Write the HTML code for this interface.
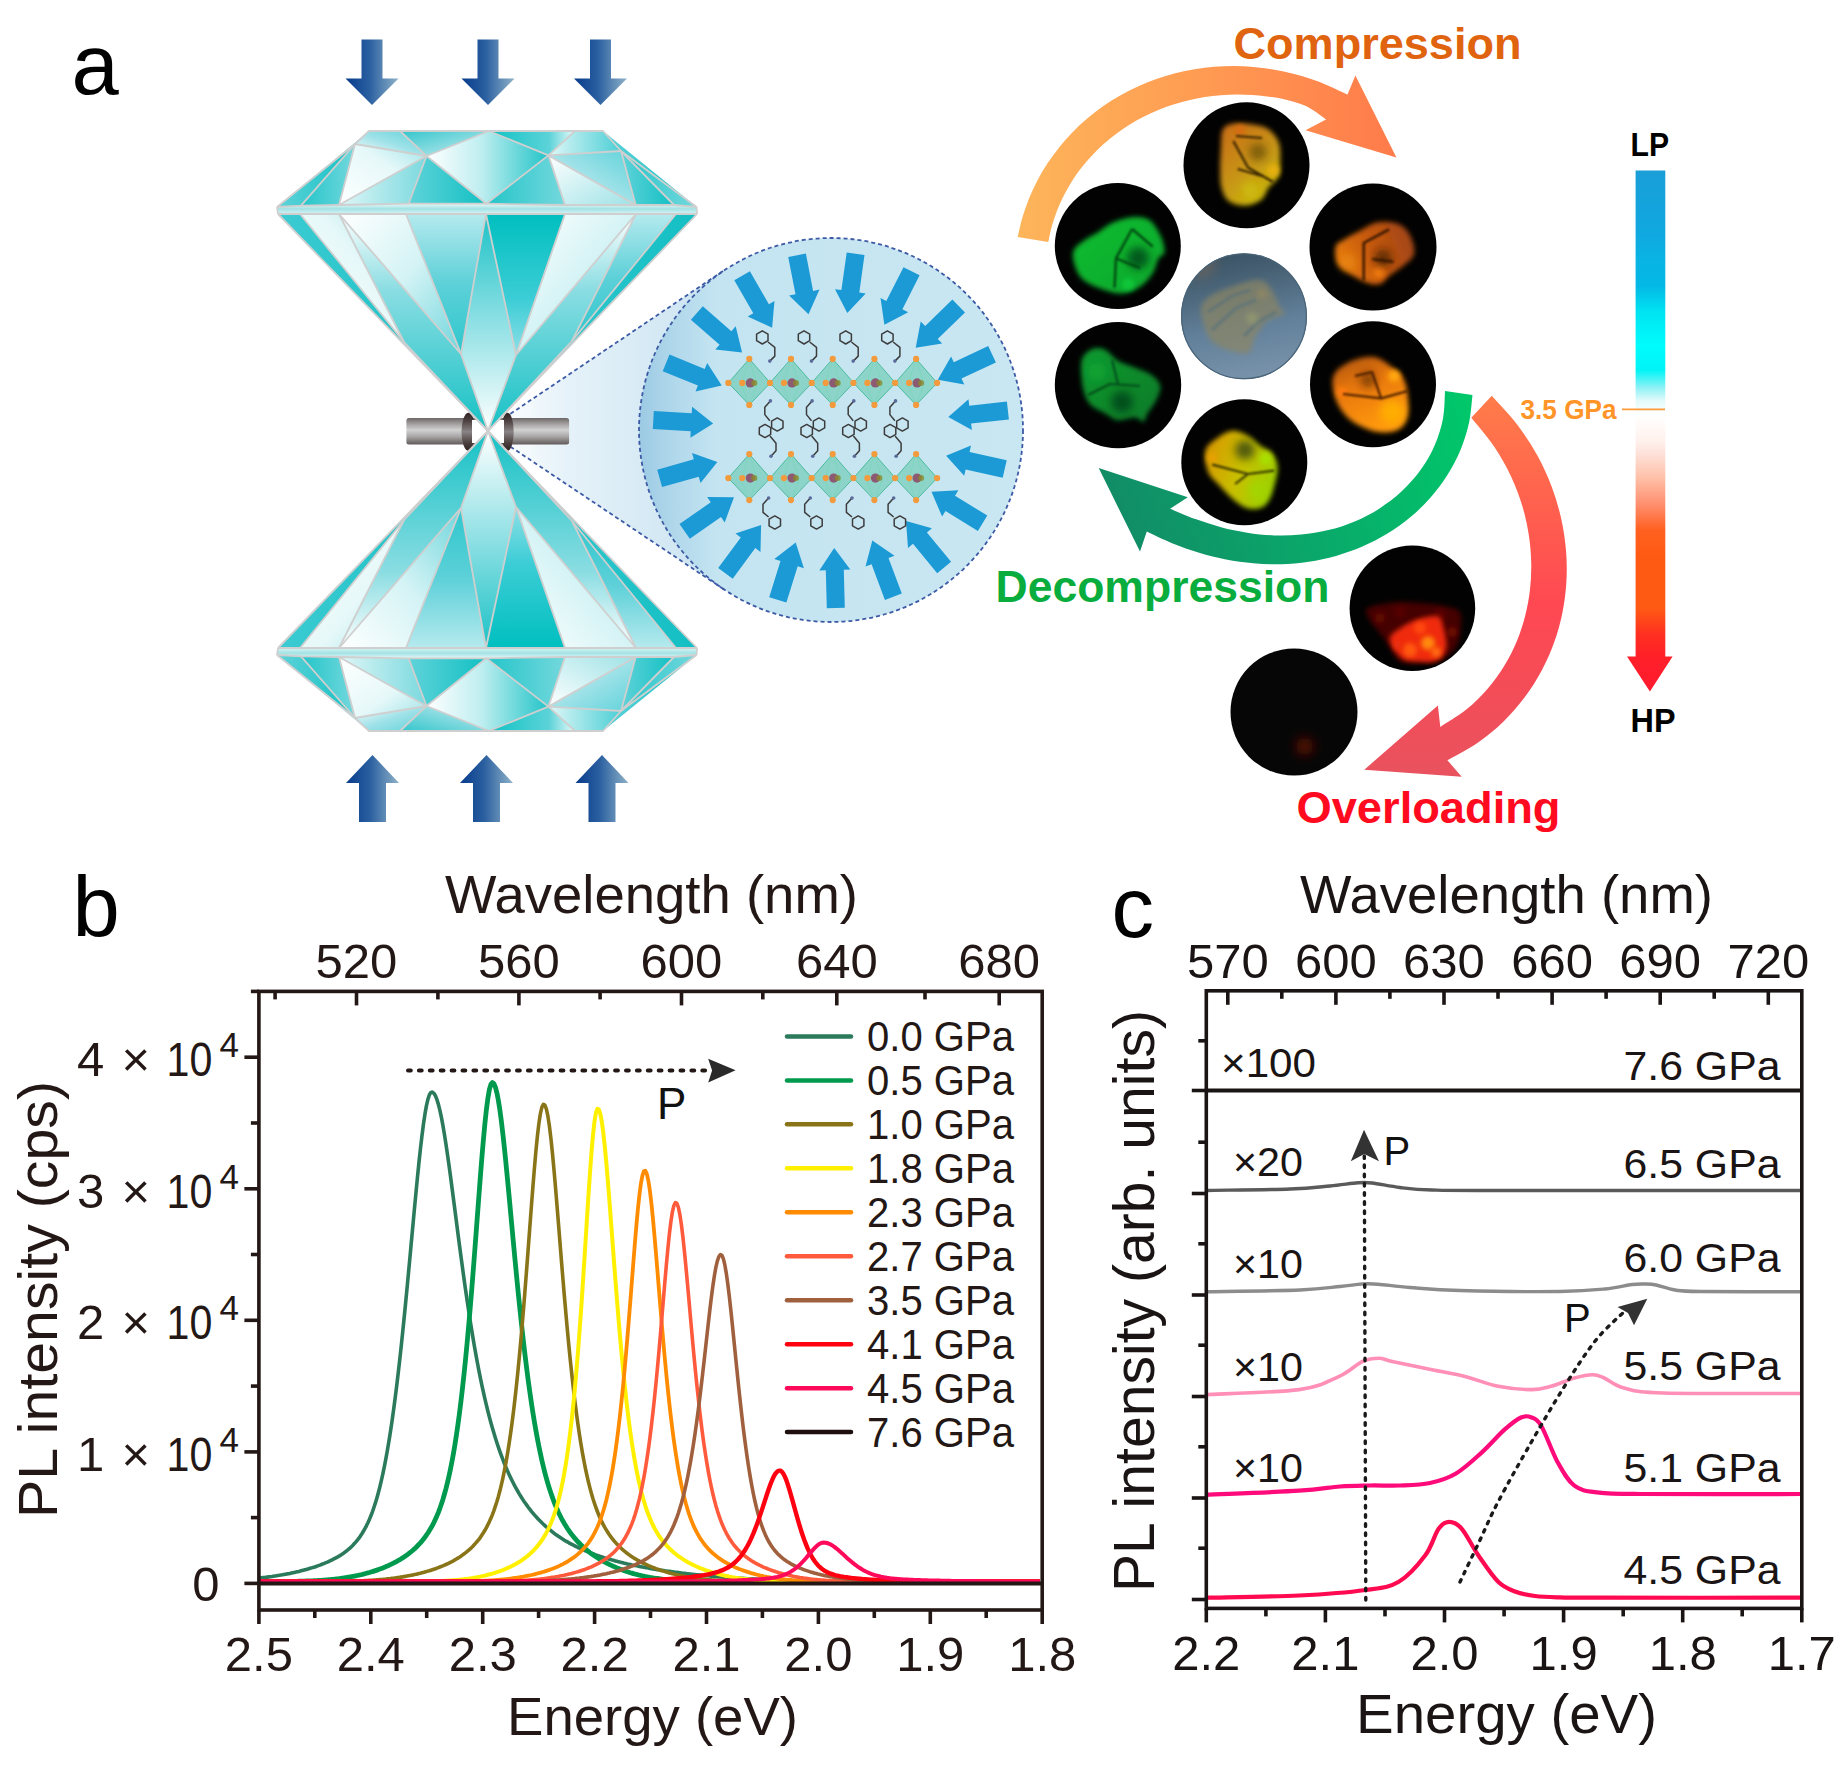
<!DOCTYPE html>
<html><head><meta charset="utf-8"><title>Figure</title>
<style>html,body{margin:0;padding:0;background:#fff;}svg{display:block;}</style>
</head><body>
<svg xmlns="http://www.w3.org/2000/svg" width="1841" height="1767" viewBox="0 0 1841 1767">
<defs>
<linearGradient id="gLt" x1="0" y1="1" x2="1" y2="0"><stop offset="0" stop-color="#ffffff"/><stop offset="0.5" stop-color="#9fe2e8"/><stop offset="1" stop-color="#5fd2da"/></linearGradient>
<linearGradient id="gLt2" x1="0" y1="0" x2="1" y2="0"><stop offset="0" stop-color="#dff6f7"/><stop offset="1" stop-color="#7ad9de"/></linearGradient>
<linearGradient id="gTW" x1="0" y1="0" x2="1" y2="1"><stop offset="0" stop-color="#33c6cc"/><stop offset="0.6" stop-color="#8fdde2"/><stop offset="1" stop-color="#ffffff"/></linearGradient>
<linearGradient id="gWT" x1="0" y1="0" x2="1" y2="0"><stop offset="0" stop-color="#ffffff"/><stop offset="0.45" stop-color="#bfeef0"/><stop offset="1" stop-color="#22c4c8"/></linearGradient>
<linearGradient id="gTT" x1="0" y1="0" x2="1" y2="0"><stop offset="0" stop-color="#0fc2c4"/><stop offset="0.7" stop-color="#5cd3d8"/><stop offset="1" stop-color="#e8fafa"/></linearGradient>
<linearGradient id="gWT2" x1="0" y1="0" x2="1" y2="0"><stop offset="0" stop-color="#e0f7f8"/><stop offset="1" stop-color="#4ccfd5"/></linearGradient>
<linearGradient id="gW" x1="0" y1="1" x2="1" y2="0"><stop offset="0" stop-color="#ffffff"/><stop offset="0.6" stop-color="#e6f8f9"/><stop offset="1" stop-color="#9fe3e8"/></linearGradient>
<linearGradient id="gW2" x1="0" y1="0" x2="1" y2="1"><stop offset="0" stop-color="#ffffff"/><stop offset="1" stop-color="#9ee2e6"/></linearGradient>
<linearGradient id="gT" x1="0" y1="0" x2="1" y2="0"><stop offset="0" stop-color="#5fd3d9"/><stop offset="1" stop-color="#12c0c3"/></linearGradient>
<linearGradient id="gT2" x1="0" y1="0" x2="1" y2="0"><stop offset="0" stop-color="#23c5c9"/><stop offset="1" stop-color="#74d8dd"/></linearGradient>
<linearGradient id="gGird" x1="0" y1="0" x2="0" y2="1"><stop offset="0" stop-color="#e8f8f8"/><stop offset="0.5" stop-color="#a3e2e4"/><stop offset="1" stop-color="#d8f4f5"/></linearGradient>
<linearGradient id="gPT" x1="0" y1="0" x2="1" y2="0"><stop offset="0" stop-color="#3ccbd2"/><stop offset="1" stop-color="#13bfc3"/></linearGradient>
<linearGradient id="gPT2" x1="0" y1="0" x2="0" y2="1"><stop offset="0" stop-color="#ffffff"/><stop offset="0.35" stop-color="#8adde2"/><stop offset="1" stop-color="#16c1c5"/></linearGradient>
<linearGradient id="gPW" x1="0" y1="0" x2="1" y2="1"><stop offset="0" stop-color="#ffffff"/><stop offset="0.5" stop-color="#d4f3f5"/><stop offset="1" stop-color="#6fd6dc"/></linearGradient>
<linearGradient id="gPL" x1="0" y1="0" x2="0" y2="1"><stop offset="0" stop-color="#b5eaee"/><stop offset="0.5" stop-color="#5dd0d8"/><stop offset="1" stop-color="#2ec7cd"/></linearGradient>
<linearGradient id="gPK" x1="0" y1="0" x2="0" y2="1"><stop offset="0" stop-color="#1cc2c6"/><stop offset="0.5" stop-color="#8ee0e4"/><stop offset="1" stop-color="#ffffff"/></linearGradient>
<linearGradient id="gPD" x1="0" y1="0" x2="0" y2="1"><stop offset="0" stop-color="#00bfbf"/><stop offset="0.6" stop-color="#3ccdd6"/><stop offset="1" stop-color="#8fdfe6"/></linearGradient>
</defs>
<rect width="1841" height="1767" fill="#ffffff"/>
<linearGradient id="gCone" x1="493" y1="0" x2="700" y2="0" gradientUnits="userSpaceOnUse"><stop offset="0" stop-color="#ffffff"/><stop offset="0.35" stop-color="#e6f2f9"/><stop offset="1" stop-color="#cde5f2"/></linearGradient>
<linearGradient id="gCirc" x1="639" y1="0" x2="1023" y2="0" gradientUnits="userSpaceOnUse"><stop offset="0" stop-color="#9ccae4"/><stop offset="0.08" stop-color="#aed6ea"/><stop offset="0.2" stop-color="#c4e4f1"/><stop offset="1" stop-color="#c9e7f2"/></linearGradient>
<path d="M492,425.5 L724.2,270.2 L831,430 L724.2,589.6 L492,435 Z" fill="url(#gCone)"/>
<circle cx="831" cy="430" r="192" fill="url(#gCirc)"/>
<circle cx="831" cy="430" r="192" fill="none" stroke="#3d5aa5" stroke-width="1.8" stroke-dasharray="4 3"/>
<path d="M493,425.5 L724.2,270.2" stroke="#3d5aa5" stroke-width="1.8" stroke-dasharray="4 3" fill="none"/>
<path d="M493,435 L724.2,589.6" stroke="#3d5aa5" stroke-width="1.8" stroke-dasharray="4 3" fill="none"/>
<polygon points="1006.9,401.5 969.2,405.7 968.5,399.2 948.3,417.1 971.9,430 971.1,423.6 1008.9,419.4" fill="#1c9ad6"/>
<polygon points="1006.7,460.2 969.6,451.9 971,445.5 946.1,455.8 964.2,475.8 965.6,469.4 1002.7,477.8" fill="#1c9ad6"/>
<polygon points="987.3,515.6 955,495.7 958.4,490.2 931.5,491.8 942.1,516.6 945.5,511 977.9,530.9" fill="#1c9ad6"/>
<polygon points="951.1,561.7 926.9,532.4 931.9,528.3 906,521.1 908,548 913,543.8 937.2,573.2" fill="#1c9ad6"/>
<polygon points="901.8,593.6 888.5,558 894.5,555.7 872.3,540.5 865.5,566.6 871.6,564.3 884.9,599.9" fill="#1c9ad6"/>
<polygon points="844.8,607.7 843.8,569.7 850.3,569.5 834.2,548 819.3,570.4 825.8,570.2 826.8,608.2" fill="#1c9ad6"/>
<polygon points="786.4,602.5 797.7,566.3 803.9,568.2 795.7,542.6 774.3,559 780.5,560.9 769.2,597.2" fill="#1c9ad6"/>
<polygon points="732.7,578.7 755.3,548.1 760.5,551.9 761.1,525 735.5,533.6 740.8,537.4 718.2,568" fill="#1c9ad6"/>
<polygon points="689.8,538.7 721,517.1 724.7,522.4 734,497.2 707.1,497 710.8,502.3 679.5,523.9" fill="#1c9ad6"/>
<polygon points="662.1,487 698.7,476.7 700.5,482.9 717.4,462 692,453.1 693.8,459.3 657.2,469.7" fill="#1c9ad6"/>
<polygon points="652.8,429 690.7,431.2 690.4,437.7 713.2,423.4 692.1,406.7 691.7,413.2 653.8,411.1" fill="#1c9ad6"/>
<polygon points="662.7,371.2 697.9,385.6 695.5,391.6 721.7,385.5 707.2,362.9 704.7,368.9 669.5,354.6" fill="#1c9ad6"/>
<polygon points="690.9,319.8 719.6,344.7 715.3,349.6 742.1,352.4 735.7,326.3 731.4,331.2 702.8,306.2" fill="#1c9ad6"/>
<polygon points="734.3,280.3 753.3,313.2 747.7,316.4 772.1,327.8 774.5,301 768.9,304.2 749.9,271.3" fill="#1c9ad6"/>
<polygon points="788.2,257 795.5,294.3 789.1,295.5 808.5,314.2 819.5,289.6 813.1,290.9 805.9,253.6" fill="#1c9ad6"/>
<polygon points="846.7,252.5 841.4,290.1 835,289.2 847.3,313.1 865.7,293.5 859.3,292.6 864.5,255" fill="#1c9ad6"/>
<polygon points="903.5,267.2 886.3,301.1 880.5,298.1 884.4,324.8 908.2,312.2 902.4,309.2 919.6,275.3" fill="#1c9ad6"/>
<polygon points="952.4,299.6 925.2,326 920.7,321.4 915.7,347.8 942.2,343.6 937.7,338.9 965,312.5" fill="#1c9ad6"/>
<polygon points="988.2,346.1 953.8,362.2 951.1,356.4 937.8,379.8 964.3,384.4 961.5,378.5 995.9,362.4" fill="#1c9ad6"/>
<polygon points="728.3,382.9 749.3,358.9 770.3,382.9 749.3,404.9" fill="#5cc4a8" fill-opacity="0.55" stroke="#4cbc9c" stroke-width="1"/>
<line x1="749.3" y1="358.9" x2="741.3" y2="384.9" stroke="#7fd6bd" stroke-width="1"/>
<line x1="749.3" y1="358.9" x2="757.3" y2="384.9" stroke="#7fd6bd" stroke-width="1"/>
<line x1="749.3" y1="404.9" x2="741.3" y2="384.9" stroke="#7fd6bd" stroke-width="1"/>
<line x1="749.3" y1="404.9" x2="757.3" y2="384.9" stroke="#7fd6bd" stroke-width="1"/>
<circle cx="750.3" cy="382.9" r="4.6" fill="#8c5a72"/>
<circle cx="754.3" cy="382.9" r="3" fill="#8a8a2a" fill-opacity="0.8"/>
<circle cx="749.3" cy="358.9" r="3.1" fill="#f39a3c"/>
<circle cx="749.3" cy="404.9" r="3.1" fill="#f39a3c"/>
<circle cx="728.3" cy="382.9" r="3.1" fill="#f39a3c"/>
<circle cx="742.3" cy="382.9" r="3.1" fill="#f39a3c"/>
<polygon points="770,382.9 791,358.9 812,382.9 791,404.9" fill="#5cc4a8" fill-opacity="0.55" stroke="#4cbc9c" stroke-width="1"/>
<line x1="791" y1="358.9" x2="783" y2="384.9" stroke="#7fd6bd" stroke-width="1"/>
<line x1="791" y1="358.9" x2="799" y2="384.9" stroke="#7fd6bd" stroke-width="1"/>
<line x1="791" y1="404.9" x2="783" y2="384.9" stroke="#7fd6bd" stroke-width="1"/>
<line x1="791" y1="404.9" x2="799" y2="384.9" stroke="#7fd6bd" stroke-width="1"/>
<circle cx="792" cy="382.9" r="4.6" fill="#8c5a72"/>
<circle cx="796" cy="382.9" r="3" fill="#8a8a2a" fill-opacity="0.8"/>
<circle cx="791" cy="358.9" r="3.1" fill="#f39a3c"/>
<circle cx="791" cy="404.9" r="3.1" fill="#f39a3c"/>
<circle cx="770" cy="382.9" r="3.1" fill="#f39a3c"/>
<circle cx="784" cy="382.9" r="3.1" fill="#f39a3c"/>
<polygon points="811.7,382.9 832.7,358.9 853.7,382.9 832.7,404.9" fill="#5cc4a8" fill-opacity="0.55" stroke="#4cbc9c" stroke-width="1"/>
<line x1="832.7" y1="358.9" x2="824.7" y2="384.9" stroke="#7fd6bd" stroke-width="1"/>
<line x1="832.7" y1="358.9" x2="840.7" y2="384.9" stroke="#7fd6bd" stroke-width="1"/>
<line x1="832.7" y1="404.9" x2="824.7" y2="384.9" stroke="#7fd6bd" stroke-width="1"/>
<line x1="832.7" y1="404.9" x2="840.7" y2="384.9" stroke="#7fd6bd" stroke-width="1"/>
<circle cx="833.7" cy="382.9" r="4.6" fill="#8c5a72"/>
<circle cx="837.7" cy="382.9" r="3" fill="#8a8a2a" fill-opacity="0.8"/>
<circle cx="832.7" cy="358.9" r="3.1" fill="#f39a3c"/>
<circle cx="832.7" cy="404.9" r="3.1" fill="#f39a3c"/>
<circle cx="811.7" cy="382.9" r="3.1" fill="#f39a3c"/>
<circle cx="825.7" cy="382.9" r="3.1" fill="#f39a3c"/>
<polygon points="853.4,382.9 874.4,358.9 895.4,382.9 874.4,404.9" fill="#5cc4a8" fill-opacity="0.55" stroke="#4cbc9c" stroke-width="1"/>
<line x1="874.4" y1="358.9" x2="866.4" y2="384.9" stroke="#7fd6bd" stroke-width="1"/>
<line x1="874.4" y1="358.9" x2="882.4" y2="384.9" stroke="#7fd6bd" stroke-width="1"/>
<line x1="874.4" y1="404.9" x2="866.4" y2="384.9" stroke="#7fd6bd" stroke-width="1"/>
<line x1="874.4" y1="404.9" x2="882.4" y2="384.9" stroke="#7fd6bd" stroke-width="1"/>
<circle cx="875.4" cy="382.9" r="4.6" fill="#8c5a72"/>
<circle cx="879.4" cy="382.9" r="3" fill="#8a8a2a" fill-opacity="0.8"/>
<circle cx="874.4" cy="358.9" r="3.1" fill="#f39a3c"/>
<circle cx="874.4" cy="404.9" r="3.1" fill="#f39a3c"/>
<circle cx="853.4" cy="382.9" r="3.1" fill="#f39a3c"/>
<circle cx="867.4" cy="382.9" r="3.1" fill="#f39a3c"/>
<polygon points="895.1,382.9 916.1,358.9 937.1,382.9 916.1,404.9" fill="#5cc4a8" fill-opacity="0.55" stroke="#4cbc9c" stroke-width="1"/>
<line x1="916.1" y1="358.9" x2="908.1" y2="384.9" stroke="#7fd6bd" stroke-width="1"/>
<line x1="916.1" y1="358.9" x2="924.1" y2="384.9" stroke="#7fd6bd" stroke-width="1"/>
<line x1="916.1" y1="404.9" x2="908.1" y2="384.9" stroke="#7fd6bd" stroke-width="1"/>
<line x1="916.1" y1="404.9" x2="924.1" y2="384.9" stroke="#7fd6bd" stroke-width="1"/>
<circle cx="917.1" cy="382.9" r="4.6" fill="#8c5a72"/>
<circle cx="921.1" cy="382.9" r="3" fill="#8a8a2a" fill-opacity="0.8"/>
<circle cx="916.1" cy="358.9" r="3.1" fill="#f39a3c"/>
<circle cx="916.1" cy="404.9" r="3.1" fill="#f39a3c"/>
<circle cx="895.1" cy="382.9" r="3.1" fill="#f39a3c"/>
<circle cx="909.1" cy="382.9" r="3.1" fill="#f39a3c"/>
<circle cx="937.1" cy="382.9" r="3.1" fill="#f39a3c"/>
<polygon points="728.3,478.1 749.3,454.1 770.3,478.1 749.3,500.1" fill="#5cc4a8" fill-opacity="0.55" stroke="#4cbc9c" stroke-width="1"/>
<line x1="749.3" y1="454.1" x2="741.3" y2="480.1" stroke="#7fd6bd" stroke-width="1"/>
<line x1="749.3" y1="454.1" x2="757.3" y2="480.1" stroke="#7fd6bd" stroke-width="1"/>
<line x1="749.3" y1="500.1" x2="741.3" y2="480.1" stroke="#7fd6bd" stroke-width="1"/>
<line x1="749.3" y1="500.1" x2="757.3" y2="480.1" stroke="#7fd6bd" stroke-width="1"/>
<circle cx="750.3" cy="478.1" r="4.6" fill="#8c5a72"/>
<circle cx="754.3" cy="478.1" r="3" fill="#8a8a2a" fill-opacity="0.8"/>
<circle cx="749.3" cy="454.1" r="3.1" fill="#f39a3c"/>
<circle cx="749.3" cy="500.1" r="3.1" fill="#f39a3c"/>
<circle cx="728.3" cy="478.1" r="3.1" fill="#f39a3c"/>
<circle cx="742.3" cy="478.1" r="3.1" fill="#f39a3c"/>
<polygon points="770,478.1 791,454.1 812,478.1 791,500.1" fill="#5cc4a8" fill-opacity="0.55" stroke="#4cbc9c" stroke-width="1"/>
<line x1="791" y1="454.1" x2="783" y2="480.1" stroke="#7fd6bd" stroke-width="1"/>
<line x1="791" y1="454.1" x2="799" y2="480.1" stroke="#7fd6bd" stroke-width="1"/>
<line x1="791" y1="500.1" x2="783" y2="480.1" stroke="#7fd6bd" stroke-width="1"/>
<line x1="791" y1="500.1" x2="799" y2="480.1" stroke="#7fd6bd" stroke-width="1"/>
<circle cx="792" cy="478.1" r="4.6" fill="#8c5a72"/>
<circle cx="796" cy="478.1" r="3" fill="#8a8a2a" fill-opacity="0.8"/>
<circle cx="791" cy="454.1" r="3.1" fill="#f39a3c"/>
<circle cx="791" cy="500.1" r="3.1" fill="#f39a3c"/>
<circle cx="770" cy="478.1" r="3.1" fill="#f39a3c"/>
<circle cx="784" cy="478.1" r="3.1" fill="#f39a3c"/>
<polygon points="811.7,478.1 832.7,454.1 853.7,478.1 832.7,500.1" fill="#5cc4a8" fill-opacity="0.55" stroke="#4cbc9c" stroke-width="1"/>
<line x1="832.7" y1="454.1" x2="824.7" y2="480.1" stroke="#7fd6bd" stroke-width="1"/>
<line x1="832.7" y1="454.1" x2="840.7" y2="480.1" stroke="#7fd6bd" stroke-width="1"/>
<line x1="832.7" y1="500.1" x2="824.7" y2="480.1" stroke="#7fd6bd" stroke-width="1"/>
<line x1="832.7" y1="500.1" x2="840.7" y2="480.1" stroke="#7fd6bd" stroke-width="1"/>
<circle cx="833.7" cy="478.1" r="4.6" fill="#8c5a72"/>
<circle cx="837.7" cy="478.1" r="3" fill="#8a8a2a" fill-opacity="0.8"/>
<circle cx="832.7" cy="454.1" r="3.1" fill="#f39a3c"/>
<circle cx="832.7" cy="500.1" r="3.1" fill="#f39a3c"/>
<circle cx="811.7" cy="478.1" r="3.1" fill="#f39a3c"/>
<circle cx="825.7" cy="478.1" r="3.1" fill="#f39a3c"/>
<polygon points="853.4,478.1 874.4,454.1 895.4,478.1 874.4,500.1" fill="#5cc4a8" fill-opacity="0.55" stroke="#4cbc9c" stroke-width="1"/>
<line x1="874.4" y1="454.1" x2="866.4" y2="480.1" stroke="#7fd6bd" stroke-width="1"/>
<line x1="874.4" y1="454.1" x2="882.4" y2="480.1" stroke="#7fd6bd" stroke-width="1"/>
<line x1="874.4" y1="500.1" x2="866.4" y2="480.1" stroke="#7fd6bd" stroke-width="1"/>
<line x1="874.4" y1="500.1" x2="882.4" y2="480.1" stroke="#7fd6bd" stroke-width="1"/>
<circle cx="875.4" cy="478.1" r="4.6" fill="#8c5a72"/>
<circle cx="879.4" cy="478.1" r="3" fill="#8a8a2a" fill-opacity="0.8"/>
<circle cx="874.4" cy="454.1" r="3.1" fill="#f39a3c"/>
<circle cx="874.4" cy="500.1" r="3.1" fill="#f39a3c"/>
<circle cx="853.4" cy="478.1" r="3.1" fill="#f39a3c"/>
<circle cx="867.4" cy="478.1" r="3.1" fill="#f39a3c"/>
<polygon points="895.1,478.1 916.1,454.1 937.1,478.1 916.1,500.1" fill="#5cc4a8" fill-opacity="0.55" stroke="#4cbc9c" stroke-width="1"/>
<line x1="916.1" y1="454.1" x2="908.1" y2="480.1" stroke="#7fd6bd" stroke-width="1"/>
<line x1="916.1" y1="454.1" x2="924.1" y2="480.1" stroke="#7fd6bd" stroke-width="1"/>
<line x1="916.1" y1="500.1" x2="908.1" y2="480.1" stroke="#7fd6bd" stroke-width="1"/>
<line x1="916.1" y1="500.1" x2="924.1" y2="480.1" stroke="#7fd6bd" stroke-width="1"/>
<circle cx="917.1" cy="478.1" r="4.6" fill="#8c5a72"/>
<circle cx="921.1" cy="478.1" r="3" fill="#8a8a2a" fill-opacity="0.8"/>
<circle cx="916.1" cy="454.1" r="3.1" fill="#f39a3c"/>
<circle cx="916.1" cy="500.1" r="3.1" fill="#f39a3c"/>
<circle cx="895.1" cy="478.1" r="3.1" fill="#f39a3c"/>
<circle cx="909.1" cy="478.1" r="3.1" fill="#f39a3c"/>
<circle cx="937.1" cy="478.1" r="3.1" fill="#f39a3c"/>
<polygon points="768,340.7 762.3,344 756.6,340.7 756.6,334.1 762.3,330.8 768,334.1" fill="none" stroke="#3c3c3c" stroke-width="1.5" stroke-linejoin="round"/>
<polyline points="768,342 774.8,347.4 774.8,356.1 769.8,361.1" fill="none" stroke="#3c3c3c" stroke-width="1.5" stroke-linejoin="round"/>
<circle cx="769.8" cy="361.1" r="1.8" fill="#5a6a9a"/>
<polyline points="770.4,400.9 764.8,407.2 764.8,414.6 769.8,420.8" fill="none" stroke="#3c3c3c" stroke-width="1.5" stroke-linejoin="round"/>
<circle cx="770.4" cy="400.9" r="1.8" fill="#5a6a9a"/>
<polygon points="783,427.8 777.3,431.1 771.6,427.8 771.6,421.2 777.3,417.9 783,421.2" fill="none" stroke="#3c3c3c" stroke-width="1.5" stroke-linejoin="round"/>
<polygon points="770.7,434.3 765,437.6 759.3,434.3 759.3,427.7 765,424.4 770.7,427.7" fill="none" stroke="#3c3c3c" stroke-width="1.5" stroke-linejoin="round"/>
<polyline points="770,436 776,443.3 776,450.7 771,456.3" fill="none" stroke="#3c3c3c" stroke-width="1.5" stroke-linejoin="round"/>
<circle cx="771" cy="456.3" r="1.8" fill="#5a6a9a"/>
<polyline points="768.6,498 763,504.3 763,512.4 768.6,517" fill="none" stroke="#3c3c3c" stroke-width="1.5" stroke-linejoin="round"/>
<circle cx="768.6" cy="498" r="1.8" fill="#5a6a9a"/>
<polygon points="780.5,525.8 774.8,529.1 769.1,525.8 769.1,519.2 774.8,515.9 780.5,519.2" fill="none" stroke="#3c3c3c" stroke-width="1.5" stroke-linejoin="round"/>
<polygon points="809.7,340.7 804,344 798.3,340.7 798.3,334.1 804,330.8 809.7,334.1" fill="none" stroke="#3c3c3c" stroke-width="1.5" stroke-linejoin="round"/>
<polyline points="809.7,342 816.5,347.4 816.5,356.1 811.5,361.1" fill="none" stroke="#3c3c3c" stroke-width="1.5" stroke-linejoin="round"/>
<circle cx="811.5" cy="361.1" r="1.8" fill="#5a6a9a"/>
<polyline points="812.1,400.9 806.5,407.2 806.5,414.6 811.5,420.8" fill="none" stroke="#3c3c3c" stroke-width="1.5" stroke-linejoin="round"/>
<circle cx="812.1" cy="400.9" r="1.8" fill="#5a6a9a"/>
<polygon points="824.7,427.8 819,431.1 813.3,427.8 813.3,421.2 819,417.9 824.7,421.2" fill="none" stroke="#3c3c3c" stroke-width="1.5" stroke-linejoin="round"/>
<polygon points="812.4,434.3 806.7,437.6 801,434.3 801,427.7 806.7,424.4 812.4,427.7" fill="none" stroke="#3c3c3c" stroke-width="1.5" stroke-linejoin="round"/>
<polyline points="811.7,436 817.7,443.3 817.7,450.7 812.7,456.3" fill="none" stroke="#3c3c3c" stroke-width="1.5" stroke-linejoin="round"/>
<circle cx="812.7" cy="456.3" r="1.8" fill="#5a6a9a"/>
<polyline points="810.3,498 804.7,504.3 804.7,512.4 810.3,517" fill="none" stroke="#3c3c3c" stroke-width="1.5" stroke-linejoin="round"/>
<circle cx="810.3" cy="498" r="1.8" fill="#5a6a9a"/>
<polygon points="822.2,525.8 816.5,529.1 810.8,525.8 810.8,519.2 816.5,515.9 822.2,519.2" fill="none" stroke="#3c3c3c" stroke-width="1.5" stroke-linejoin="round"/>
<polygon points="851.4,340.7 845.7,344 840,340.7 840,334.1 845.7,330.8 851.4,334.1" fill="none" stroke="#3c3c3c" stroke-width="1.5" stroke-linejoin="round"/>
<polyline points="851.4,342 858.2,347.4 858.2,356.1 853.2,361.1" fill="none" stroke="#3c3c3c" stroke-width="1.5" stroke-linejoin="round"/>
<circle cx="853.2" cy="361.1" r="1.8" fill="#5a6a9a"/>
<polyline points="853.8,400.9 848.2,407.2 848.2,414.6 853.2,420.8" fill="none" stroke="#3c3c3c" stroke-width="1.5" stroke-linejoin="round"/>
<circle cx="853.8" cy="400.9" r="1.8" fill="#5a6a9a"/>
<polygon points="866.4,427.8 860.7,431.1 855,427.8 855,421.2 860.7,417.9 866.4,421.2" fill="none" stroke="#3c3c3c" stroke-width="1.5" stroke-linejoin="round"/>
<polygon points="854.1,434.3 848.4,437.6 842.7,434.3 842.7,427.7 848.4,424.4 854.1,427.7" fill="none" stroke="#3c3c3c" stroke-width="1.5" stroke-linejoin="round"/>
<polyline points="853.4,436 859.4,443.3 859.4,450.7 854.4,456.3" fill="none" stroke="#3c3c3c" stroke-width="1.5" stroke-linejoin="round"/>
<circle cx="854.4" cy="456.3" r="1.8" fill="#5a6a9a"/>
<polyline points="852,498 846.4,504.3 846.4,512.4 852,517" fill="none" stroke="#3c3c3c" stroke-width="1.5" stroke-linejoin="round"/>
<circle cx="852" cy="498" r="1.8" fill="#5a6a9a"/>
<polygon points="863.9,525.8 858.2,529.1 852.5,525.8 852.5,519.2 858.2,515.9 863.9,519.2" fill="none" stroke="#3c3c3c" stroke-width="1.5" stroke-linejoin="round"/>
<polygon points="893.1,340.7 887.4,344 881.7,340.7 881.7,334.1 887.4,330.8 893.1,334.1" fill="none" stroke="#3c3c3c" stroke-width="1.5" stroke-linejoin="round"/>
<polyline points="893.1,342 899.9,347.4 899.9,356.1 894.9,361.1" fill="none" stroke="#3c3c3c" stroke-width="1.5" stroke-linejoin="round"/>
<circle cx="894.9" cy="361.1" r="1.8" fill="#5a6a9a"/>
<polyline points="895.5,400.9 889.9,407.2 889.9,414.6 894.9,420.8" fill="none" stroke="#3c3c3c" stroke-width="1.5" stroke-linejoin="round"/>
<circle cx="895.5" cy="400.9" r="1.8" fill="#5a6a9a"/>
<polygon points="908.1,427.8 902.4,431.1 896.7,427.8 896.7,421.2 902.4,417.9 908.1,421.2" fill="none" stroke="#3c3c3c" stroke-width="1.5" stroke-linejoin="round"/>
<polygon points="895.8,434.3 890.1,437.6 884.4,434.3 884.4,427.7 890.1,424.4 895.8,427.7" fill="none" stroke="#3c3c3c" stroke-width="1.5" stroke-linejoin="round"/>
<polyline points="895.1,436 901.1,443.3 901.1,450.7 896.1,456.3" fill="none" stroke="#3c3c3c" stroke-width="1.5" stroke-linejoin="round"/>
<circle cx="896.1" cy="456.3" r="1.8" fill="#5a6a9a"/>
<polyline points="893.7,498 888.1,504.3 888.1,512.4 893.7,517" fill="none" stroke="#3c3c3c" stroke-width="1.5" stroke-linejoin="round"/>
<circle cx="893.7" cy="498" r="1.8" fill="#5a6a9a"/>
<polygon points="905.6,525.8 899.9,529.1 894.2,525.8 894.2,519.2 899.9,515.9 905.6,519.2" fill="none" stroke="#3c3c3c" stroke-width="1.5" stroke-linejoin="round"/>
<linearGradient id="gGas" x1="0" y1="0" x2="0" y2="1"><stop offset="0" stop-color="#6e6868"/><stop offset="0.18" stop-color="#9a9696"/><stop offset="0.45" stop-color="#d2d2d2"/><stop offset="0.7" stop-color="#a8a6a6"/><stop offset="1" stop-color="#625a5a"/></linearGradient>
<linearGradient id="gBump" x1="0" y1="0" x2="0" y2="1"><stop offset="0" stop-color="#2e2222"/><stop offset="0.2" stop-color="#4a3e3e"/><stop offset="0.5" stop-color="#8a8484"/><stop offset="0.8" stop-color="#4a3e3e"/><stop offset="1" stop-color="#2e2222"/></linearGradient>
<rect x="406.4" y="418.1" width="162.7" height="26.4" rx="2.5" fill="url(#gGas)"/>
<ellipse cx="468.5" cy="431.7" rx="7" ry="19" fill="url(#gBump)"/>
<ellipse cx="507.5" cy="431.7" rx="6.2" ry="19" fill="url(#gBump)"/>
<rect x="472" y="420" width="32" height="23" fill="#ffffff"/>
<g>
<polygon points="369,131 400,131 426.5,156 355,144" fill="url(#gLt)"/>
<polygon points="400,131 489,131 426.5,156" fill="url(#gTW)"/>
<polygon points="489,131 548.4,155.4 486.3,203.7 426.5,156" fill="url(#gWT)"/>
<polygon points="489,131 575,131 548.4,155.4" fill="url(#gTT)"/>
<polygon points="575,131 603,131 621,151 548.4,155.4" fill="url(#gWT2)"/>
<polygon points="355,144 426.5,156 339,205" fill="url(#gW)"/>
<polygon points="426.5,156 408.6,203.7 339,205" fill="url(#gLt2)"/>
<polygon points="426.5,156 486.3,203.7 408.6,203.7" fill="url(#gT)"/>
<polygon points="548.4,155.4 486.3,203.7 565,205" fill="url(#gT2)"/>
<polygon points="548.4,155.4 565,205 635.7,205" fill="url(#gW2)"/>
<polygon points="548.4,155.4 635.7,205 621,151" fill="url(#gLt)"/>
<polygon points="277,207 355,144 301,205.6" fill="url(#gT)"/>
<polygon points="355,144 339,205 301,205.6" fill="url(#gT2)"/>
<polygon points="621,151 635.7,205 674,205" fill="url(#gT)"/>
<polygon points="621,151 674,205 696.6,207" fill="url(#gT2)"/>
<polygon points="369,131 355,144 277,207" fill="url(#gLt)"/>
<polygon points="603,131 696.6,207 621,151" fill="url(#gT)"/>
<polygon points="277,207 301,205.6 339,205 408.6,203.7 486.3,203.7 565,205 635.7,205 674,205 696.6,207 697,214 278,214" fill="url(#gGird)"/>
<polygon points="278,214 300,214 404,342 488,431" fill="url(#gPT)"/>
<polygon points="300,214 339,214 404,342" fill="url(#gW)"/>
<polygon points="339,214 461,354 488,431 404,342" fill="url(#gPT2)"/>
<polygon points="339,214 406,214 461,354" fill="url(#gPW)"/>
<polygon points="406,214 486,214 461,354" fill="url(#gPL)"/>
<polygon points="486,214 461,354 488,431" fill="url(#gPT)"/>
<polygon points="486,214 516,355 488,431 461,354" fill="url(#gPK)"/>
<polygon points="486,214 565,214 516,355" fill="url(#gPD)"/>
<polygon points="565,214 636,214 516,355" fill="url(#gPW)"/>
<polygon points="636,214 572,341 488,431 516,355" fill="url(#gPT2)"/>
<polygon points="636,214 676,214 572,341" fill="url(#gPL)"/>
<polygon points="676,214 697,214 488,431 572,341" fill="url(#gPT)"/>
<polyline points="277,207 355,144 369,131 603,131 621,151 696.6,207" fill="none" stroke="#cfcfcf" stroke-width="1.8" stroke-linejoin="round"/>
<polyline points="400,131 426.5,156 489,131 548.4,155.4 575,131" fill="none" stroke="#cfcfcf" stroke-width="1.8" stroke-linejoin="round"/>
<polyline points="355,144 426.5,156 486.3,203.7 548.4,155.4 621,151" fill="none" stroke="#cfcfcf" stroke-width="1.8" stroke-linejoin="round"/>
<polyline points="426.5,156 339,205" fill="none" stroke="#cfcfcf" stroke-width="1.8" stroke-linejoin="round"/>
<polyline points="426.5,156 408.6,203.7" fill="none" stroke="#cfcfcf" stroke-width="1.8" stroke-linejoin="round"/>
<polyline points="548.4,155.4 565,205" fill="none" stroke="#cfcfcf" stroke-width="1.8" stroke-linejoin="round"/>
<polyline points="548.4,155.4 635.7,205" fill="none" stroke="#cfcfcf" stroke-width="1.8" stroke-linejoin="round"/>
<polyline points="355,144 339,205" fill="none" stroke="#cfcfcf" stroke-width="1.8" stroke-linejoin="round"/>
<polyline points="621,151 635.7,205" fill="none" stroke="#cfcfcf" stroke-width="1.8" stroke-linejoin="round"/>
<polyline points="301,205.6 355,144" fill="none" stroke="#cfcfcf" stroke-width="1.8" stroke-linejoin="round"/>
<polyline points="674,205 621,151" fill="none" stroke="#cfcfcf" stroke-width="1.8" stroke-linejoin="round"/>
<polyline points="277,207 301,205.6 339,205 408.6,203.7 486.3,203.7 565,205 635.7,205 674,205 696.6,207" fill="none" stroke="#cfcfcf" stroke-width="1.8" stroke-linejoin="round"/>
<polyline points="278,214 697,214" fill="none" stroke="#cfcfcf" stroke-width="1.8" stroke-linejoin="round"/>
<polyline points="277,207 278,214" fill="none" stroke="#cfcfcf" stroke-width="1.8" stroke-linejoin="round"/>
<polyline points="696.6,207 697,214" fill="none" stroke="#cfcfcf" stroke-width="1.8" stroke-linejoin="round"/>
<polyline points="278,214 488,431 697,214" fill="none" stroke="#cfcfcf" stroke-width="1.8" stroke-linejoin="round"/>
<polyline points="300,214 404,342" fill="none" stroke="#cfcfcf" stroke-width="1.8" stroke-linejoin="round"/>
<polyline points="339,214 404,342" fill="none" stroke="#cfcfcf" stroke-width="1.8" stroke-linejoin="round"/>
<polyline points="339,214 461,354" fill="none" stroke="#cfcfcf" stroke-width="1.8" stroke-linejoin="round"/>
<polyline points="406,214 461,354" fill="none" stroke="#cfcfcf" stroke-width="1.8" stroke-linejoin="round"/>
<polyline points="486,214 461,354" fill="none" stroke="#cfcfcf" stroke-width="1.8" stroke-linejoin="round"/>
<polyline points="486,214 516,355" fill="none" stroke="#cfcfcf" stroke-width="1.8" stroke-linejoin="round"/>
<polyline points="565,214 516,355" fill="none" stroke="#cfcfcf" stroke-width="1.8" stroke-linejoin="round"/>
<polyline points="636,214 516,355" fill="none" stroke="#cfcfcf" stroke-width="1.8" stroke-linejoin="round"/>
<polyline points="636,214 572,341" fill="none" stroke="#cfcfcf" stroke-width="1.8" stroke-linejoin="round"/>
<polyline points="676,214 572,341" fill="none" stroke="#cfcfcf" stroke-width="1.8" stroke-linejoin="round"/>
<polyline points="404,342 488,431" fill="none" stroke="#cfcfcf" stroke-width="1.8" stroke-linejoin="round"/>
<polyline points="461,354 488,431" fill="none" stroke="#cfcfcf" stroke-width="1.8" stroke-linejoin="round"/>
<polyline points="516,355 488,431" fill="none" stroke="#cfcfcf" stroke-width="1.8" stroke-linejoin="round"/>
<polyline points="572,341 488,431" fill="none" stroke="#cfcfcf" stroke-width="1.8" stroke-linejoin="round"/>
</g>
<g transform="matrix(1 0 0 -1 0 862)">
<polygon points="369,131 400,131 426.5,156 355,144" fill="url(#gLt)"/>
<polygon points="400,131 489,131 426.5,156" fill="url(#gTW)"/>
<polygon points="489,131 548.4,155.4 486.3,203.7 426.5,156" fill="url(#gWT)"/>
<polygon points="489,131 575,131 548.4,155.4" fill="url(#gTT)"/>
<polygon points="575,131 603,131 621,151 548.4,155.4" fill="url(#gWT2)"/>
<polygon points="355,144 426.5,156 339,205" fill="url(#gW)"/>
<polygon points="426.5,156 408.6,203.7 339,205" fill="url(#gLt2)"/>
<polygon points="426.5,156 486.3,203.7 408.6,203.7" fill="url(#gT)"/>
<polygon points="548.4,155.4 486.3,203.7 565,205" fill="url(#gT2)"/>
<polygon points="548.4,155.4 565,205 635.7,205" fill="url(#gW2)"/>
<polygon points="548.4,155.4 635.7,205 621,151" fill="url(#gLt)"/>
<polygon points="277,207 355,144 301,205.6" fill="url(#gT)"/>
<polygon points="355,144 339,205 301,205.6" fill="url(#gT2)"/>
<polygon points="621,151 635.7,205 674,205" fill="url(#gT)"/>
<polygon points="621,151 674,205 696.6,207" fill="url(#gT2)"/>
<polygon points="369,131 355,144 277,207" fill="url(#gLt)"/>
<polygon points="603,131 696.6,207 621,151" fill="url(#gT)"/>
<polygon points="277,207 301,205.6 339,205 408.6,203.7 486.3,203.7 565,205 635.7,205 674,205 696.6,207 697,214 278,214" fill="url(#gGird)"/>
<polygon points="278,214 300,214 404,342 488,431" fill="url(#gPT)"/>
<polygon points="300,214 339,214 404,342" fill="url(#gW)"/>
<polygon points="339,214 461,354 488,431 404,342" fill="url(#gPT2)"/>
<polygon points="339,214 406,214 461,354" fill="url(#gPW)"/>
<polygon points="406,214 486,214 461,354" fill="url(#gPL)"/>
<polygon points="486,214 461,354 488,431" fill="url(#gPT)"/>
<polygon points="486,214 516,355 488,431 461,354" fill="url(#gPK)"/>
<polygon points="486,214 565,214 516,355" fill="url(#gPD)"/>
<polygon points="565,214 636,214 516,355" fill="url(#gPW)"/>
<polygon points="636,214 572,341 488,431 516,355" fill="url(#gPT2)"/>
<polygon points="636,214 676,214 572,341" fill="url(#gPL)"/>
<polygon points="676,214 697,214 488,431 572,341" fill="url(#gPT)"/>
<polyline points="277,207 355,144 369,131 603,131 621,151 696.6,207" fill="none" stroke="#cfcfcf" stroke-width="1.8" stroke-linejoin="round"/>
<polyline points="400,131 426.5,156 489,131 548.4,155.4 575,131" fill="none" stroke="#cfcfcf" stroke-width="1.8" stroke-linejoin="round"/>
<polyline points="355,144 426.5,156 486.3,203.7 548.4,155.4 621,151" fill="none" stroke="#cfcfcf" stroke-width="1.8" stroke-linejoin="round"/>
<polyline points="426.5,156 339,205" fill="none" stroke="#cfcfcf" stroke-width="1.8" stroke-linejoin="round"/>
<polyline points="426.5,156 408.6,203.7" fill="none" stroke="#cfcfcf" stroke-width="1.8" stroke-linejoin="round"/>
<polyline points="548.4,155.4 565,205" fill="none" stroke="#cfcfcf" stroke-width="1.8" stroke-linejoin="round"/>
<polyline points="548.4,155.4 635.7,205" fill="none" stroke="#cfcfcf" stroke-width="1.8" stroke-linejoin="round"/>
<polyline points="355,144 339,205" fill="none" stroke="#cfcfcf" stroke-width="1.8" stroke-linejoin="round"/>
<polyline points="621,151 635.7,205" fill="none" stroke="#cfcfcf" stroke-width="1.8" stroke-linejoin="round"/>
<polyline points="301,205.6 355,144" fill="none" stroke="#cfcfcf" stroke-width="1.8" stroke-linejoin="round"/>
<polyline points="674,205 621,151" fill="none" stroke="#cfcfcf" stroke-width="1.8" stroke-linejoin="round"/>
<polyline points="277,207 301,205.6 339,205 408.6,203.7 486.3,203.7 565,205 635.7,205 674,205 696.6,207" fill="none" stroke="#cfcfcf" stroke-width="1.8" stroke-linejoin="round"/>
<polyline points="278,214 697,214" fill="none" stroke="#cfcfcf" stroke-width="1.8" stroke-linejoin="round"/>
<polyline points="277,207 278,214" fill="none" stroke="#cfcfcf" stroke-width="1.8" stroke-linejoin="round"/>
<polyline points="696.6,207 697,214" fill="none" stroke="#cfcfcf" stroke-width="1.8" stroke-linejoin="round"/>
<polyline points="278,214 488,431 697,214" fill="none" stroke="#cfcfcf" stroke-width="1.8" stroke-linejoin="round"/>
<polyline points="300,214 404,342" fill="none" stroke="#cfcfcf" stroke-width="1.8" stroke-linejoin="round"/>
<polyline points="339,214 404,342" fill="none" stroke="#cfcfcf" stroke-width="1.8" stroke-linejoin="round"/>
<polyline points="339,214 461,354" fill="none" stroke="#cfcfcf" stroke-width="1.8" stroke-linejoin="round"/>
<polyline points="406,214 461,354" fill="none" stroke="#cfcfcf" stroke-width="1.8" stroke-linejoin="round"/>
<polyline points="486,214 461,354" fill="none" stroke="#cfcfcf" stroke-width="1.8" stroke-linejoin="round"/>
<polyline points="486,214 516,355" fill="none" stroke="#cfcfcf" stroke-width="1.8" stroke-linejoin="round"/>
<polyline points="565,214 516,355" fill="none" stroke="#cfcfcf" stroke-width="1.8" stroke-linejoin="round"/>
<polyline points="636,214 516,355" fill="none" stroke="#cfcfcf" stroke-width="1.8" stroke-linejoin="round"/>
<polyline points="636,214 572,341" fill="none" stroke="#cfcfcf" stroke-width="1.8" stroke-linejoin="round"/>
<polyline points="676,214 572,341" fill="none" stroke="#cfcfcf" stroke-width="1.8" stroke-linejoin="round"/>
<polyline points="404,342 488,431" fill="none" stroke="#cfcfcf" stroke-width="1.8" stroke-linejoin="round"/>
<polyline points="461,354 488,431" fill="none" stroke="#cfcfcf" stroke-width="1.8" stroke-linejoin="round"/>
<polyline points="516,355 488,431" fill="none" stroke="#cfcfcf" stroke-width="1.8" stroke-linejoin="round"/>
<polyline points="572,341 488,431" fill="none" stroke="#cfcfcf" stroke-width="1.8" stroke-linejoin="round"/>
</g>
<linearGradient id="gArr" x1="0" y1="0" x2="1" y2="0"><stop offset="0" stop-color="#083c8c"/><stop offset="0.45" stop-color="#2a5fa0"/><stop offset="1" stop-color="#8fb2c8"/></linearGradient>
<polygon points="361.5,39.5 382.5,39.5 382.5,78.6 398.5,78.6 372,105 345.5,78.6 361.5,78.6" fill="url(#gArr)"/>
<polygon points="477.5,39.5 498.5,39.5 498.5,78.6 514.5,78.6 488,105 461.5,78.6 477.5,78.6" fill="url(#gArr)"/>
<polygon points="590,39.5 611,39.5 611,78.6 627,78.6 600.5,105 574,78.6 590,78.6" fill="url(#gArr)"/>
<polygon points="359,822 386,822 386,783 399,783 372.5,755 346,783 359,783" fill="url(#gArr)"/>
<polygon points="473,822 500,822 500,783 513,783 486.5,755 460,783 473,783" fill="url(#gArr)"/>
<polygon points="588.5,822 615.5,822 615.5,783 628.5,783 602,755 575.5,783 588.5,783" fill="url(#gArr)"/>
<linearGradient id="gOr" x1="1020" y1="0" x2="1400" y2="0" gradientUnits="userSpaceOnUse"><stop offset="0" stop-color="#fdb55a"/><stop offset="0.5" stop-color="#ff9a52"/><stop offset="1" stop-color="#ff7a4a"/></linearGradient>
<linearGradient id="gGr" x1="1470" y1="395" x2="1100" y2="520" gradientUnits="userSpaceOnUse"><stop offset="0" stop-color="#00c86a"/><stop offset="0.5" stop-color="#0aa86a"/><stop offset="1" stop-color="#128a66"/></linearGradient>
<linearGradient id="gRd" x1="0" y1="396" x2="0" y2="777" gradientUnits="userSpaceOnUse"><stop offset="0" stop-color="#ff7c4a"/><stop offset="0.55" stop-color="#ff4852"/><stop offset="1" stop-color="#e8525e"/></linearGradient>
<path d="M1017.7,237 C1018.5,233.8 1020.5,223.9 1022.4,217.5 C1024.3,211.1 1026.5,204.8 1029,198.6 C1031.5,192.4 1034.3,186.3 1037.4,180.4 C1040.5,174.5 1044,168.7 1047.7,163.1 C1051.4,157.5 1055.3,152.1 1059.5,146.9 C1063.7,141.7 1068.1,136.7 1072.8,131.9 C1077.5,127.1 1082.4,122.6 1087.5,118.3 C1092.6,114 1097.8,109.9 1103.3,106.1 C1108.8,102.3 1114.4,98.8 1120.2,95.5 C1126,92.2 1131.9,89.2 1137.9,86.4 C1143.9,83.7 1150.1,81.2 1156.3,79 C1162.5,76.8 1168.8,74.9 1175.2,73.3 C1181.6,71.7 1188.1,70.3 1194.6,69.2 C1201.1,68.1 1207.6,67.3 1214.1,66.8 C1220.6,66.3 1227.2,66.1 1233.8,66.1 C1240.3,66.1 1246.9,66.4 1253.4,67 C1259.9,67.6 1266.4,68.4 1272.9,69.5 C1279.4,70.6 1285.8,72 1292.2,73.6 C1298.6,75.2 1304.9,77 1311.1,79.1 C1317.3,81.2 1323.4,83.6 1329.5,86.2 C1335.6,88.8 1344.5,93.2 1347.5,94.6 L1355.4,75.4 L1396.4,157.5 L1305.5,130.2 L1326,119.4 C1322.7,117.2 1312.8,109.3 1306,106 C1299.2,102.7 1291.2,101 1285,99.4 C1278.8,97.9 1274.3,97.4 1269,96.7 C1263.7,96 1258.3,95.4 1252.9,95.1 C1247.5,94.8 1242.2,94.6 1236.8,94.6 C1231.4,94.6 1226,94.9 1220.7,95.3 C1215.4,95.7 1210.1,96.3 1204.8,97.1 C1199.5,97.9 1194.2,99 1189,100.2 C1183.8,101.4 1178.5,102.9 1173.4,104.5 C1168.3,106.1 1163.3,108 1158.3,110 C1153.3,112 1148.4,114.3 1143.6,116.8 C1138.8,119.3 1134,121.9 1129.4,124.8 C1124.8,127.7 1120.3,130.7 1116,133.9 C1111.7,137.2 1107.4,140.7 1103.4,144.3 C1099.4,147.9 1095.5,151.7 1091.8,155.7 C1088.1,159.7 1084.5,163.8 1081.2,168.1 C1077.9,172.4 1074.7,176.9 1071.8,181.5 C1068.9,186.1 1066.2,190.8 1063.7,195.7 C1061.2,200.5 1059.1,205.5 1057.1,210.6 C1055.1,215.7 1053.4,220.8 1051.9,226 C1050.4,231.2 1048.9,239.2 1048.3,241.9 Z" fill="url(#gOr)"/>
<path d="M1472.5,395 C1471.9,399.6 1471.1,413.5 1469.1,422.6 C1467.1,431.7 1464.3,440.8 1460.7,449.4 C1457.1,458 1452.7,466.5 1447.7,474.5 C1442.7,482.5 1437,490.2 1430.8,497.3 C1424.6,504.4 1417.7,511.1 1410.5,517.1 C1403.3,523.1 1395.5,528.7 1387.5,533.6 C1379.5,538.5 1371,542.9 1362.4,546.6 C1353.8,550.3 1345,553.4 1336,555.9 C1327,558.4 1317.9,560.4 1308.7,561.8 C1299.5,563.2 1290.2,564 1281,564.2 C1271.8,564.5 1262.6,564.1 1253.4,563.3 C1244.2,562.5 1235,561.2 1226,559.5 C1217,557.8 1208,555.5 1199.1,552.8 C1190.2,550.1 1181.4,547 1172.7,543.5 C1164,540 1151.1,533.6 1146.8,531.6 L1140,551.6 L1098.7,468 L1187.8,497.3 L1170.1,508.7 C1174.3,510.4 1186.9,516 1195.4,519.1 C1203.9,522.2 1212.4,524.9 1221,527.2 C1229.6,529.5 1238.4,531.3 1247.2,532.7 C1256,534.1 1265,535.1 1274,535.4 C1283,535.7 1292,535.5 1301.1,534.6 C1310.1,533.7 1319.4,532.3 1328.3,530.1 C1337.2,527.9 1346.2,525 1354.7,521.4 C1363.2,517.8 1371.7,513.4 1379.6,508.4 C1387.5,503.3 1395.2,497.5 1402,491.1 C1408.8,484.7 1415.2,477.4 1420.7,469.8 C1426.2,462.2 1431,453.9 1434.7,445.3 C1438.4,436.8 1441.3,427.6 1443,418.5 C1444.7,409.4 1444.7,395.5 1445,390.9 Z" fill="url(#gGr)"/>
<path d="M1491.8,395.8 C1496.1,400.7 1509.9,415 1517.5,425 C1525.1,435 1531.7,445.3 1537.4,455.6 C1543.1,465.9 1547.8,476.5 1551.8,487 C1555.8,497.5 1558.8,508.2 1561.2,518.7 C1563.6,529.2 1565.1,539.8 1566,550.3 C1566.9,560.8 1567,571.3 1566.4,581.6 C1565.8,591.9 1564.5,602.1 1562.5,612.2 C1560.5,622.3 1557.8,632.3 1554.3,642 C1550.8,651.7 1546.6,661.3 1541.7,670.5 C1536.8,679.7 1531.1,688.8 1524.7,697.3 C1518.3,705.8 1511.2,714.1 1503.3,721.7 C1495.4,729.3 1486.7,736.6 1477.4,743 C1468.1,749.4 1452.4,757.3 1447.4,760.2 L1461.7,776.8 L1364.3,769.7 L1437.9,705.5 L1440.3,727.0 C1444.6,724.1 1458.4,716 1466.3,709.6 C1474.2,703.2 1481.3,696.1 1487.6,688.8 C1493.9,681.5 1499.4,673.7 1504.3,665.8 C1509.2,657.9 1513.3,649.6 1516.8,641.3 C1520.3,633 1523,624.4 1525.2,615.8 C1527.4,607.2 1529,598.4 1530,589.5 C1531,580.6 1531.4,571.7 1531.2,562.6 C1531,553.5 1530.3,544.3 1528.8,534.9 C1527.3,525.5 1525.3,516 1522.4,506.3 C1519.5,496.7 1515.9,486.9 1511.3,477 C1506.7,467.1 1501.3,457.1 1494.6,447.2 C1487.9,437.3 1475.2,422.7 1471.3,417.8 Z" fill="url(#gRd)"/>
<filter id="bl3" x="-30%" y="-30%" width="160%" height="160%"><feGaussianBlur stdDeviation="2.6"/></filter>
<filter id="bl2" x="-30%" y="-30%" width="160%" height="160%"><feGaussianBlur stdDeviation="1.3"/></filter>
<filter id="bl4" x="-50%" y="-50%" width="200%" height="200%"><feGaussianBlur stdDeviation="4"/></filter>
<filter id="bl6" x="-50%" y="-50%" width="200%" height="200%"><feGaussianBlur stdDeviation="6"/></filter>
<clipPath id="cp1"><circle cx="1246.5" cy="165.2" r="62.4"/></clipPath>
<clipPath id="cp2"><circle cx="1117.8" cy="246" r="62.4"/></clipPath>
<clipPath id="cp3"><circle cx="1373" cy="247" r="62.9"/></clipPath>
<clipPath id="cp4"><circle cx="1244" cy="316.3" r="62.4"/></clipPath>
<clipPath id="cp5"><circle cx="1118" cy="385.1" r="62.6"/></clipPath>
<clipPath id="cp6"><circle cx="1373" cy="384.2" r="62.4"/></clipPath>
<clipPath id="cp7"><circle cx="1244.3" cy="462.2" r="62.4"/></clipPath>
<clipPath id="cp8"><circle cx="1412.4" cy="608.2" r="62.199999999999996"/></clipPath>
<clipPath id="cp9"><circle cx="1294" cy="712" r="62.9"/></clipPath>
<linearGradient id="gP1" x1="0" y1="0" x2="0.6" y2="1"><stop offset="0" stop-color="#c86a14"/><stop offset="0.45" stop-color="#c88a18"/><stop offset="1" stop-color="#c8b40c"/></linearGradient>
<linearGradient id="gP2" x1="0" y1="0" x2="1" y2="1"><stop offset="0" stop-color="#12bc30"/><stop offset="1" stop-color="#0ca82c"/></linearGradient>
<linearGradient id="gP3" x1="0" y1="0.6" x2="1" y2="0.3"><stop offset="0" stop-color="#e87a08"/><stop offset="0.45" stop-color="#c65a0c"/><stop offset="1" stop-color="#a04416"/></linearGradient>
<linearGradient id="gP5" x1="0" y1="0" x2="1" y2="1"><stop offset="0" stop-color="#0c9a2e"/><stop offset="1" stop-color="#0a7a2a"/></linearGradient>
<linearGradient id="gP6" x1="0" y1="0" x2="0.4" y2="1"><stop offset="0" stop-color="#a85010"/><stop offset="0.45" stop-color="#e8780c"/><stop offset="1" stop-color="#ff9810"/></linearGradient>
<linearGradient id="gP7" x1="0" y1="0.3" x2="1" y2="0.7"><stop offset="0" stop-color="#d89a00"/><stop offset="0.5" stop-color="#c8c000"/><stop offset="1" stop-color="#98d000"/></linearGradient>
<linearGradient id="gP4" x1="0.3" y1="0" x2="0.5" y2="1"><stop offset="0" stop-color="#3a5264"/><stop offset="0.25" stop-color="#4a6478"/><stop offset="0.6" stop-color="#62809a"/><stop offset="1" stop-color="#7892aa"/></linearGradient>
<linearGradient id="gP8" x1="0" y1="0" x2="0.3" y2="1"><stop offset="0" stop-color="#4a0604"/><stop offset="0.5" stop-color="#8a1006"/><stop offset="1" stop-color="#e83010"/></linearGradient>
<circle cx="1246.5" cy="165.2" r="63" fill="#020202"/>
<g clip-path="url(#cp1)"><path d="M1223,129.3 C1225.3,125.2 1229.4,124.2 1234.8,123.5 C1240.2,122.8 1249.7,123.9 1255.3,124.9 C1260.9,125.9 1264.6,126.4 1268.5,129.3 C1272.4,132.2 1276.8,137.1 1278.8,142.5 C1280.8,147.9 1280.2,156 1280.2,161.6 C1280.2,167.2 1280.8,171.9 1278.8,176.3 C1276.8,180.7 1271.4,184.1 1268.5,188 C1265.6,191.9 1265.1,196.8 1261.2,199.7 C1257.3,202.6 1250.5,205.3 1245.1,205.6 C1239.7,205.8 1232.8,204.1 1228.9,201.2 C1225,198.3 1223,193.1 1221.6,188 C1220.1,182.9 1220.3,177 1220.2,170.4 C1220.1,163.8 1220.4,155.2 1220.9,148.4 C1221.4,141.6 1220.7,133.5 1223,129.3 Z" fill="url(#gP1)" fill-opacity="1" filter="url(#bl3)"/></g>
<g clip-path="url(#cp1)"><circle cx="1273" cy="170.4" r="6" fill="#e8b010" fill-opacity="1" filter="url(#bl3)"/></g>
<g clip-path="url(#cp1)"><circle cx="1240" cy="130" r="5" fill="#d86a10" fill-opacity="1" filter="url(#bl3)"/></g>
<g clip-path="url(#cp1)"><circle cx="1250" cy="190" r="8" fill="#d0c010" fill-opacity="0.8" filter="url(#bl4)"/></g>
<g clip-path="url(#cp1)"><circle cx="1258" cy="152" r="9" fill="#3a2a08" fill-opacity="0.5" filter="url(#bl4)"/></g>
<g clip-path="url(#cp1)" filter="url(#bl2)" opacity="0.9"><polyline points="1233.3,141 1248,167.5 1273,182" fill="none" stroke="#2a1a04" stroke-width="2.2" stroke-linejoin="round"/><polyline points="1237.7,169 1262.7,176.3" fill="none" stroke="#2a1a04" stroke-width="2.2" stroke-linejoin="round"/><polyline points="1236,136 1262,138" fill="none" stroke="#2a1a04" stroke-width="2.2" stroke-linejoin="round"/></g>
<circle cx="1117.8" cy="246" r="63" fill="#020202"/>
<g clip-path="url(#cp2)"><path d="M1073.5,251.1 C1075,246.9 1079.5,244 1083.7,240.8 C1087.9,237.6 1093.8,234.9 1098.4,232 C1103.1,229.1 1106,225.6 1111.6,223.2 C1117.2,220.8 1125.8,217.8 1132.1,217.3 C1138.4,216.8 1144.8,216.9 1149.7,220.3 C1154.6,223.7 1159,232.5 1161.5,237.9 C1164,243.3 1164.9,249.1 1164.4,252.5 C1163.9,255.9 1160.5,255 1158.5,258.4 C1156.5,261.8 1155.6,268.5 1152.7,273.1 C1149.8,277.8 1146,282.9 1140.9,286.3 C1135.8,289.7 1129,293.4 1121.9,293.6 C1114.8,293.8 1105,290.1 1098.4,287.7 C1091.8,285.2 1086.2,282.6 1082.3,278.9 C1078.4,275.2 1076.4,270.3 1074.9,265.7 C1073.4,261.1 1072,255.2 1073.5,251.1 Z" fill="url(#gP2)" fill-opacity="1" filter="url(#bl3)"/></g>
<g clip-path="url(#cp2)"><circle cx="1138" cy="258" r="11" fill="#044a14" fill-opacity="0.85" filter="url(#bl4)"/></g>
<g clip-path="url(#cp2)"><circle cx="1128" cy="284" r="6" fill="#10c838" fill-opacity="1" filter="url(#bl3)"/></g>
<g clip-path="url(#cp2)" filter="url(#bl2)" opacity="0.9"><polyline points="1132.1,229 1116,258.4 1114.5,287.7" fill="none" stroke="#044010" stroke-width="2.4" stroke-linejoin="round"/><polyline points="1132.1,229 1152.7,246.7" fill="none" stroke="#044010" stroke-width="2.4" stroke-linejoin="round"/><polyline points="1116,258.4 1140,268" fill="none" stroke="#044010" stroke-width="2.4" stroke-linejoin="round"/></g>
<circle cx="1373" cy="247" r="63.5" fill="#020202"/>
<g clip-path="url(#cp3)"><path d="M1335.7,246.4 C1336.8,242.4 1340.1,242.2 1344.1,239.6 C1348,237 1354,233.9 1359.4,231.1 C1364.8,228.3 1370.7,224 1376.4,222.6 C1382.1,221.2 1388.5,221.5 1393.4,222.6 C1398.4,223.7 1402.8,226.1 1406.1,229.4 C1409.3,232.7 1411.6,237.9 1412.9,242.2 C1414.2,246.4 1414.9,251.4 1413.8,254.9 C1412.7,258.4 1410.2,259.9 1406.1,263.4 C1402,266.9 1393.3,272.7 1389.1,276.1 C1384.8,279.5 1384.1,282.7 1380.6,283.8 C1377.1,284.9 1372.9,284.5 1367.9,282.9 C1363,281.3 1356,277.6 1350.9,274.4 C1345.8,271.1 1339.9,268.1 1337.4,263.4 C1334.9,258.7 1334.6,250.4 1335.7,246.4 Z" fill="url(#gP3)" fill-opacity="1" filter="url(#bl3)"/></g>
<g clip-path="url(#cp3)"><circle cx="1379" cy="272" r="6" fill="#f07a08" fill-opacity="1" filter="url(#bl3)"/></g>
<g clip-path="url(#cp3)"><circle cx="1383" cy="258" r="9" fill="#3a1806" fill-opacity="0.7" filter="url(#bl4)"/></g>
<g clip-path="url(#cp3)"><circle cx="1348" cy="262" r="8" fill="#ea8a0a" fill-opacity="0.8" filter="url(#bl4)"/></g>
<g clip-path="url(#cp3)" filter="url(#bl2)" opacity="0.9"><polyline points="1389.1,229.4 1363.7,243 1363.7,280.4" fill="none" stroke="#2a1204" stroke-width="2.4" stroke-linejoin="round"/><polyline points="1372.2,259.1 1393.4,261.7" fill="none" stroke="#2a1204" stroke-width="2.4" stroke-linejoin="round"/></g>
<circle cx="1244" cy="316.3" r="63" fill="url(#gP4)"/>
<g clip-path="url(#cp4)"><circle cx="1200" cy="262" r="16" fill="#7a6a58" fill-opacity="0.55" filter="url(#bl6)"/></g>
<g clip-path="url(#cp4)"><path d="M1201.4,314.7 C1200.3,307.6 1201,303.9 1205.7,299.4 C1210.4,294.9 1219.8,290.6 1229.4,287.5 C1239,284.4 1254.9,277.3 1263.4,280.7 C1271.9,284.1 1276.9,302.4 1280.4,307.9 C1283.9,313.4 1286.7,311.8 1284.6,313.9 C1282.5,316 1272.5,316.7 1267.6,320.6 C1262.6,324.6 1257.7,332.6 1254.9,337.6 C1252.1,342.6 1253,347.8 1250.6,350.4 C1248.2,353 1246.9,354.4 1240.5,353 C1234.1,351.6 1218.9,348.3 1212.4,341.9 C1205.9,335.5 1202.5,321.8 1201.4,314.7 Z" fill="#8a8462" fill-opacity="0.7" filter="url(#bl3)"/></g>
<g clip-path="url(#cp4)" filter="url(#bl2)" opacity="0.55"><polyline points="1208,312 1232,296 1250,290" fill="none" stroke="#55707e" stroke-width="3.2" stroke-linejoin="round"/><polyline points="1212,330 1236,308 1256,300" fill="none" stroke="#55707e" stroke-width="3.2" stroke-linejoin="round"/><polyline points="1244,336 1258,322 1276,312" fill="none" stroke="#55707e" stroke-width="3.2" stroke-linejoin="round"/></g>
<g clip-path="url(#cp4)"><circle cx="1252" cy="318" r="6" fill="#9aa070" fill-opacity="0.6" filter="url(#bl3)"/></g>
<g clip-path="url(#cp4)"><circle cx="1262" cy="294" r="5" fill="#9a8a60" fill-opacity="0.6" filter="url(#bl3)"/></g>
<circle cx="1244" cy="316.3" r="62.4" fill="none" stroke="#4a6478" stroke-width="1.2"/>
<circle cx="1118" cy="385.1" r="63.2" fill="#020202"/>
<g clip-path="url(#cp5)"><path d="M1082.3,358.2 C1084.1,353.8 1088.6,350.3 1092.4,348.9 C1096.2,347.5 1101,347.7 1105.2,349.7 C1109.5,351.7 1113,357.7 1117.9,360.7 C1122.9,363.7 1129.2,365.1 1134.9,367.5 C1140.6,369.9 1147.7,372.1 1151.9,375.2 C1156.2,378.3 1159.7,382 1160.4,386.2 C1161.1,390.4 1158.2,396.1 1156.1,400.6 C1154,405.1 1149.7,409.8 1147.6,413.4 C1145.5,416.9 1145.5,421.2 1143.4,421.9 C1141.3,422.6 1139.2,417.9 1134.9,417.6 C1130.7,417.3 1122.9,420.9 1117.9,420.2 C1113,419.5 1109.7,415.9 1105.2,413.4 C1100.7,410.8 1094.2,408.4 1090.7,404.9 C1087.2,401.4 1085.5,397.1 1084,392.2 C1082.5,387.2 1081.7,380.9 1081.4,375.2 C1081.1,369.5 1080.5,362.6 1082.3,358.2 Z" fill="url(#gP5)" fill-opacity="1" filter="url(#bl3)"/></g>
<g clip-path="url(#cp5)"><circle cx="1122" cy="402" r="11" fill="#04441a" fill-opacity="0.85" filter="url(#bl4)"/></g>
<g clip-path="url(#cp5)"><circle cx="1097" cy="372" r="9" fill="#12a834" fill-opacity="0.8" filter="url(#bl4)"/></g>
<g clip-path="url(#cp5)" filter="url(#bl2)" opacity="0.8"><polyline points="1088,395 1110,384 1140,386" fill="none" stroke="#04401a" stroke-width="2.2" stroke-linejoin="round"/><polyline points="1112,360 1118,384" fill="none" stroke="#04401a" stroke-width="2.2" stroke-linejoin="round"/></g>
<circle cx="1373" cy="384.2" r="63" fill="#020202"/>
<g clip-path="url(#cp6)"><path d="M1335.7,372 C1339.1,367.6 1346.7,362.8 1353.3,360.3 C1359.9,357.9 1368.4,355.9 1375.3,357.3 C1382.2,358.8 1389.8,365.6 1394.4,369 C1399.1,372.4 1401,373.7 1403.2,377.9 C1405.4,382.1 1406.9,387.6 1407.6,394 C1408.3,400.4 1409.1,410.1 1407.6,416 C1406.1,421.9 1403.7,426.5 1398.8,429.2 C1393.9,431.9 1385.9,433.3 1378.3,432.1 C1370.7,430.9 1359.9,426.3 1353.3,421.9 C1346.7,417.5 1342.1,411.6 1338.7,405.7 C1335.3,399.8 1333.3,392.3 1332.8,386.7 C1332.3,381.1 1332.3,376.4 1335.7,372 Z" fill="url(#gP6)" fill-opacity="1" filter="url(#bl3)"/></g>
<g clip-path="url(#cp6)"><circle cx="1394" cy="376" r="6" fill="#ffa810" fill-opacity="1" filter="url(#bl3)"/></g>
<g clip-path="url(#cp6)"><circle cx="1392" cy="412" r="12" fill="#ffb000" fill-opacity="0.9" filter="url(#bl4)"/></g>
<g clip-path="url(#cp6)"><circle cx="1368" cy="380" r="8" fill="#4a2006" fill-opacity="0.6" filter="url(#bl4)"/></g>
<g clip-path="url(#cp6)"><circle cx="1342" cy="392" r="5" fill="#ff7a0a" fill-opacity="1" filter="url(#bl3)"/></g>
<g clip-path="url(#cp6)" filter="url(#bl2)" opacity="0.9"><polyline points="1343,394 1381.2,398.4 1407.6,391" fill="none" stroke="#3a1804" stroke-width="2.2" stroke-linejoin="round"/><polyline points="1355,376 1372,372 1381,398" fill="none" stroke="#3a1804" stroke-width="2.2" stroke-linejoin="round"/></g>
<circle cx="1244.3" cy="462.2" r="63" fill="#020202"/>
<g clip-path="url(#cp7)"><path d="M1205.5,450.2 C1207.2,444.5 1213.7,440.6 1218.2,437.4 C1222.7,434.1 1227.6,431 1232.6,430.7 C1237.5,430.4 1243.2,433.2 1247.9,435.7 C1252.6,438.2 1256.6,443.1 1260.6,445.9 C1264.6,448.7 1268.9,449.1 1271.7,452.7 C1274.5,456.2 1277.3,461.2 1277.6,467.2 C1277.9,473.1 1275.5,482 1273.4,488.4 C1271.3,494.8 1268.9,502 1264.9,505.4 C1260.9,508.8 1254.5,509.5 1249.6,508.8 C1244.6,508.1 1240.4,505.2 1235.2,501.1 C1230,497 1222.7,489.1 1218.2,484.1 C1213.7,479.2 1210.1,477 1208,471.4 C1205.9,465.8 1203.8,455.9 1205.5,450.2 Z" fill="url(#gP7)" fill-opacity="1" filter="url(#bl3)"/></g>
<g clip-path="url(#cp7)"><circle cx="1245" cy="450" r="10" fill="#2a3a10" fill-opacity="0.75" filter="url(#bl4)"/></g>
<g clip-path="url(#cp7)"><circle cx="1265.7" cy="458.7" r="6" fill="#a8e000" fill-opacity="1" filter="url(#bl3)"/></g>
<g clip-path="url(#cp7)"><circle cx="1258" cy="490" r="10" fill="#a0d800" fill-opacity="0.8" filter="url(#bl4)"/></g>
<g clip-path="url(#cp7)"><circle cx="1212" cy="458" r="5" fill="#e8a000" fill-opacity="1" filter="url(#bl3)"/></g>
<g clip-path="url(#cp7)" filter="url(#bl2)" opacity="0.9"><polyline points="1212.3,464.6 1247.9,474 1274.2,470.6" fill="none" stroke="#2a2a06" stroke-width="2.2" stroke-linejoin="round"/><polyline points="1235.2,484 1247.9,474" fill="none" stroke="#2a2a06" stroke-width="2.2" stroke-linejoin="round"/></g>
<circle cx="1412.4" cy="608.2" r="62.8" fill="#020202"/>
<g clip-path="url(#cp8)"><path d="M1366,611 C1366.8,604.8 1383.7,604.5 1390,603 C1396.3,601.5 1398.2,601.9 1404,602 C1409.8,602.1 1418,602.8 1425,603.5 C1432,604.2 1440.1,604.8 1446,606.5 C1451.9,608.2 1458.2,608.1 1460.4,613.5 C1462.6,618.9 1460.4,632.6 1459,639 C1457.6,645.4 1455.5,648.3 1452,652 C1448.5,655.7 1443.7,659.2 1438,661 C1432.3,662.8 1424.4,663 1418,663 C1411.6,663 1405.1,664.8 1399.6,661 C1394.1,657.2 1390.6,648.3 1385,640 C1379.4,631.7 1365.2,617.2 1366,611 Z" fill="#4a0604" fill-opacity="0.95" filter="url(#bl3)"/></g>
<g clip-path="url(#cp8)"><circle cx="1380" cy="618" r="5" fill="#6a0a06" fill-opacity="0.8" filter="url(#bl3)"/></g>
<g clip-path="url(#cp8)"><circle cx="1400" cy="612" r="6" fill="#5a0806" fill-opacity="0.8" filter="url(#bl3)"/></g>
<g clip-path="url(#cp8)"><circle cx="1440" cy="615" r="6" fill="#600806" fill-opacity="0.8" filter="url(#bl3)"/></g>
<g clip-path="url(#cp8)"><circle cx="1452" cy="632" r="5" fill="#7a1008" fill-opacity="0.8" filter="url(#bl3)"/></g>
<g clip-path="url(#cp8)"><path d="M1389.7,639 C1389.7,634 1396.3,631 1401,627.7 C1405.7,624.4 1411.9,621.1 1418,619.2 C1424.1,617.3 1433.5,615 1437.8,616.4 C1442,617.8 1442.1,622.5 1443.5,627.7 C1444.9,632.9 1447.2,642.1 1446.3,647.5 C1445.3,652.9 1442.5,657.9 1437.8,660.2 C1433.1,662.6 1424.1,662.1 1418,661.6 C1411.9,661.1 1405.7,661.2 1401,657.4 C1396.3,653.6 1389.7,644 1389.7,639 Z" fill="#f02a0c" fill-opacity="1" filter="url(#bl3)"/></g>
<g clip-path="url(#cp8)"><circle cx="1428" cy="643" r="7" fill="#ff8a10" fill-opacity="1" filter="url(#bl3)"/></g>
<g clip-path="url(#cp8)"><circle cx="1410" cy="650" r="7" fill="#ff5a10" fill-opacity="1" filter="url(#bl3)"/></g>
<g clip-path="url(#cp8)"><circle cx="1420" cy="628" r="6" fill="#ff4a10" fill-opacity="1" filter="url(#bl3)"/></g>
<g clip-path="url(#cp8)"><circle cx="1436" cy="652" r="5" fill="#ff7010" fill-opacity="1" filter="url(#bl3)"/></g>
<g clip-path="url(#cp8)"><circle cx="1398" cy="645" r="4" fill="#e83010" fill-opacity="1" filter="url(#bl3)"/></g>
<circle cx="1294" cy="712" r="63.5" fill="#060606"/>
<circle cx="1304.6" cy="746.3" r="9" fill="#5a0a04" filter="url(#bl6)"/>
<linearGradient id="gBar" x1="0" y1="170" x2="0" y2="692" gradientUnits="userSpaceOnUse"><stop offset="0.0000" stop-color="#1a9ed8"/><stop offset="0.1226" stop-color="#10a8e0"/><stop offset="0.1724" stop-color="#08b4e4"/><stop offset="0.2222" stop-color="#04b8e6"/><stop offset="0.2720" stop-color="#00e4f2"/><stop offset="0.3352" stop-color="#00fcfc"/><stop offset="0.3831" stop-color="#00f4f6"/><stop offset="0.4176" stop-color="#90f2f6"/><stop offset="0.4425" stop-color="#e4fafa"/><stop offset="0.4693" stop-color="#ffffff"/><stop offset="0.5172" stop-color="#fff2ee"/><stop offset="0.5402" stop-color="#fde4dc"/><stop offset="0.5900" stop-color="#ffc0a8"/><stop offset="0.6398" stop-color="#ff9070"/><stop offset="0.6897" stop-color="#ff6020"/><stop offset="0.7395" stop-color="#ff5a14"/><stop offset="0.8391" stop-color="#ff5a14"/><stop offset="0.8889" stop-color="#ff3020"/><stop offset="0.9310" stop-color="#ff2028"/><stop offset="1.0000" stop-color="#ff1a30"/></linearGradient>
<path d="M1635.6,170.5 L1665.3,170.5 L1665.3,656.4 L1672.6,656.4 L1649.9,691.6 L1627,656.4 L1635.6,656.4 Z" fill="url(#gBar)"/>
<line x1="1622" y1="409.3" x2="1665" y2="409.3" stroke="#ff9a3a" stroke-width="1.8"/>
<text x="71.5" y="93.5" font-family="Liberation Sans, Arial, sans-serif" font-size="85" fill="#000">a</text>
<text x="1233.5" y="58.6" font-family="Liberation Sans, Arial, sans-serif" font-weight="bold" font-size="45" fill="#e0640f" textLength="288" lengthAdjust="spacingAndGlyphs">Compression</text>
<text x="995.5" y="601.8" font-family="Liberation Sans, Arial, sans-serif" font-weight="bold" font-size="44.3" fill="#08ad3e" textLength="334" lengthAdjust="spacingAndGlyphs">Decompression</text>
<text x="1296.5" y="822.5" font-family="Liberation Sans, Arial, sans-serif" font-weight="bold" font-size="45" fill="#ff0a1e" textLength="264" lengthAdjust="spacingAndGlyphs">Overloading</text>
<text x="1630.5" y="156.2" font-family="Liberation Sans, Arial, sans-serif" font-weight="bold" font-size="32.7" fill="#000" textLength="38.5" lengthAdjust="spacingAndGlyphs">LP</text>
<text x="1630.5" y="732" font-family="Liberation Sans, Arial, sans-serif" font-weight="bold" font-size="32.7" fill="#000" textLength="45" lengthAdjust="spacingAndGlyphs">HP</text>
<text x="1520.5" y="419" font-family="Liberation Sans, Arial, sans-serif" font-weight="bold" font-size="28" fill="#ff9428" textLength="96" lengthAdjust="spacingAndGlyphs">3.5 GPa</text>
<path d="M259.9,1578 L261.4,1577.8 L262.9,1577.6 L264.4,1577.5 L265.9,1577.3 L267.4,1577.1 L268.9,1576.9 L270.4,1576.7 L271.9,1576.5 L273.4,1576.2 L274.9,1576 L276.4,1575.8 L277.9,1575.5 L279.4,1575.3 L280.9,1575 L282.4,1574.8 L283.9,1574.5 L285.4,1574.2 L286.9,1573.9 L288.4,1573.7 L289.9,1573.4 L291.4,1573 L292.9,1572.7 L294.4,1572.4 L295.9,1572.1 L297.4,1571.7 L298.9,1571.4 L300.4,1571 L301.9,1570.6 L303.4,1570.2 L304.9,1569.8 L306.4,1569.4 L307.9,1569 L309.4,1568.5 L310.9,1568.1 L312.4,1567.6 L313.9,1567.2 L315.4,1566.7 L316.9,1566.2 L318.4,1565.6 L319.9,1565.1 L321.4,1564.5 L322.9,1563.9 L324.4,1563.3 L325.9,1562.7 L327.4,1562.1 L328.9,1561.4 L330.4,1560.7 L331.9,1560 L333.4,1559.2 L334.9,1558.4 L336.4,1557.6 L337.9,1556.8 L339.4,1555.9 L340.9,1554.9 L342.4,1553.9 L343.9,1552.9 L345.4,1551.8 L346.9,1550.6 L348.4,1549.4 L349.9,1548.1 L351.4,1546.7 L352.9,1545.2 L354.4,1543.6 L355.9,1541.9 L357.4,1540.1 L358.9,1538.2 L360.4,1536.1 L361.9,1533.8 L363.4,1531.3 L364.9,1528.7 L366.4,1525.8 L367.9,1522.7 L369.4,1519.4 L370.9,1515.7 L372.4,1511.8 L373.9,1507.5 L375.4,1502.9 L376.9,1497.9 L378.4,1492.5 L379.9,1486.7 L381.4,1480.4 L382.9,1473.7 L384.4,1466.4 L385.9,1458.6 L387.4,1450.3 L388.9,1441.4 L390.4,1432 L391.9,1421.9 L393.4,1411.3 L394.9,1400 L396.4,1388.2 L397.9,1375.7 L399.4,1362.7 L400.9,1349.1 L402.4,1334.9 L403.9,1320.3 L405.4,1305.2 L406.9,1289.7 L408.4,1273.8 L409.9,1257.8 L411.4,1241.5 L412.9,1225.3 L414.4,1209.1 L415.9,1193.3 L417.4,1177.8 L418.9,1163 L420.4,1149.1 L421.9,1136.2 L423.4,1124.5 L424.9,1114.4 L426.4,1105.9 L427.9,1099.4 L429.4,1094.8 L430.9,1092.4 L432.4,1092.1 L433.9,1093.3 L435.4,1095.7 L436.9,1099.5 L438.4,1104.4 L439.9,1110.4 L441.4,1117.4 L442.9,1125.4 L444.4,1134.2 L445.9,1143.8 L447.4,1153.9 L448.9,1164.5 L450.4,1175.6 L451.9,1186.9 L453.4,1198.4 L454.9,1210 L456.4,1221.6 L457.9,1233.2 L459.4,1244.7 L460.9,1256 L462.4,1267.1 L463.9,1278.1 L465.4,1288.7 L466.9,1299.1 L468.4,1309.1 L469.9,1318.9 L471.4,1328.3 L472.9,1337.4 L474.4,1346.2 L475.9,1354.6 L477.4,1362.8 L478.9,1370.6 L480.4,1378.1 L481.9,1385.3 L483.4,1392.2 L484.9,1398.8 L486.4,1405.2 L487.9,1411.3 L489.4,1417.1 L490.9,1422.7 L492.4,1428 L493.9,1433.1 L495.4,1438 L496.9,1442.7 L498.4,1447.3 L499.9,1451.6 L501.4,1455.7 L502.9,1459.7 L504.4,1463.5 L505.9,1467.1 L507.4,1470.6 L508.9,1474 L510.4,1477.2 L511.9,1480.3 L513.4,1483.3 L514.9,1486.2 L516.4,1488.9 L517.9,1491.5 L519.4,1494.1 L520.9,1496.5 L522.4,1498.9 L523.9,1501.2 L525.4,1503.3 L526.9,1505.4 L528.4,1507.5 L529.9,1509.4 L531.4,1511.3 L532.9,1513.1 L534.4,1514.9 L535.9,1516.6 L537.4,1518.2 L538.9,1519.8 L540.4,1521.3 L541.9,1522.8 L543.4,1524.2 L544.9,1525.6 L546.4,1527 L547.9,1528.3 L549.4,1529.5 L550.9,1530.7 L552.4,1531.9 L553.9,1533.1 L555.4,1534.2 L556.9,1535.2 L558.4,1536.3 L559.9,1537.3 L561.4,1538.3 L562.9,1539.2 L564.4,1540.2 L565.9,1541.1 L567.4,1541.9 L568.9,1542.8 L570.4,1543.6 L571.9,1544.4 L573.4,1545.2 L574.9,1546 L576.4,1546.7 L577.9,1547.5 L579.4,1548.2 L580.9,1548.8 L582.4,1549.5 L583.9,1550.2 L585.4,1550.8 L586.9,1551.4 L588.4,1552 L589.9,1552.6 L591.4,1553.2 L592.9,1553.8 L594.4,1554.3 L595.9,1554.9 L597.4,1555.4 L598.9,1555.9 L600.4,1556.4 L601.9,1556.9 L603.4,1557.4 L604.9,1557.9 L606.4,1558.3 L607.9,1558.8 L609.4,1559.2 L610.9,1559.6 L612.4,1560.1 L613.9,1560.5 L615.4,1560.9 L616.9,1561.3 L618.4,1561.7 L619.9,1562.1 L621.4,1562.4 L622.9,1562.8 L624.4,1563.2 L625.9,1563.5 L627.4,1563.9 L628.9,1564.2 L630.4,1564.5 L631.9,1564.9 L633.4,1565.2 L634.9,1565.5 L636.4,1565.8 L637.9,1566.1 L639.4,1566.4 L640.9,1566.7 L642.4,1567 L643.9,1567.3 L645.4,1567.6 L646.9,1567.8 L648.4,1568.1 L649.9,1568.4 L651.4,1568.6 L652.9,1568.9 L654.4,1569.1 L655.9,1569.4 L657.4,1569.6 L658.9,1569.8 L660.4,1570.1 L661.9,1570.3 L663.4,1570.5 L664.9,1570.8 L666.4,1571 L667.9,1571.2 L669.4,1571.4 L670.9,1571.6 L672.4,1571.8 L673.9,1572 L675.4,1572.2 L676.9,1572.4 L678.4,1572.6 L679.9,1572.8 L681.4,1573 L682.9,1573.2 L684.4,1573.3 L685.9,1573.5 L687.4,1573.7 L688.9,1573.9 L690.4,1574 L691.9,1574.2 L693.4,1574.4 L694.9,1574.5 L696.4,1574.7 L697.9,1574.8 L699.4,1575 L700.9,1575.1 L702.4,1575.3 L703.9,1575.4 L705.4,1575.6 L706.9,1575.7 L708.4,1575.8 L709.9,1576 L711.4,1576.1 L712.9,1576.2 L714.4,1576.4 L715.9,1576.5 L717.4,1576.6 L718.9,1576.7 L720.4,1576.9 L721.9,1577 L723.4,1577.1 L724.9,1577.2 L726.4,1577.3 L727.9,1577.4 L729.4,1577.5 L730.9,1577.6 L732.4,1577.7 L733.9,1577.8 L735.4,1577.9 L736.9,1578 L738.4,1578.1 L739.9,1578.2 L741.4,1578.3 L742.9,1578.4 L744.4,1578.5 L745.9,1578.6 L747.4,1578.7 L748.9,1578.7 L750.4,1578.8 L751.9,1578.9 L753.4,1579 L754.9,1579.1 L756.4,1579.1 L757.9,1579.2 L759.4,1579.3 L760.9,1579.3 L762.4,1579.4 L763.9,1579.5 L765.4,1579.5 L766.9,1579.6 L768.4,1579.7 L769.9,1579.7 L771.4,1579.8 L772.9,1579.8 L774.4,1579.9 L775.9,1580 L777.4,1580 L778.9,1580.1 L780.4,1580.1 L781.9,1580.2 L783.4,1580.2 L784.9,1580.2 L786.4,1580.3 L787.9,1580.3 L789.4,1580.4 L790.9,1580.4 L792.4,1580.5 L793.9,1580.5 L795.4,1580.5 L796.9,1580.6 L798.4,1580.6 L799.9,1580.6 L801.4,1580.7 L802.9,1580.7 L804.4,1580.7 L805.9,1580.8 L807.4,1580.8 L808.9,1580.8 L810.4,1580.9 L811.9,1580.9 L813.4,1580.9 L814.9,1580.9 L816.4,1581 L817.9,1581 L819.4,1581 L820.9,1581 L822.4,1581 L823.9,1581.1 L825.4,1581.1 L826.9,1581.1 L828.4,1581.1 L829.9,1581.1 L831.4,1581.2 L832.9,1581.2 L834.4,1581.2 L835.9,1581.2 L837.4,1581.2 L838.9,1581.2 L840.4,1581.2 L841.9,1581.3 L843.4,1581.3 L844.9,1581.3 L846.4,1581.3 L847.9,1581.3 L849.4,1581.3 L850.9,1581.3 L852.4,1581.3 L853.9,1581.3 L855.4,1581.4 L856.9,1581.4 L858.4,1581.4 L859.9,1581.4 L861.4,1581.4 L862.9,1581.4 L864.4,1581.4 L865.9,1581.4 L867.4,1581.4 L868.9,1581.4 L870.4,1581.4 L871.9,1581.4 L873.4,1581.4 L874.9,1581.4 L876.4,1581.4 L877.9,1581.4 L879.4,1581.4 L880.9,1581.4 L882.4,1581.4 L883.9,1581.5 L885.4,1581.5 L886.9,1581.5 L888.4,1581.5 L889.9,1581.5 L891.4,1581.5 L892.9,1581.5 L894.4,1581.5 L895.9,1581.5 L897.4,1581.5 L898.9,1581.5 L900.4,1581.5 L901.9,1581.5 L903.4,1581.5 L904.9,1581.5 L906.4,1581.5 L907.9,1581.5 L909.4,1581.5 L910.9,1581.5 L912.4,1581.5 L913.9,1581.5 L915.4,1581.5 L916.9,1581.5 L918.4,1581.5 L919.9,1581.5 L921.4,1581.5 L922.9,1581.5 L924.4,1581.5 L925.9,1581.5 L927.4,1581.5 L928.9,1581.5 L930.4,1581.5 L931.9,1581.5 L933.4,1581.5 L934.9,1581.5 L936.4,1581.5 L937.9,1581.5 L939.4,1581.5 L940.9,1581.5 L942.4,1581.5 L943.9,1581.5 L945.4,1581.5 L946.9,1581.5 L948.4,1581.5 L949.9,1581.5 L951.4,1581.5 L952.9,1581.5 L954.4,1581.5 L955.9,1581.5 L957.4,1581.5 L958.9,1581.5 L960.4,1581.5 L961.9,1581.5 L963.4,1581.5 L964.9,1581.5 L966.4,1581.5 L967.9,1581.5 L969.4,1581.5 L970.9,1581.5 L972.4,1581.5 L973.9,1581.5 L975.4,1581.5 L976.9,1581.5 L978.4,1581.5 L979.9,1581.5 L981.4,1581.5 L982.9,1581.5 L984.4,1581.5 L985.9,1581.5 L987.4,1581.5 L988.9,1581.5 L990.4,1581.5 L991.9,1581.5 L993.4,1581.5 L994.9,1581.5 L996.4,1581.5 L997.9,1581.5 L999.4,1581.5 L1000.9,1581.5 L1002.4,1581.5 L1003.9,1581.5 L1005.4,1581.5 L1006.9,1581.5 L1008.4,1581.5 L1009.9,1581.5 L1011.4,1581.5 L1012.9,1581.5 L1014.4,1581.5 L1015.9,1581.5 L1017.4,1581.5 L1018.9,1581.5 L1020.4,1581.5 L1021.9,1581.5 L1023.4,1581.5 L1024.9,1581.5 L1026.4,1581.5 L1027.9,1581.5 L1029.4,1581.5 L1030.9,1581.5 L1032.4,1581.5 L1033.9,1581.5 L1035.4,1581.5 L1036.9,1581.5 L1038.4,1581.5 L1039.9,1581.5" fill="none" stroke="#2b7a5c" stroke-width="3.6" stroke-linejoin="round"/>
<path d="M259.9,1581.5 L261.4,1581.5 L262.9,1581.5 L264.4,1581.5 L265.9,1581.5 L267.4,1581.5 L268.9,1581.5 L270.4,1581.5 L271.9,1581.5 L273.4,1581.5 L274.9,1581.5 L276.4,1581.5 L277.9,1581.5 L279.4,1581.4 L280.9,1581.4 L282.4,1581.4 L283.9,1581.4 L285.4,1581.4 L286.9,1581.4 L288.4,1581.4 L289.9,1581.4 L291.4,1581.3 L292.9,1581.3 L294.4,1581.3 L295.9,1581.3 L297.4,1581.3 L298.9,1581.2 L300.4,1581.2 L301.9,1581.2 L303.4,1581.1 L304.9,1581.1 L306.4,1581 L307.9,1581 L309.4,1580.9 L310.9,1580.9 L312.4,1580.8 L313.9,1580.7 L315.4,1580.7 L316.9,1580.6 L318.4,1580.5 L319.9,1580.4 L321.4,1580.3 L322.9,1580.2 L324.4,1580.1 L325.9,1580 L327.4,1579.9 L328.9,1579.7 L330.4,1579.6 L331.9,1579.4 L333.4,1579.3 L334.9,1579.1 L336.4,1578.9 L337.9,1578.8 L339.4,1578.6 L340.9,1578.4 L342.4,1578.2 L343.9,1578 L345.4,1577.7 L346.9,1577.5 L348.4,1577.2 L349.9,1577 L351.4,1576.7 L352.9,1576.4 L354.4,1576.1 L355.9,1575.8 L357.4,1575.5 L358.9,1575.2 L360.4,1574.8 L361.9,1574.5 L363.4,1574.1 L364.9,1573.7 L366.4,1573.3 L367.9,1572.9 L369.4,1572.5 L370.9,1572 L372.4,1571.6 L373.9,1571.1 L375.4,1570.6 L376.9,1570.1 L378.4,1569.6 L379.9,1569 L381.4,1568.5 L382.9,1567.9 L384.4,1567.3 L385.9,1566.6 L387.4,1566 L388.9,1565.3 L390.4,1564.6 L391.9,1563.9 L393.4,1563.2 L394.9,1562.4 L396.4,1561.6 L397.9,1560.7 L399.4,1559.9 L400.9,1559 L402.4,1558 L403.9,1557.1 L405.4,1556 L406.9,1555 L408.4,1553.9 L409.9,1552.7 L411.4,1551.5 L412.9,1550.2 L414.4,1548.9 L415.9,1547.5 L417.4,1546 L418.9,1544.4 L420.4,1542.8 L421.9,1541.1 L423.4,1539.2 L424.9,1537.3 L426.4,1535.2 L427.9,1533 L429.4,1530.6 L430.9,1528.1 L432.4,1525.4 L433.9,1522.5 L435.4,1519.3 L436.9,1515.9 L438.4,1512.3 L439.9,1508.3 L441.4,1504 L442.9,1499.4 L444.4,1494.3 L445.9,1488.9 L447.4,1482.9 L448.9,1476.5 L450.4,1469.5 L451.9,1461.9 L453.4,1453.7 L454.9,1444.8 L456.4,1435.2 L457.9,1424.9 L459.4,1413.7 L460.9,1401.8 L462.4,1388.9 L463.9,1375.2 L465.4,1360.7 L466.9,1345.2 L468.4,1328.8 L469.9,1311.6 L471.4,1293.6 L472.9,1274.9 L474.4,1255.6 L475.9,1235.8 L477.4,1215.8 L478.9,1195.9 L480.4,1176.3 L481.9,1157.4 L483.4,1139.7 L484.9,1123.6 L486.4,1109.6 L487.9,1098.1 L489.4,1089.5 L490.9,1084.3 L492.4,1082.5 L493.9,1083.7 L495.4,1087.1 L496.9,1092.8 L498.4,1100.6 L499.9,1110.2 L501.4,1121.5 L502.9,1134.2 L504.4,1148.1 L505.9,1162.8 L507.4,1178.3 L508.9,1194.1 L510.4,1210.3 L511.9,1226.5 L513.4,1242.6 L514.9,1258.6 L516.4,1274.2 L517.9,1289.5 L519.4,1304.3 L520.9,1318.6 L522.4,1332.3 L523.9,1345.5 L525.4,1358.1 L526.9,1370.2 L528.4,1381.7 L529.9,1392.5 L531.4,1402.8 L532.9,1412.6 L534.4,1421.8 L535.9,1430.5 L537.4,1438.7 L538.9,1446.4 L540.4,1453.6 L541.9,1460.4 L543.4,1466.8 L544.9,1472.8 L546.4,1478.4 L547.9,1483.6 L549.4,1488.5 L550.9,1493.1 L552.4,1497.4 L553.9,1501.5 L555.4,1505.3 L556.9,1508.8 L558.4,1512.2 L559.9,1515.3 L561.4,1518.3 L562.9,1521 L564.4,1523.7 L565.9,1526.1 L567.4,1528.5 L568.9,1530.7 L570.4,1532.8 L571.9,1534.7 L573.4,1536.6 L574.9,1538.4 L576.4,1540.1 L577.9,1541.8 L579.4,1543.3 L580.9,1544.8 L582.4,1546.2 L583.9,1547.6 L585.4,1548.9 L586.9,1550.2 L588.4,1551.4 L589.9,1552.6 L591.4,1553.7 L592.9,1554.8 L594.4,1555.8 L595.9,1556.8 L597.4,1557.8 L598.9,1558.7 L600.4,1559.6 L601.9,1560.5 L603.4,1561.4 L604.9,1562.2 L606.4,1563 L607.9,1563.7 L609.4,1564.5 L610.9,1565.2 L612.4,1565.9 L613.9,1566.6 L615.4,1567.2 L616.9,1567.9 L618.4,1568.5 L619.9,1569.1 L621.4,1569.6 L622.9,1570.2 L624.4,1570.7 L625.9,1571.3 L627.4,1571.8 L628.9,1572.2 L630.4,1572.7 L631.9,1573.1 L633.4,1573.6 L634.9,1574 L636.4,1574.4 L637.9,1574.8 L639.4,1575.2 L640.9,1575.5 L642.4,1575.9 L643.9,1576.2 L645.4,1576.5 L646.9,1576.8 L648.4,1577.1 L649.9,1577.4 L651.4,1577.6 L652.9,1577.9 L654.4,1578.1 L655.9,1578.3 L657.4,1578.5 L658.9,1578.7 L660.4,1578.9 L661.9,1579.1 L663.4,1579.3 L664.9,1579.5 L666.4,1579.6 L667.9,1579.8 L669.4,1579.9 L670.9,1580 L672.4,1580.1 L673.9,1580.3 L675.4,1580.4 L676.9,1580.5 L678.4,1580.5 L679.9,1580.6 L681.4,1580.7 L682.9,1580.8 L684.4,1580.9 L685.9,1580.9 L687.4,1581 L688.9,1581 L690.4,1581.1 L691.9,1581.1 L693.4,1581.2 L694.9,1581.2 L696.4,1581.2 L697.9,1581.3 L699.4,1581.3 L700.9,1581.3 L702.4,1581.3 L703.9,1581.3 L705.4,1581.4 L706.9,1581.4 L708.4,1581.4 L709.9,1581.4 L711.4,1581.4 L712.9,1581.4 L714.4,1581.4 L715.9,1581.4 L717.4,1581.5 L718.9,1581.5 L720.4,1581.5 L721.9,1581.5 L723.4,1581.5 L724.9,1581.5 L726.4,1581.5 L727.9,1581.5 L729.4,1581.5 L730.9,1581.5 L732.4,1581.5 L733.9,1581.5 L735.4,1581.5 L736.9,1581.5 L738.4,1581.5 L739.9,1581.5 L741.4,1581.5 L742.9,1581.5 L744.4,1581.5 L745.9,1581.5 L747.4,1581.5 L748.9,1581.5 L750.4,1581.5 L751.9,1581.5 L753.4,1581.5 L754.9,1581.5 L756.4,1581.5 L757.9,1581.5 L759.4,1581.5 L760.9,1581.5 L762.4,1581.5 L763.9,1581.5 L765.4,1581.5 L766.9,1581.5 L768.4,1581.5 L769.9,1581.5 L771.4,1581.5 L772.9,1581.5 L774.4,1581.5 L775.9,1581.5 L777.4,1581.5 L778.9,1581.5 L780.4,1581.5 L781.9,1581.5 L783.4,1581.5 L784.9,1581.5 L786.4,1581.5 L787.9,1581.5 L789.4,1581.5 L790.9,1581.5 L792.4,1581.5 L793.9,1581.5 L795.4,1581.5 L796.9,1581.5 L798.4,1581.5 L799.9,1581.5 L801.4,1581.5 L802.9,1581.5 L804.4,1581.5 L805.9,1581.5 L807.4,1581.5 L808.9,1581.5 L810.4,1581.5 L811.9,1581.5 L813.4,1581.5 L814.9,1581.5 L816.4,1581.5 L817.9,1581.5 L819.4,1581.5 L820.9,1581.5 L822.4,1581.5 L823.9,1581.5 L825.4,1581.5 L826.9,1581.5 L828.4,1581.5 L829.9,1581.5 L831.4,1581.5 L832.9,1581.5 L834.4,1581.5 L835.9,1581.5 L837.4,1581.5 L838.9,1581.5 L840.4,1581.5 L841.9,1581.5 L843.4,1581.5 L844.9,1581.5 L846.4,1581.5 L847.9,1581.5 L849.4,1581.5 L850.9,1581.5 L852.4,1581.5 L853.9,1581.5 L855.4,1581.5 L856.9,1581.5 L858.4,1581.5 L859.9,1581.5 L861.4,1581.5 L862.9,1581.5 L864.4,1581.5 L865.9,1581.5 L867.4,1581.5 L868.9,1581.5 L870.4,1581.5 L871.9,1581.5 L873.4,1581.5 L874.9,1581.5 L876.4,1581.5 L877.9,1581.5 L879.4,1581.5 L880.9,1581.5 L882.4,1581.5 L883.9,1581.5 L885.4,1581.5 L886.9,1581.5 L888.4,1581.5 L889.9,1581.5 L891.4,1581.5 L892.9,1581.5 L894.4,1581.5 L895.9,1581.5 L897.4,1581.5 L898.9,1581.5 L900.4,1581.5 L901.9,1581.5 L903.4,1581.5 L904.9,1581.5 L906.4,1581.5 L907.9,1581.5 L909.4,1581.5 L910.9,1581.5 L912.4,1581.5 L913.9,1581.5 L915.4,1581.5 L916.9,1581.5 L918.4,1581.5 L919.9,1581.5 L921.4,1581.5 L922.9,1581.5 L924.4,1581.5 L925.9,1581.5 L927.4,1581.5 L928.9,1581.5 L930.4,1581.5 L931.9,1581.5 L933.4,1581.5 L934.9,1581.5 L936.4,1581.5 L937.9,1581.5 L939.4,1581.5 L940.9,1581.5 L942.4,1581.5 L943.9,1581.5 L945.4,1581.5 L946.9,1581.5 L948.4,1581.5 L949.9,1581.5 L951.4,1581.5 L952.9,1581.5 L954.4,1581.5 L955.9,1581.5 L957.4,1581.5 L958.9,1581.5 L960.4,1581.5 L961.9,1581.5 L963.4,1581.5 L964.9,1581.5 L966.4,1581.5 L967.9,1581.5 L969.4,1581.5 L970.9,1581.5 L972.4,1581.5 L973.9,1581.5 L975.4,1581.5 L976.9,1581.5 L978.4,1581.5 L979.9,1581.5 L981.4,1581.5 L982.9,1581.5 L984.4,1581.5 L985.9,1581.5 L987.4,1581.5 L988.9,1581.5 L990.4,1581.5 L991.9,1581.5 L993.4,1581.5 L994.9,1581.5 L996.4,1581.5 L997.9,1581.5 L999.4,1581.5 L1000.9,1581.5 L1002.4,1581.5 L1003.9,1581.5 L1005.4,1581.5 L1006.9,1581.5 L1008.4,1581.5 L1009.9,1581.5 L1011.4,1581.5 L1012.9,1581.5 L1014.4,1581.5 L1015.9,1581.5 L1017.4,1581.5 L1018.9,1581.5 L1020.4,1581.5 L1021.9,1581.5 L1023.4,1581.5 L1024.9,1581.5 L1026.4,1581.5 L1027.9,1581.5 L1029.4,1581.5 L1030.9,1581.5 L1032.4,1581.5 L1033.9,1581.5 L1035.4,1581.5 L1036.9,1581.5 L1038.4,1581.5 L1039.9,1581.5" fill="none" stroke="#009a4e" stroke-width="4.8" stroke-linejoin="round"/>
<path d="M259.9,1581.5 L261.4,1581.5 L262.9,1581.5 L264.4,1581.5 L265.9,1581.5 L267.4,1581.5 L268.9,1581.5 L270.4,1581.5 L271.9,1581.5 L273.4,1581.5 L274.9,1581.5 L276.4,1581.5 L277.9,1581.5 L279.4,1581.5 L280.9,1581.5 L282.4,1581.5 L283.9,1581.5 L285.4,1581.5 L286.9,1581.5 L288.4,1581.5 L289.9,1581.5 L291.4,1581.5 L292.9,1581.5 L294.4,1581.5 L295.9,1581.5 L297.4,1581.5 L298.9,1581.5 L300.4,1581.5 L301.9,1581.5 L303.4,1581.5 L304.9,1581.5 L306.4,1581.5 L307.9,1581.5 L309.4,1581.5 L310.9,1581.5 L312.4,1581.5 L313.9,1581.5 L315.4,1581.5 L316.9,1581.5 L318.4,1581.5 L319.9,1581.5 L321.4,1581.5 L322.9,1581.5 L324.4,1581.5 L325.9,1581.4 L327.4,1581.4 L328.9,1581.4 L330.4,1581.4 L331.9,1581.4 L333.4,1581.4 L334.9,1581.4 L336.4,1581.4 L337.9,1581.4 L339.4,1581.3 L340.9,1581.3 L342.4,1581.3 L343.9,1581.3 L345.4,1581.2 L346.9,1581.2 L348.4,1581.2 L349.9,1581.1 L351.4,1581.1 L352.9,1581.1 L354.4,1581 L355.9,1581 L357.4,1580.9 L358.9,1580.9 L360.4,1580.8 L361.9,1580.8 L363.4,1580.7 L364.9,1580.6 L366.4,1580.6 L367.9,1580.5 L369.4,1580.4 L370.9,1580.3 L372.4,1580.2 L373.9,1580.1 L375.4,1580 L376.9,1579.9 L378.4,1579.8 L379.9,1579.6 L381.4,1579.5 L382.9,1579.4 L384.4,1579.2 L385.9,1579.1 L387.4,1578.9 L388.9,1578.7 L390.4,1578.6 L391.9,1578.4 L393.4,1578.2 L394.9,1578 L396.4,1577.8 L397.9,1577.6 L399.4,1577.4 L400.9,1577.1 L402.4,1576.9 L403.9,1576.6 L405.4,1576.4 L406.9,1576.1 L408.4,1575.8 L409.9,1575.5 L411.4,1575.2 L412.9,1574.9 L414.4,1574.6 L415.9,1574.3 L417.4,1573.9 L418.9,1573.5 L420.4,1573.2 L421.9,1572.8 L423.4,1572.4 L424.9,1572 L426.4,1571.6 L427.9,1571.1 L429.4,1570.7 L430.9,1570.2 L432.4,1569.7 L433.9,1569.2 L435.4,1568.7 L436.9,1568.2 L438.4,1567.6 L439.9,1567 L441.4,1566.4 L442.9,1565.8 L444.4,1565.2 L445.9,1564.5 L447.4,1563.8 L448.9,1563.1 L450.4,1562.3 L451.9,1561.6 L453.4,1560.8 L454.9,1559.9 L456.4,1559 L457.9,1558.1 L459.4,1557.2 L460.9,1556.2 L462.4,1555.1 L463.9,1554 L465.4,1552.9 L466.9,1551.7 L468.4,1550.4 L469.9,1549.1 L471.4,1547.7 L472.9,1546.2 L474.4,1544.6 L475.9,1542.9 L477.4,1541.2 L478.9,1539.3 L480.4,1537.3 L481.9,1535.1 L483.4,1532.8 L484.9,1530.3 L486.4,1527.6 L487.9,1524.7 L489.4,1521.6 L490.9,1518.2 L492.4,1514.6 L493.9,1510.6 L495.4,1506.2 L496.9,1501.5 L498.4,1496.4 L499.9,1490.8 L501.4,1484.6 L502.9,1478 L504.4,1470.7 L505.9,1462.8 L507.4,1454.2 L508.9,1444.9 L510.4,1434.8 L511.9,1423.9 L513.4,1412.2 L514.9,1399.5 L516.4,1385.9 L517.9,1371.4 L519.4,1356 L520.9,1339.6 L522.4,1322.3 L523.9,1304.3 L525.4,1285.4 L526.9,1266 L528.4,1246.1 L529.9,1226.1 L531.4,1206.2 L532.9,1186.8 L534.4,1168.3 L535.9,1151.2 L537.4,1136.1 L538.9,1123.4 L540.4,1113.6 L541.9,1107.2 L543.4,1104.3 L544.9,1105.1 L546.4,1109.1 L547.9,1116.2 L549.4,1126 L550.9,1138.4 L552.4,1152.8 L553.9,1168.9 L555.4,1186.2 L556.9,1204.3 L558.4,1222.9 L559.9,1241.6 L561.4,1260.3 L562.9,1278.6 L564.4,1296.5 L565.9,1313.7 L567.4,1330.3 L568.9,1346.1 L570.4,1361.1 L571.9,1375.3 L573.4,1388.7 L574.9,1401.3 L576.4,1413 L577.9,1424 L579.4,1434.3 L580.9,1443.8 L582.4,1452.6 L583.9,1460.8 L585.4,1468.4 L586.9,1475.4 L588.4,1481.9 L589.9,1487.9 L591.4,1493.4 L592.9,1498.5 L594.4,1503.2 L595.9,1507.5 L597.4,1511.5 L598.9,1515.3 L600.4,1518.7 L601.9,1521.9 L603.4,1524.8 L604.9,1527.6 L606.4,1530.1 L607.9,1532.5 L609.4,1534.8 L610.9,1536.9 L612.4,1538.8 L613.9,1540.7 L615.4,1542.4 L616.9,1544.1 L618.4,1545.6 L619.9,1547.1 L621.4,1548.5 L622.9,1549.9 L624.4,1551.1 L625.9,1552.3 L627.4,1553.5 L628.9,1554.6 L630.4,1555.7 L631.9,1556.7 L633.4,1557.7 L634.9,1558.6 L636.4,1559.5 L637.9,1560.4 L639.4,1561.2 L640.9,1562 L642.4,1562.8 L643.9,1563.5 L645.4,1564.2 L646.9,1564.9 L648.4,1565.6 L649.9,1566.2 L651.4,1566.8 L652.9,1567.4 L654.4,1568 L655.9,1568.6 L657.4,1569.1 L658.9,1569.7 L660.4,1570.2 L661.9,1570.7 L663.4,1571.1 L664.9,1571.6 L666.4,1572 L667.9,1572.5 L669.4,1572.9 L670.9,1573.3 L672.4,1573.7 L673.9,1574 L675.4,1574.4 L676.9,1574.7 L678.4,1575.1 L679.9,1575.4 L681.4,1575.7 L682.9,1576 L684.4,1576.3 L685.9,1576.6 L687.4,1576.9 L688.9,1577.1 L690.4,1577.4 L691.9,1577.6 L693.4,1577.8 L694.9,1578 L696.4,1578.2 L697.9,1578.4 L699.4,1578.6 L700.9,1578.8 L702.4,1579 L703.9,1579.2 L705.4,1579.3 L706.9,1579.5 L708.4,1579.6 L709.9,1579.7 L711.4,1579.9 L712.9,1580 L714.4,1580.1 L715.9,1580.2 L717.4,1580.3 L718.9,1580.4 L720.4,1580.5 L721.9,1580.6 L723.4,1580.6 L724.9,1580.7 L726.4,1580.8 L727.9,1580.8 L729.4,1580.9 L730.9,1581 L732.4,1581 L733.9,1581.1 L735.4,1581.1 L736.9,1581.1 L738.4,1581.2 L739.9,1581.2 L741.4,1581.2 L742.9,1581.3 L744.4,1581.3 L745.9,1581.3 L747.4,1581.3 L748.9,1581.4 L750.4,1581.4 L751.9,1581.4 L753.4,1581.4 L754.9,1581.4 L756.4,1581.4 L757.9,1581.4 L759.4,1581.4 L760.9,1581.4 L762.4,1581.5 L763.9,1581.5 L765.4,1581.5 L766.9,1581.5 L768.4,1581.5 L769.9,1581.5 L771.4,1581.5 L772.9,1581.5 L774.4,1581.5 L775.9,1581.5 L777.4,1581.5 L778.9,1581.5 L780.4,1581.5 L781.9,1581.5 L783.4,1581.5 L784.9,1581.5 L786.4,1581.5 L787.9,1581.5 L789.4,1581.5 L790.9,1581.5 L792.4,1581.5 L793.9,1581.5 L795.4,1581.5 L796.9,1581.5 L798.4,1581.5 L799.9,1581.5 L801.4,1581.5 L802.9,1581.5 L804.4,1581.5 L805.9,1581.5 L807.4,1581.5 L808.9,1581.5 L810.4,1581.5 L811.9,1581.5 L813.4,1581.5 L814.9,1581.5 L816.4,1581.5 L817.9,1581.5 L819.4,1581.5 L820.9,1581.5 L822.4,1581.5 L823.9,1581.5 L825.4,1581.5 L826.9,1581.5 L828.4,1581.5 L829.9,1581.5 L831.4,1581.5 L832.9,1581.5 L834.4,1581.5 L835.9,1581.5 L837.4,1581.5 L838.9,1581.5 L840.4,1581.5 L841.9,1581.5 L843.4,1581.5 L844.9,1581.5 L846.4,1581.5 L847.9,1581.5 L849.4,1581.5 L850.9,1581.5 L852.4,1581.5 L853.9,1581.5 L855.4,1581.5 L856.9,1581.5 L858.4,1581.5 L859.9,1581.5 L861.4,1581.5 L862.9,1581.5 L864.4,1581.5 L865.9,1581.5 L867.4,1581.5 L868.9,1581.5 L870.4,1581.5 L871.9,1581.5 L873.4,1581.5 L874.9,1581.5 L876.4,1581.5 L877.9,1581.5 L879.4,1581.5 L880.9,1581.5 L882.4,1581.5 L883.9,1581.5 L885.4,1581.5 L886.9,1581.5 L888.4,1581.5 L889.9,1581.5 L891.4,1581.5 L892.9,1581.5 L894.4,1581.5 L895.9,1581.5 L897.4,1581.5 L898.9,1581.5 L900.4,1581.5 L901.9,1581.5 L903.4,1581.5 L904.9,1581.5 L906.4,1581.5 L907.9,1581.5 L909.4,1581.5 L910.9,1581.5 L912.4,1581.5 L913.9,1581.5 L915.4,1581.5 L916.9,1581.5 L918.4,1581.5 L919.9,1581.5 L921.4,1581.5 L922.9,1581.5 L924.4,1581.5 L925.9,1581.5 L927.4,1581.5 L928.9,1581.5 L930.4,1581.5 L931.9,1581.5 L933.4,1581.5 L934.9,1581.5 L936.4,1581.5 L937.9,1581.5 L939.4,1581.5 L940.9,1581.5 L942.4,1581.5 L943.9,1581.5 L945.4,1581.5 L946.9,1581.5 L948.4,1581.5 L949.9,1581.5 L951.4,1581.5 L952.9,1581.5 L954.4,1581.5 L955.9,1581.5 L957.4,1581.5 L958.9,1581.5 L960.4,1581.5 L961.9,1581.5 L963.4,1581.5 L964.9,1581.5 L966.4,1581.5 L967.9,1581.5 L969.4,1581.5 L970.9,1581.5 L972.4,1581.5 L973.9,1581.5 L975.4,1581.5 L976.9,1581.5 L978.4,1581.5 L979.9,1581.5 L981.4,1581.5 L982.9,1581.5 L984.4,1581.5 L985.9,1581.5 L987.4,1581.5 L988.9,1581.5 L990.4,1581.5 L991.9,1581.5 L993.4,1581.5 L994.9,1581.5 L996.4,1581.5 L997.9,1581.5 L999.4,1581.5 L1000.9,1581.5 L1002.4,1581.5 L1003.9,1581.5 L1005.4,1581.5 L1006.9,1581.5 L1008.4,1581.5 L1009.9,1581.5 L1011.4,1581.5 L1012.9,1581.5 L1014.4,1581.5 L1015.9,1581.5 L1017.4,1581.5 L1018.9,1581.5 L1020.4,1581.5 L1021.9,1581.5 L1023.4,1581.5 L1024.9,1581.5 L1026.4,1581.5 L1027.9,1581.5 L1029.4,1581.5 L1030.9,1581.5 L1032.4,1581.5 L1033.9,1581.5 L1035.4,1581.5 L1036.9,1581.5 L1038.4,1581.5 L1039.9,1581.5" fill="none" stroke="#8a7418" stroke-width="3.6" stroke-linejoin="round"/>
<path d="M259.9,1581.5 L261.4,1581.5 L262.9,1581.5 L264.4,1581.5 L265.9,1581.5 L267.4,1581.5 L268.9,1581.5 L270.4,1581.5 L271.9,1581.5 L273.4,1581.5 L274.9,1581.5 L276.4,1581.5 L277.9,1581.5 L279.4,1581.5 L280.9,1581.5 L282.4,1581.5 L283.9,1581.5 L285.4,1581.5 L286.9,1581.5 L288.4,1581.5 L289.9,1581.5 L291.4,1581.5 L292.9,1581.5 L294.4,1581.5 L295.9,1581.5 L297.4,1581.5 L298.9,1581.5 L300.4,1581.5 L301.9,1581.5 L303.4,1581.5 L304.9,1581.5 L306.4,1581.5 L307.9,1581.5 L309.4,1581.5 L310.9,1581.5 L312.4,1581.5 L313.9,1581.5 L315.4,1581.5 L316.9,1581.5 L318.4,1581.5 L319.9,1581.5 L321.4,1581.5 L322.9,1581.5 L324.4,1581.5 L325.9,1581.5 L327.4,1581.5 L328.9,1581.5 L330.4,1581.5 L331.9,1581.5 L333.4,1581.5 L334.9,1581.5 L336.4,1581.5 L337.9,1581.5 L339.4,1581.5 L340.9,1581.5 L342.4,1581.5 L343.9,1581.5 L345.4,1581.5 L346.9,1581.5 L348.4,1581.5 L349.9,1581.5 L351.4,1581.5 L352.9,1581.5 L354.4,1581.5 L355.9,1581.5 L357.4,1581.5 L358.9,1581.5 L360.4,1581.5 L361.9,1581.5 L363.4,1581.5 L364.9,1581.5 L366.4,1581.5 L367.9,1581.5 L369.4,1581.5 L370.9,1581.5 L372.4,1581.5 L373.9,1581.5 L375.4,1581.5 L376.9,1581.5 L378.4,1581.5 L379.9,1581.5 L381.4,1581.5 L382.9,1581.5 L384.4,1581.5 L385.9,1581.5 L387.4,1581.5 L388.9,1581.5 L390.4,1581.5 L391.9,1581.5 L393.4,1581.5 L394.9,1581.5 L396.4,1581.5 L397.9,1581.5 L399.4,1581.5 L400.9,1581.5 L402.4,1581.5 L403.9,1581.5 L405.4,1581.5 L406.9,1581.5 L408.4,1581.5 L409.9,1581.5 L411.4,1581.5 L412.9,1581.5 L414.4,1581.5 L415.9,1581.4 L417.4,1581.4 L418.9,1581.4 L420.4,1581.4 L421.9,1581.4 L423.4,1581.4 L424.9,1581.4 L426.4,1581.3 L427.9,1581.3 L429.4,1581.3 L430.9,1581.3 L432.4,1581.2 L433.9,1581.2 L435.4,1581.2 L436.9,1581.1 L438.4,1581.1 L439.9,1581 L441.4,1581 L442.9,1580.9 L444.4,1580.8 L445.9,1580.8 L447.4,1580.7 L448.9,1580.6 L450.4,1580.5 L451.9,1580.4 L453.4,1580.3 L454.9,1580.2 L456.4,1580 L457.9,1579.9 L459.4,1579.8 L460.9,1579.6 L462.4,1579.4 L463.9,1579.3 L465.4,1579.1 L466.9,1578.9 L468.4,1578.7 L469.9,1578.5 L471.4,1578.2 L472.9,1578 L474.4,1577.7 L475.9,1577.5 L477.4,1577.2 L478.9,1576.9 L480.4,1576.6 L481.9,1576.3 L483.4,1575.9 L484.9,1575.6 L486.4,1575.2 L487.9,1574.8 L489.4,1574.4 L490.9,1574 L492.4,1573.6 L493.9,1573.1 L495.4,1572.7 L496.9,1572.2 L498.4,1571.7 L499.9,1571.1 L501.4,1570.6 L502.9,1570 L504.4,1569.4 L505.9,1568.8 L507.4,1568.1 L508.9,1567.4 L510.4,1566.7 L511.9,1566 L513.4,1565.2 L514.9,1564.4 L516.4,1563.6 L517.9,1562.7 L519.4,1561.8 L520.9,1560.8 L522.4,1559.8 L523.9,1558.7 L525.4,1557.6 L526.9,1556.5 L528.4,1555.2 L529.9,1553.9 L531.4,1552.5 L532.9,1551.1 L534.4,1549.5 L535.9,1547.9 L537.4,1546.1 L538.9,1544.3 L540.4,1542.3 L541.9,1540.1 L543.4,1537.8 L544.9,1535.4 L546.4,1532.7 L547.9,1529.8 L549.4,1526.7 L550.9,1523.2 L552.4,1519.5 L553.9,1515.4 L555.4,1510.9 L556.9,1506 L558.4,1500.5 L559.9,1494.5 L561.4,1487.9 L562.9,1480.6 L564.4,1472.5 L565.9,1463.6 L567.4,1453.7 L568.9,1442.9 L570.4,1431 L571.9,1417.9 L573.4,1403.6 L574.9,1388 L576.4,1371.1 L577.9,1352.8 L579.4,1333.2 L580.9,1312.4 L582.4,1290.3 L583.9,1267.3 L585.4,1243.7 L586.9,1219.9 L588.4,1196.4 L589.9,1174.1 L591.4,1153.6 L592.9,1136 L594.4,1122.2 L595.9,1112.9 L597.4,1108.8 L598.9,1109.6 L600.4,1114.2 L601.9,1122.3 L603.4,1133.6 L604.9,1147.6 L606.4,1163.7 L607.9,1181.6 L609.4,1200.6 L610.9,1220.3 L612.4,1240.3 L613.9,1260.3 L615.4,1279.9 L616.9,1299 L618.4,1317.4 L619.9,1335 L621.4,1351.8 L622.9,1367.6 L624.4,1382.5 L625.9,1396.4 L627.4,1409.4 L628.9,1421.5 L630.4,1432.7 L631.9,1443 L633.4,1452.6 L634.9,1461.4 L636.4,1469.6 L637.9,1477 L639.4,1483.9 L640.9,1490.1 L642.4,1495.9 L643.9,1501.2 L645.4,1506 L646.9,1510.5 L648.4,1514.6 L649.9,1518.3 L651.4,1521.8 L652.9,1525 L654.4,1528 L655.9,1530.7 L657.4,1533.2 L658.9,1535.6 L660.4,1537.8 L661.9,1539.9 L663.4,1541.8 L664.9,1543.6 L666.4,1545.3 L667.9,1546.9 L669.4,1548.5 L670.9,1549.9 L672.4,1551.3 L673.9,1552.6 L675.4,1553.8 L676.9,1555 L678.4,1556.1 L679.9,1557.2 L681.4,1558.2 L682.9,1559.2 L684.4,1560.1 L685.9,1561.1 L687.4,1561.9 L688.9,1562.7 L690.4,1563.5 L691.9,1564.3 L693.4,1565.1 L694.9,1565.8 L696.4,1566.5 L697.9,1567.1 L699.4,1567.8 L700.9,1568.4 L702.4,1569 L703.9,1569.5 L705.4,1570.1 L706.9,1570.6 L708.4,1571.1 L709.9,1571.6 L711.4,1572.1 L712.9,1572.5 L714.4,1573 L715.9,1573.4 L717.4,1573.8 L718.9,1574.2 L720.4,1574.6 L721.9,1575 L723.4,1575.3 L724.9,1575.7 L726.4,1576 L727.9,1576.3 L729.4,1576.6 L730.9,1576.9 L732.4,1577.2 L733.9,1577.4 L735.4,1577.7 L736.9,1577.9 L738.4,1578.1 L739.9,1578.4 L741.4,1578.6 L742.9,1578.8 L744.4,1579 L745.9,1579.1 L747.4,1579.3 L748.9,1579.5 L750.4,1579.6 L751.9,1579.8 L753.4,1579.9 L754.9,1580 L756.4,1580.1 L757.9,1580.2 L759.4,1580.4 L760.9,1580.5 L762.4,1580.5 L763.9,1580.6 L765.4,1580.7 L766.9,1580.8 L768.4,1580.8 L769.9,1580.9 L771.4,1581 L772.9,1581 L774.4,1581.1 L775.9,1581.1 L777.4,1581.2 L778.9,1581.2 L780.4,1581.2 L781.9,1581.3 L783.4,1581.3 L784.9,1581.3 L786.4,1581.3 L787.9,1581.4 L789.4,1581.4 L790.9,1581.4 L792.4,1581.4 L793.9,1581.4 L795.4,1581.4 L796.9,1581.4 L798.4,1581.4 L799.9,1581.5 L801.4,1581.5 L802.9,1581.5 L804.4,1581.5 L805.9,1581.5 L807.4,1581.5 L808.9,1581.5 L810.4,1581.5 L811.9,1581.5 L813.4,1581.5 L814.9,1581.5 L816.4,1581.5 L817.9,1581.5 L819.4,1581.5 L820.9,1581.5 L822.4,1581.5 L823.9,1581.5 L825.4,1581.5 L826.9,1581.5 L828.4,1581.5 L829.9,1581.5 L831.4,1581.5 L832.9,1581.5 L834.4,1581.5 L835.9,1581.5 L837.4,1581.5 L838.9,1581.5 L840.4,1581.5 L841.9,1581.5 L843.4,1581.5 L844.9,1581.5 L846.4,1581.5 L847.9,1581.5 L849.4,1581.5 L850.9,1581.5 L852.4,1581.5 L853.9,1581.5 L855.4,1581.5 L856.9,1581.5 L858.4,1581.5 L859.9,1581.5 L861.4,1581.5 L862.9,1581.5 L864.4,1581.5 L865.9,1581.5 L867.4,1581.5 L868.9,1581.5 L870.4,1581.5 L871.9,1581.5 L873.4,1581.5 L874.9,1581.5 L876.4,1581.5 L877.9,1581.5 L879.4,1581.5 L880.9,1581.5 L882.4,1581.5 L883.9,1581.5 L885.4,1581.5 L886.9,1581.5 L888.4,1581.5 L889.9,1581.5 L891.4,1581.5 L892.9,1581.5 L894.4,1581.5 L895.9,1581.5 L897.4,1581.5 L898.9,1581.5 L900.4,1581.5 L901.9,1581.5 L903.4,1581.5 L904.9,1581.5 L906.4,1581.5 L907.9,1581.5 L909.4,1581.5 L910.9,1581.5 L912.4,1581.5 L913.9,1581.5 L915.4,1581.5 L916.9,1581.5 L918.4,1581.5 L919.9,1581.5 L921.4,1581.5 L922.9,1581.5 L924.4,1581.5 L925.9,1581.5 L927.4,1581.5 L928.9,1581.5 L930.4,1581.5 L931.9,1581.5 L933.4,1581.5 L934.9,1581.5 L936.4,1581.5 L937.9,1581.5 L939.4,1581.5 L940.9,1581.5 L942.4,1581.5 L943.9,1581.5 L945.4,1581.5 L946.9,1581.5 L948.4,1581.5 L949.9,1581.5 L951.4,1581.5 L952.9,1581.5 L954.4,1581.5 L955.9,1581.5 L957.4,1581.5 L958.9,1581.5 L960.4,1581.5 L961.9,1581.5 L963.4,1581.5 L964.9,1581.5 L966.4,1581.5 L967.9,1581.5 L969.4,1581.5 L970.9,1581.5 L972.4,1581.5 L973.9,1581.5 L975.4,1581.5 L976.9,1581.5 L978.4,1581.5 L979.9,1581.5 L981.4,1581.5 L982.9,1581.5 L984.4,1581.5 L985.9,1581.5 L987.4,1581.5 L988.9,1581.5 L990.4,1581.5 L991.9,1581.5 L993.4,1581.5 L994.9,1581.5 L996.4,1581.5 L997.9,1581.5 L999.4,1581.5 L1000.9,1581.5 L1002.4,1581.5 L1003.9,1581.5 L1005.4,1581.5 L1006.9,1581.5 L1008.4,1581.5 L1009.9,1581.5 L1011.4,1581.5 L1012.9,1581.5 L1014.4,1581.5 L1015.9,1581.5 L1017.4,1581.5 L1018.9,1581.5 L1020.4,1581.5 L1021.9,1581.5 L1023.4,1581.5 L1024.9,1581.5 L1026.4,1581.5 L1027.9,1581.5 L1029.4,1581.5 L1030.9,1581.5 L1032.4,1581.5 L1033.9,1581.5 L1035.4,1581.5 L1036.9,1581.5 L1038.4,1581.5 L1039.9,1581.5" fill="none" stroke="#fff000" stroke-width="4.0" stroke-linejoin="round"/>
<path d="M259.9,1581.5 L261.4,1581.5 L262.9,1581.5 L264.4,1581.5 L265.9,1581.5 L267.4,1581.5 L268.9,1581.5 L270.4,1581.5 L271.9,1581.5 L273.4,1581.5 L274.9,1581.5 L276.4,1581.5 L277.9,1581.5 L279.4,1581.5 L280.9,1581.5 L282.4,1581.5 L283.9,1581.5 L285.4,1581.5 L286.9,1581.5 L288.4,1581.5 L289.9,1581.5 L291.4,1581.5 L292.9,1581.5 L294.4,1581.5 L295.9,1581.5 L297.4,1581.5 L298.9,1581.5 L300.4,1581.5 L301.9,1581.5 L303.4,1581.5 L304.9,1581.5 L306.4,1581.5 L307.9,1581.5 L309.4,1581.5 L310.9,1581.5 L312.4,1581.5 L313.9,1581.5 L315.4,1581.5 L316.9,1581.5 L318.4,1581.5 L319.9,1581.5 L321.4,1581.5 L322.9,1581.5 L324.4,1581.5 L325.9,1581.5 L327.4,1581.5 L328.9,1581.5 L330.4,1581.5 L331.9,1581.5 L333.4,1581.5 L334.9,1581.5 L336.4,1581.5 L337.9,1581.5 L339.4,1581.5 L340.9,1581.5 L342.4,1581.5 L343.9,1581.5 L345.4,1581.5 L346.9,1581.5 L348.4,1581.5 L349.9,1581.5 L351.4,1581.5 L352.9,1581.5 L354.4,1581.5 L355.9,1581.5 L357.4,1581.5 L358.9,1581.5 L360.4,1581.5 L361.9,1581.5 L363.4,1581.5 L364.9,1581.5 L366.4,1581.5 L367.9,1581.5 L369.4,1581.5 L370.9,1581.5 L372.4,1581.5 L373.9,1581.5 L375.4,1581.5 L376.9,1581.5 L378.4,1581.5 L379.9,1581.5 L381.4,1581.5 L382.9,1581.5 L384.4,1581.5 L385.9,1581.5 L387.4,1581.5 L388.9,1581.5 L390.4,1581.5 L391.9,1581.5 L393.4,1581.5 L394.9,1581.5 L396.4,1581.5 L397.9,1581.5 L399.4,1581.5 L400.9,1581.5 L402.4,1581.5 L403.9,1581.5 L405.4,1581.5 L406.9,1581.5 L408.4,1581.5 L409.9,1581.5 L411.4,1581.5 L412.9,1581.5 L414.4,1581.5 L415.9,1581.5 L417.4,1581.5 L418.9,1581.5 L420.4,1581.5 L421.9,1581.5 L423.4,1581.5 L424.9,1581.5 L426.4,1581.5 L427.9,1581.5 L429.4,1581.5 L430.9,1581.5 L432.4,1581.5 L433.9,1581.5 L435.4,1581.5 L436.9,1581.5 L438.4,1581.5 L439.9,1581.5 L441.4,1581.5 L442.9,1581.5 L444.4,1581.5 L445.9,1581.5 L447.4,1581.5 L448.9,1581.5 L450.4,1581.4 L451.9,1581.4 L453.4,1581.4 L454.9,1581.4 L456.4,1581.4 L457.9,1581.4 L459.4,1581.4 L460.9,1581.4 L462.4,1581.3 L463.9,1581.3 L465.4,1581.3 L466.9,1581.3 L468.4,1581.3 L469.9,1581.2 L471.4,1581.2 L472.9,1581.2 L474.4,1581.1 L475.9,1581.1 L477.4,1581 L478.9,1581 L480.4,1580.9 L481.9,1580.9 L483.4,1580.8 L484.9,1580.7 L486.4,1580.7 L487.9,1580.6 L489.4,1580.5 L490.9,1580.4 L492.4,1580.3 L493.9,1580.2 L495.4,1580.1 L496.9,1580 L498.4,1579.9 L499.9,1579.7 L501.4,1579.6 L502.9,1579.4 L504.4,1579.3 L505.9,1579.1 L507.4,1579 L508.9,1578.8 L510.4,1578.6 L511.9,1578.4 L513.4,1578.2 L514.9,1578 L516.4,1577.8 L517.9,1577.5 L519.4,1577.3 L520.9,1577 L522.4,1576.8 L523.9,1576.5 L525.4,1576.2 L526.9,1575.9 L528.4,1575.6 L529.9,1575.3 L531.4,1575 L532.9,1574.6 L534.4,1574.3 L535.9,1573.9 L537.4,1573.5 L538.9,1573.1 L540.4,1572.7 L541.9,1572.3 L543.4,1571.8 L544.9,1571.4 L546.4,1570.9 L547.9,1570.4 L549.4,1569.9 L550.9,1569.3 L552.4,1568.8 L553.9,1568.2 L555.4,1567.6 L556.9,1566.9 L558.4,1566.3 L559.9,1565.6 L561.4,1564.8 L562.9,1564.1 L564.4,1563.3 L565.9,1562.5 L567.4,1561.6 L568.9,1560.7 L570.4,1559.7 L571.9,1558.7 L573.4,1557.7 L574.9,1556.6 L576.4,1555.4 L577.9,1554.1 L579.4,1552.8 L580.9,1551.4 L582.4,1549.9 L583.9,1548.3 L585.4,1546.6 L586.9,1544.8 L588.4,1542.8 L589.9,1540.7 L591.4,1538.4 L592.9,1535.9 L594.4,1533.2 L595.9,1530.2 L597.4,1527 L598.9,1523.4 L600.4,1519.5 L601.9,1515.2 L603.4,1510.5 L604.9,1505.4 L606.4,1499.7 L607.9,1493.4 L609.4,1486.5 L610.9,1478.9 L612.4,1470.6 L613.9,1461.4 L615.4,1451.5 L616.9,1440.6 L618.4,1428.8 L619.9,1416.1 L621.4,1402.3 L622.9,1387.6 L624.4,1371.8 L625.9,1355.1 L627.4,1337.5 L628.9,1319.2 L630.4,1300.3 L631.9,1281.1 L633.4,1261.9 L634.9,1243.2 L636.4,1225.4 L637.9,1209.1 L639.4,1195 L640.9,1183.6 L642.4,1175.6 L643.9,1171.2 L645.4,1170.8 L646.9,1174.1 L648.4,1180.9 L649.9,1190.8 L651.4,1203.4 L652.9,1218.3 L654.4,1234.8 L655.9,1252.3 L657.4,1270.6 L658.9,1289 L660.4,1307.3 L661.9,1325.3 L663.4,1342.6 L664.9,1359.3 L666.4,1375.1 L667.9,1390 L669.4,1404.1 L670.9,1417.2 L672.4,1429.4 L673.9,1440.7 L675.4,1451.1 L676.9,1460.7 L678.4,1469.6 L679.9,1477.7 L681.4,1485.1 L682.9,1491.9 L684.4,1498 L685.9,1503.7 L687.4,1508.8 L688.9,1513.6 L690.4,1517.8 L691.9,1521.8 L693.4,1525.4 L694.9,1528.6 L696.4,1531.7 L697.9,1534.4 L699.4,1537 L700.9,1539.4 L702.4,1541.5 L703.9,1543.6 L705.4,1545.5 L706.9,1547.2 L708.4,1548.9 L709.9,1550.5 L711.4,1551.9 L712.9,1553.3 L714.4,1554.6 L715.9,1555.8 L717.4,1557 L718.9,1558.1 L720.4,1559.1 L721.9,1560.1 L723.4,1561.1 L724.9,1562 L726.4,1562.9 L727.9,1563.7 L729.4,1564.5 L730.9,1565.3 L732.4,1566 L733.9,1566.7 L735.4,1567.4 L736.9,1568 L738.4,1568.7 L739.9,1569.3 L741.4,1569.8 L742.9,1570.4 L744.4,1570.9 L745.9,1571.4 L747.4,1571.9 L748.9,1572.4 L750.4,1572.9 L751.9,1573.3 L753.4,1573.7 L754.9,1574.1 L756.4,1574.5 L757.9,1574.9 L759.4,1575.3 L760.9,1575.6 L762.4,1575.9 L763.9,1576.3 L765.4,1576.6 L766.9,1576.9 L768.4,1577.1 L769.9,1577.4 L771.4,1577.7 L772.9,1577.9 L774.4,1578.1 L775.9,1578.4 L777.4,1578.6 L778.9,1578.8 L780.4,1579 L781.9,1579.1 L783.4,1579.3 L784.9,1579.5 L786.4,1579.6 L787.9,1579.8 L789.4,1579.9 L790.9,1580 L792.4,1580.2 L793.9,1580.3 L795.4,1580.4 L796.9,1580.5 L798.4,1580.6 L799.9,1580.7 L801.4,1580.7 L802.9,1580.8 L804.4,1580.9 L805.9,1580.9 L807.4,1581 L808.9,1581 L810.4,1581.1 L811.9,1581.1 L813.4,1581.2 L814.9,1581.2 L816.4,1581.2 L817.9,1581.3 L819.4,1581.3 L820.9,1581.3 L822.4,1581.3 L823.9,1581.4 L825.4,1581.4 L826.9,1581.4 L828.4,1581.4 L829.9,1581.4 L831.4,1581.4 L832.9,1581.4 L834.4,1581.5 L835.9,1581.5 L837.4,1581.5 L838.9,1581.5 L840.4,1581.5 L841.9,1581.5 L843.4,1581.5 L844.9,1581.5 L846.4,1581.5 L847.9,1581.5 L849.4,1581.5 L850.9,1581.5 L852.4,1581.5 L853.9,1581.5 L855.4,1581.5 L856.9,1581.5 L858.4,1581.5 L859.9,1581.5 L861.4,1581.5 L862.9,1581.5 L864.4,1581.5 L865.9,1581.5 L867.4,1581.5 L868.9,1581.5 L870.4,1581.5 L871.9,1581.5 L873.4,1581.5 L874.9,1581.5 L876.4,1581.5 L877.9,1581.5 L879.4,1581.5 L880.9,1581.5 L882.4,1581.5 L883.9,1581.5 L885.4,1581.5 L886.9,1581.5 L888.4,1581.5 L889.9,1581.5 L891.4,1581.5 L892.9,1581.5 L894.4,1581.5 L895.9,1581.5 L897.4,1581.5 L898.9,1581.5 L900.4,1581.5 L901.9,1581.5 L903.4,1581.5 L904.9,1581.5 L906.4,1581.5 L907.9,1581.5 L909.4,1581.5 L910.9,1581.5 L912.4,1581.5 L913.9,1581.5 L915.4,1581.5 L916.9,1581.5 L918.4,1581.5 L919.9,1581.5 L921.4,1581.5 L922.9,1581.5 L924.4,1581.5 L925.9,1581.5 L927.4,1581.5 L928.9,1581.5 L930.4,1581.5 L931.9,1581.5 L933.4,1581.5 L934.9,1581.5 L936.4,1581.5 L937.9,1581.5 L939.4,1581.5 L940.9,1581.5 L942.4,1581.5 L943.9,1581.5 L945.4,1581.5 L946.9,1581.5 L948.4,1581.5 L949.9,1581.5 L951.4,1581.5 L952.9,1581.5 L954.4,1581.5 L955.9,1581.5 L957.4,1581.5 L958.9,1581.5 L960.4,1581.5 L961.9,1581.5 L963.4,1581.5 L964.9,1581.5 L966.4,1581.5 L967.9,1581.5 L969.4,1581.5 L970.9,1581.5 L972.4,1581.5 L973.9,1581.5 L975.4,1581.5 L976.9,1581.5 L978.4,1581.5 L979.9,1581.5 L981.4,1581.5 L982.9,1581.5 L984.4,1581.5 L985.9,1581.5 L987.4,1581.5 L988.9,1581.5 L990.4,1581.5 L991.9,1581.5 L993.4,1581.5 L994.9,1581.5 L996.4,1581.5 L997.9,1581.5 L999.4,1581.5 L1000.9,1581.5 L1002.4,1581.5 L1003.9,1581.5 L1005.4,1581.5 L1006.9,1581.5 L1008.4,1581.5 L1009.9,1581.5 L1011.4,1581.5 L1012.9,1581.5 L1014.4,1581.5 L1015.9,1581.5 L1017.4,1581.5 L1018.9,1581.5 L1020.4,1581.5 L1021.9,1581.5 L1023.4,1581.5 L1024.9,1581.5 L1026.4,1581.5 L1027.9,1581.5 L1029.4,1581.5 L1030.9,1581.5 L1032.4,1581.5 L1033.9,1581.5 L1035.4,1581.5 L1036.9,1581.5 L1038.4,1581.5 L1039.9,1581.5" fill="none" stroke="#ff8c00" stroke-width="3.8" stroke-linejoin="round"/>
<path d="M259.9,1581.5 L261.4,1581.5 L262.9,1581.5 L264.4,1581.5 L265.9,1581.5 L267.4,1581.5 L268.9,1581.5 L270.4,1581.5 L271.9,1581.5 L273.4,1581.5 L274.9,1581.5 L276.4,1581.5 L277.9,1581.5 L279.4,1581.5 L280.9,1581.5 L282.4,1581.5 L283.9,1581.5 L285.4,1581.5 L286.9,1581.5 L288.4,1581.5 L289.9,1581.5 L291.4,1581.5 L292.9,1581.5 L294.4,1581.5 L295.9,1581.5 L297.4,1581.5 L298.9,1581.5 L300.4,1581.5 L301.9,1581.5 L303.4,1581.5 L304.9,1581.5 L306.4,1581.5 L307.9,1581.5 L309.4,1581.5 L310.9,1581.5 L312.4,1581.5 L313.9,1581.5 L315.4,1581.5 L316.9,1581.5 L318.4,1581.5 L319.9,1581.5 L321.4,1581.5 L322.9,1581.5 L324.4,1581.5 L325.9,1581.5 L327.4,1581.5 L328.9,1581.5 L330.4,1581.5 L331.9,1581.5 L333.4,1581.5 L334.9,1581.5 L336.4,1581.5 L337.9,1581.5 L339.4,1581.5 L340.9,1581.5 L342.4,1581.5 L343.9,1581.5 L345.4,1581.5 L346.9,1581.5 L348.4,1581.5 L349.9,1581.5 L351.4,1581.5 L352.9,1581.5 L354.4,1581.5 L355.9,1581.5 L357.4,1581.5 L358.9,1581.5 L360.4,1581.5 L361.9,1581.5 L363.4,1581.5 L364.9,1581.5 L366.4,1581.5 L367.9,1581.5 L369.4,1581.5 L370.9,1581.5 L372.4,1581.5 L373.9,1581.5 L375.4,1581.5 L376.9,1581.5 L378.4,1581.5 L379.9,1581.5 L381.4,1581.5 L382.9,1581.5 L384.4,1581.5 L385.9,1581.5 L387.4,1581.5 L388.9,1581.5 L390.4,1581.5 L391.9,1581.5 L393.4,1581.5 L394.9,1581.5 L396.4,1581.5 L397.9,1581.5 L399.4,1581.5 L400.9,1581.5 L402.4,1581.5 L403.9,1581.5 L405.4,1581.5 L406.9,1581.5 L408.4,1581.5 L409.9,1581.5 L411.4,1581.5 L412.9,1581.5 L414.4,1581.5 L415.9,1581.5 L417.4,1581.5 L418.9,1581.5 L420.4,1581.5 L421.9,1581.5 L423.4,1581.5 L424.9,1581.5 L426.4,1581.5 L427.9,1581.5 L429.4,1581.5 L430.9,1581.5 L432.4,1581.5 L433.9,1581.5 L435.4,1581.5 L436.9,1581.5 L438.4,1581.5 L439.9,1581.5 L441.4,1581.5 L442.9,1581.5 L444.4,1581.5 L445.9,1581.5 L447.4,1581.5 L448.9,1581.5 L450.4,1581.5 L451.9,1581.5 L453.4,1581.5 L454.9,1581.5 L456.4,1581.5 L457.9,1581.5 L459.4,1581.5 L460.9,1581.5 L462.4,1581.5 L463.9,1581.5 L465.4,1581.5 L466.9,1581.5 L468.4,1581.5 L469.9,1581.5 L471.4,1581.5 L472.9,1581.5 L474.4,1581.5 L475.9,1581.5 L477.4,1581.5 L478.9,1581.5 L480.4,1581.5 L481.9,1581.5 L483.4,1581.4 L484.9,1581.4 L486.4,1581.4 L487.9,1581.4 L489.4,1581.4 L490.9,1581.4 L492.4,1581.4 L493.9,1581.4 L495.4,1581.3 L496.9,1581.3 L498.4,1581.3 L499.9,1581.3 L501.4,1581.2 L502.9,1581.2 L504.4,1581.2 L505.9,1581.2 L507.4,1581.1 L508.9,1581.1 L510.4,1581 L511.9,1581 L513.4,1580.9 L514.9,1580.9 L516.4,1580.8 L517.9,1580.7 L519.4,1580.7 L520.9,1580.6 L522.4,1580.5 L523.9,1580.4 L525.4,1580.3 L526.9,1580.2 L528.4,1580.1 L529.9,1580 L531.4,1579.9 L532.9,1579.8 L534.4,1579.6 L535.9,1579.5 L537.4,1579.3 L538.9,1579.2 L540.4,1579 L541.9,1578.8 L543.4,1578.7 L544.9,1578.5 L546.4,1578.3 L547.9,1578.1 L549.4,1577.9 L550.9,1577.6 L552.4,1577.4 L553.9,1577.2 L555.4,1576.9 L556.9,1576.7 L558.4,1576.4 L559.9,1576.1 L561.4,1575.8 L562.9,1575.5 L564.4,1575.2 L565.9,1574.8 L567.4,1574.5 L568.9,1574.1 L570.4,1573.8 L571.9,1573.4 L573.4,1573 L574.9,1572.6 L576.4,1572.1 L577.9,1571.7 L579.4,1571.2 L580.9,1570.7 L582.4,1570.2 L583.9,1569.7 L585.4,1569.2 L586.9,1568.6 L588.4,1568 L589.9,1567.4 L591.4,1566.8 L592.9,1566.1 L594.4,1565.4 L595.9,1564.7 L597.4,1563.9 L598.9,1563.1 L600.4,1562.2 L601.9,1561.3 L603.4,1560.4 L604.9,1559.4 L606.4,1558.4 L607.9,1557.3 L609.4,1556.1 L610.9,1554.9 L612.4,1553.6 L613.9,1552.2 L615.4,1550.7 L616.9,1549.1 L618.4,1547.4 L619.9,1545.5 L621.4,1543.5 L622.9,1541.4 L624.4,1539 L625.9,1536.5 L627.4,1533.7 L628.9,1530.6 L630.4,1527.3 L631.9,1523.6 L633.4,1519.6 L634.9,1515.1 L636.4,1510.2 L637.9,1504.8 L639.4,1498.9 L640.9,1492.4 L642.4,1485.2 L643.9,1477.3 L645.4,1468.7 L646.9,1459.3 L648.4,1449 L649.9,1437.9 L651.4,1425.8 L652.9,1412.8 L654.4,1398.9 L655.9,1384.1 L657.4,1368.4 L658.9,1351.9 L660.4,1334.7 L661.9,1317.1 L663.4,1299.3 L664.9,1281.6 L666.4,1264.4 L667.9,1248.3 L669.4,1233.8 L670.9,1221.5 L672.4,1211.9 L673.9,1205.5 L675.4,1202.6 L676.9,1203.4 L678.4,1207.5 L679.9,1214.7 L681.4,1224.7 L682.9,1237 L684.4,1251.1 L685.9,1266.6 L687.4,1282.9 L688.9,1299.7 L690.4,1316.7 L691.9,1333.4 L693.4,1349.8 L694.9,1365.5 L696.4,1380.6 L697.9,1394.9 L699.4,1408.4 L700.9,1421.1 L702.4,1432.9 L703.9,1443.9 L705.4,1454 L706.9,1463.4 L708.4,1472.1 L709.9,1480 L711.4,1487.3 L712.9,1494 L714.4,1500.1 L715.9,1505.7 L717.4,1510.8 L718.9,1515.4 L720.4,1519.6 L721.9,1523.5 L723.4,1527.1 L724.9,1530.3 L726.4,1533.3 L727.9,1536 L729.4,1538.5 L730.9,1540.8 L732.4,1543 L733.9,1545 L735.4,1546.8 L736.9,1548.5 L738.4,1550.1 L739.9,1551.6 L741.4,1553.1 L742.9,1554.4 L744.4,1555.6 L745.9,1556.8 L747.4,1557.9 L748.9,1559 L750.4,1560 L751.9,1561 L753.4,1561.9 L754.9,1562.8 L756.4,1563.6 L757.9,1564.4 L759.4,1565.2 L760.9,1565.9 L762.4,1566.6 L763.9,1567.3 L765.4,1567.9 L766.9,1568.5 L768.4,1569.1 L769.9,1569.7 L771.4,1570.2 L772.9,1570.8 L774.4,1571.3 L775.9,1571.8 L777.4,1572.2 L778.9,1572.7 L780.4,1573.1 L781.9,1573.5 L783.4,1573.9 L784.9,1574.3 L786.4,1574.7 L787.9,1575.1 L789.4,1575.4 L790.9,1575.7 L792.4,1576.1 L793.9,1576.4 L795.4,1576.7 L796.9,1576.9 L798.4,1577.2 L799.9,1577.5 L801.4,1577.7 L802.9,1577.9 L804.4,1578.2 L805.9,1578.4 L807.4,1578.6 L808.9,1578.8 L810.4,1579 L811.9,1579.2 L813.4,1579.3 L814.9,1579.5 L816.4,1579.6 L817.9,1579.8 L819.4,1579.9 L820.9,1580 L822.4,1580.1 L823.9,1580.3 L825.4,1580.4 L826.9,1580.5 L828.4,1580.5 L829.9,1580.6 L831.4,1580.7 L832.9,1580.8 L834.4,1580.9 L835.9,1580.9 L837.4,1581 L838.9,1581 L840.4,1581.1 L841.9,1581.1 L843.4,1581.2 L844.9,1581.2 L846.4,1581.2 L847.9,1581.3 L849.4,1581.3 L850.9,1581.3 L852.4,1581.3 L853.9,1581.4 L855.4,1581.4 L856.9,1581.4 L858.4,1581.4 L859.9,1581.4 L861.4,1581.4 L862.9,1581.4 L864.4,1581.4 L865.9,1581.5 L867.4,1581.5 L868.9,1581.5 L870.4,1581.5 L871.9,1581.5 L873.4,1581.5 L874.9,1581.5 L876.4,1581.5 L877.9,1581.5 L879.4,1581.5 L880.9,1581.5 L882.4,1581.5 L883.9,1581.5 L885.4,1581.5 L886.9,1581.5 L888.4,1581.5 L889.9,1581.5 L891.4,1581.5 L892.9,1581.5 L894.4,1581.5 L895.9,1581.5 L897.4,1581.5 L898.9,1581.5 L900.4,1581.5 L901.9,1581.5 L903.4,1581.5 L904.9,1581.5 L906.4,1581.5 L907.9,1581.5 L909.4,1581.5 L910.9,1581.5 L912.4,1581.5 L913.9,1581.5 L915.4,1581.5 L916.9,1581.5 L918.4,1581.5 L919.9,1581.5 L921.4,1581.5 L922.9,1581.5 L924.4,1581.5 L925.9,1581.5 L927.4,1581.5 L928.9,1581.5 L930.4,1581.5 L931.9,1581.5 L933.4,1581.5 L934.9,1581.5 L936.4,1581.5 L937.9,1581.5 L939.4,1581.5 L940.9,1581.5 L942.4,1581.5 L943.9,1581.5 L945.4,1581.5 L946.9,1581.5 L948.4,1581.5 L949.9,1581.5 L951.4,1581.5 L952.9,1581.5 L954.4,1581.5 L955.9,1581.5 L957.4,1581.5 L958.9,1581.5 L960.4,1581.5 L961.9,1581.5 L963.4,1581.5 L964.9,1581.5 L966.4,1581.5 L967.9,1581.5 L969.4,1581.5 L970.9,1581.5 L972.4,1581.5 L973.9,1581.5 L975.4,1581.5 L976.9,1581.5 L978.4,1581.5 L979.9,1581.5 L981.4,1581.5 L982.9,1581.5 L984.4,1581.5 L985.9,1581.5 L987.4,1581.5 L988.9,1581.5 L990.4,1581.5 L991.9,1581.5 L993.4,1581.5 L994.9,1581.5 L996.4,1581.5 L997.9,1581.5 L999.4,1581.5 L1000.9,1581.5 L1002.4,1581.5 L1003.9,1581.5 L1005.4,1581.5 L1006.9,1581.5 L1008.4,1581.5 L1009.9,1581.5 L1011.4,1581.5 L1012.9,1581.5 L1014.4,1581.5 L1015.9,1581.5 L1017.4,1581.5 L1018.9,1581.5 L1020.4,1581.5 L1021.9,1581.5 L1023.4,1581.5 L1024.9,1581.5 L1026.4,1581.5 L1027.9,1581.5 L1029.4,1581.5 L1030.9,1581.5 L1032.4,1581.5 L1033.9,1581.5 L1035.4,1581.5 L1036.9,1581.5 L1038.4,1581.5 L1039.9,1581.5" fill="none" stroke="#ff5a3c" stroke-width="3.6" stroke-linejoin="round"/>
<path d="M259.9,1581.5 L261.4,1581.5 L262.9,1581.5 L264.4,1581.5 L265.9,1581.5 L267.4,1581.5 L268.9,1581.5 L270.4,1581.5 L271.9,1581.5 L273.4,1581.5 L274.9,1581.5 L276.4,1581.5 L277.9,1581.5 L279.4,1581.5 L280.9,1581.5 L282.4,1581.5 L283.9,1581.5 L285.4,1581.5 L286.9,1581.5 L288.4,1581.5 L289.9,1581.5 L291.4,1581.5 L292.9,1581.5 L294.4,1581.5 L295.9,1581.5 L297.4,1581.5 L298.9,1581.5 L300.4,1581.5 L301.9,1581.5 L303.4,1581.5 L304.9,1581.5 L306.4,1581.5 L307.9,1581.5 L309.4,1581.5 L310.9,1581.5 L312.4,1581.5 L313.9,1581.5 L315.4,1581.5 L316.9,1581.5 L318.4,1581.5 L319.9,1581.5 L321.4,1581.5 L322.9,1581.5 L324.4,1581.5 L325.9,1581.5 L327.4,1581.5 L328.9,1581.5 L330.4,1581.5 L331.9,1581.5 L333.4,1581.5 L334.9,1581.5 L336.4,1581.5 L337.9,1581.5 L339.4,1581.5 L340.9,1581.5 L342.4,1581.5 L343.9,1581.5 L345.4,1581.5 L346.9,1581.5 L348.4,1581.5 L349.9,1581.5 L351.4,1581.5 L352.9,1581.5 L354.4,1581.5 L355.9,1581.5 L357.4,1581.5 L358.9,1581.5 L360.4,1581.5 L361.9,1581.5 L363.4,1581.5 L364.9,1581.5 L366.4,1581.5 L367.9,1581.5 L369.4,1581.5 L370.9,1581.5 L372.4,1581.5 L373.9,1581.5 L375.4,1581.5 L376.9,1581.5 L378.4,1581.5 L379.9,1581.5 L381.4,1581.5 L382.9,1581.5 L384.4,1581.5 L385.9,1581.5 L387.4,1581.5 L388.9,1581.5 L390.4,1581.5 L391.9,1581.5 L393.4,1581.5 L394.9,1581.5 L396.4,1581.5 L397.9,1581.5 L399.4,1581.5 L400.9,1581.5 L402.4,1581.5 L403.9,1581.5 L405.4,1581.5 L406.9,1581.5 L408.4,1581.5 L409.9,1581.5 L411.4,1581.5 L412.9,1581.5 L414.4,1581.5 L415.9,1581.5 L417.4,1581.5 L418.9,1581.5 L420.4,1581.5 L421.9,1581.5 L423.4,1581.5 L424.9,1581.5 L426.4,1581.5 L427.9,1581.5 L429.4,1581.5 L430.9,1581.5 L432.4,1581.5 L433.9,1581.5 L435.4,1581.5 L436.9,1581.5 L438.4,1581.5 L439.9,1581.5 L441.4,1581.5 L442.9,1581.5 L444.4,1581.5 L445.9,1581.5 L447.4,1581.5 L448.9,1581.5 L450.4,1581.5 L451.9,1581.5 L453.4,1581.5 L454.9,1581.5 L456.4,1581.5 L457.9,1581.5 L459.4,1581.5 L460.9,1581.5 L462.4,1581.5 L463.9,1581.5 L465.4,1581.5 L466.9,1581.5 L468.4,1581.5 L469.9,1581.5 L471.4,1581.5 L472.9,1581.5 L474.4,1581.5 L475.9,1581.5 L477.4,1581.5 L478.9,1581.5 L480.4,1581.5 L481.9,1581.5 L483.4,1581.5 L484.9,1581.5 L486.4,1581.5 L487.9,1581.5 L489.4,1581.5 L490.9,1581.5 L492.4,1581.5 L493.9,1581.5 L495.4,1581.5 L496.9,1581.5 L498.4,1581.5 L499.9,1581.5 L501.4,1581.5 L502.9,1581.4 L504.4,1581.4 L505.9,1581.4 L507.4,1581.4 L508.9,1581.4 L510.4,1581.4 L511.9,1581.4 L513.4,1581.4 L514.9,1581.4 L516.4,1581.4 L517.9,1581.3 L519.4,1581.3 L520.9,1581.3 L522.4,1581.3 L523.9,1581.3 L525.4,1581.2 L526.9,1581.2 L528.4,1581.2 L529.9,1581.1 L531.4,1581.1 L532.9,1581.1 L534.4,1581 L535.9,1581 L537.4,1580.9 L538.9,1580.9 L540.4,1580.8 L541.9,1580.8 L543.4,1580.7 L544.9,1580.7 L546.4,1580.6 L547.9,1580.5 L549.4,1580.5 L550.9,1580.4 L552.4,1580.3 L553.9,1580.2 L555.4,1580.1 L556.9,1580.1 L558.4,1580 L559.9,1579.9 L561.4,1579.8 L562.9,1579.6 L564.4,1579.5 L565.9,1579.4 L567.4,1579.3 L568.9,1579.1 L570.4,1579 L571.9,1578.9 L573.4,1578.7 L574.9,1578.6 L576.4,1578.4 L577.9,1578.2 L579.4,1578.1 L580.9,1577.9 L582.4,1577.7 L583.9,1577.5 L585.4,1577.3 L586.9,1577.1 L588.4,1576.9 L589.9,1576.7 L591.4,1576.4 L592.9,1576.2 L594.4,1575.9 L595.9,1575.7 L597.4,1575.4 L598.9,1575.2 L600.4,1574.9 L601.9,1574.6 L603.4,1574.3 L604.9,1574 L606.4,1573.7 L607.9,1573.3 L609.4,1573 L610.9,1572.6 L612.4,1572.3 L613.9,1571.9 L615.4,1571.5 L616.9,1571.1 L618.4,1570.7 L619.9,1570.2 L621.4,1569.8 L622.9,1569.3 L624.4,1568.8 L625.9,1568.3 L627.4,1567.8 L628.9,1567.3 L630.4,1566.7 L631.9,1566.1 L633.4,1565.5 L634.9,1564.9 L636.4,1564.2 L637.9,1563.5 L639.4,1562.7 L640.9,1562 L642.4,1561.2 L643.9,1560.3 L645.4,1559.4 L646.9,1558.5 L648.4,1557.5 L649.9,1556.4 L651.4,1555.3 L652.9,1554.2 L654.4,1552.9 L655.9,1551.6 L657.4,1550.1 L658.9,1548.6 L660.4,1547 L661.9,1545.2 L663.4,1543.3 L664.9,1541.3 L666.4,1539.1 L667.9,1536.7 L669.4,1534.1 L670.9,1531.3 L672.4,1528.2 L673.9,1524.9 L675.4,1521.2 L676.9,1517.3 L678.4,1513 L679.9,1508.3 L681.4,1503.3 L682.9,1497.7 L684.4,1491.8 L685.9,1485.3 L687.4,1478.3 L688.9,1470.7 L690.4,1462.6 L691.9,1453.8 L693.4,1444.5 L694.9,1434.5 L696.4,1424 L697.9,1412.8 L699.4,1401 L700.9,1388.7 L702.4,1375.9 L703.9,1362.8 L705.4,1349.4 L706.9,1335.9 L708.4,1322.5 L709.9,1309.5 L711.4,1297.1 L712.9,1285.7 L714.4,1275.7 L715.9,1267.2 L717.4,1260.8 L718.9,1256.5 L720.4,1254.6 L721.9,1255.3 L723.4,1258.9 L724.9,1265.2 L726.4,1273.9 L727.9,1284.7 L729.4,1297.1 L730.9,1310.7 L732.4,1325.1 L733.9,1340 L735.4,1355 L736.9,1369.8 L738.4,1384.4 L739.9,1398.5 L741.4,1412 L742.9,1424.9 L744.4,1437 L745.9,1448.3 L747.4,1459 L748.9,1468.8 L750.4,1477.9 L751.9,1486.3 L753.4,1494 L754.9,1501 L756.4,1507.4 L757.9,1513.2 L759.4,1518.4 L760.9,1523.2 L762.4,1527.5 L763.9,1531.4 L765.4,1534.9 L766.9,1538.1 L768.4,1541 L769.9,1543.6 L771.4,1545.9 L772.9,1548.1 L774.4,1550 L775.9,1551.8 L777.4,1553.4 L778.9,1554.9 L780.4,1556.3 L781.9,1557.6 L783.4,1558.8 L784.9,1560 L786.4,1561 L787.9,1562 L789.4,1562.9 L790.9,1563.8 L792.4,1564.6 L793.9,1565.4 L795.4,1566.1 L796.9,1566.8 L798.4,1567.5 L799.9,1568.1 L801.4,1568.7 L802.9,1569.3 L804.4,1569.9 L805.9,1570.4 L807.4,1570.9 L808.9,1571.4 L810.4,1571.9 L811.9,1572.3 L813.4,1572.8 L814.9,1573.2 L816.4,1573.6 L817.9,1574 L819.4,1574.3 L820.9,1574.7 L822.4,1575 L823.9,1575.4 L825.4,1575.7 L826.9,1576 L828.4,1576.3 L829.9,1576.6 L831.4,1576.8 L832.9,1577.1 L834.4,1577.3 L835.9,1577.6 L837.4,1577.8 L838.9,1578 L840.4,1578.2 L841.9,1578.4 L843.4,1578.6 L844.9,1578.8 L846.4,1579 L847.9,1579.1 L849.4,1579.3 L850.9,1579.5 L852.4,1579.6 L853.9,1579.7 L855.4,1579.9 L856.9,1580 L858.4,1580.1 L859.9,1580.2 L861.4,1580.3 L862.9,1580.4 L864.4,1580.5 L865.9,1580.6 L867.4,1580.7 L868.9,1580.7 L870.4,1580.8 L871.9,1580.9 L873.4,1580.9 L874.9,1581 L876.4,1581 L877.9,1581.1 L879.4,1581.1 L880.9,1581.2 L882.4,1581.2 L883.9,1581.2 L885.4,1581.3 L886.9,1581.3 L888.4,1581.3 L889.9,1581.3 L891.4,1581.4 L892.9,1581.4 L894.4,1581.4 L895.9,1581.4 L897.4,1581.4 L898.9,1581.4 L900.4,1581.4 L901.9,1581.4 L903.4,1581.5 L904.9,1581.5 L906.4,1581.5 L907.9,1581.5 L909.4,1581.5 L910.9,1581.5 L912.4,1581.5 L913.9,1581.5 L915.4,1581.5 L916.9,1581.5 L918.4,1581.5 L919.9,1581.5 L921.4,1581.5 L922.9,1581.5 L924.4,1581.5 L925.9,1581.5 L927.4,1581.5 L928.9,1581.5 L930.4,1581.5 L931.9,1581.5 L933.4,1581.5 L934.9,1581.5 L936.4,1581.5 L937.9,1581.5 L939.4,1581.5 L940.9,1581.5 L942.4,1581.5 L943.9,1581.5 L945.4,1581.5 L946.9,1581.5 L948.4,1581.5 L949.9,1581.5 L951.4,1581.5 L952.9,1581.5 L954.4,1581.5 L955.9,1581.5 L957.4,1581.5 L958.9,1581.5 L960.4,1581.5 L961.9,1581.5 L963.4,1581.5 L964.9,1581.5 L966.4,1581.5 L967.9,1581.5 L969.4,1581.5 L970.9,1581.5 L972.4,1581.5 L973.9,1581.5 L975.4,1581.5 L976.9,1581.5 L978.4,1581.5 L979.9,1581.5 L981.4,1581.5 L982.9,1581.5 L984.4,1581.5 L985.9,1581.5 L987.4,1581.5 L988.9,1581.5 L990.4,1581.5 L991.9,1581.5 L993.4,1581.5 L994.9,1581.5 L996.4,1581.5 L997.9,1581.5 L999.4,1581.5 L1000.9,1581.5 L1002.4,1581.5 L1003.9,1581.5 L1005.4,1581.5 L1006.9,1581.5 L1008.4,1581.5 L1009.9,1581.5 L1011.4,1581.5 L1012.9,1581.5 L1014.4,1581.5 L1015.9,1581.5 L1017.4,1581.5 L1018.9,1581.5 L1020.4,1581.5 L1021.9,1581.5 L1023.4,1581.5 L1024.9,1581.5 L1026.4,1581.5 L1027.9,1581.5 L1029.4,1581.5 L1030.9,1581.5 L1032.4,1581.5 L1033.9,1581.5 L1035.4,1581.5 L1036.9,1581.5 L1038.4,1581.5 L1039.9,1581.5" fill="none" stroke="#a0603e" stroke-width="3.6" stroke-linejoin="round"/>
<path d="M259.9,1581.5 L261.4,1581.5 L262.9,1581.5 L264.4,1581.5 L265.9,1581.5 L267.4,1581.5 L268.9,1581.5 L270.4,1581.5 L271.9,1581.5 L273.4,1581.5 L274.9,1581.5 L276.4,1581.5 L277.9,1581.5 L279.4,1581.5 L280.9,1581.5 L282.4,1581.5 L283.9,1581.5 L285.4,1581.5 L286.9,1581.5 L288.4,1581.5 L289.9,1581.5 L291.4,1581.5 L292.9,1581.5 L294.4,1581.5 L295.9,1581.5 L297.4,1581.5 L298.9,1581.5 L300.4,1581.5 L301.9,1581.5 L303.4,1581.5 L304.9,1581.5 L306.4,1581.5 L307.9,1581.5 L309.4,1581.5 L310.9,1581.5 L312.4,1581.5 L313.9,1581.5 L315.4,1581.5 L316.9,1581.5 L318.4,1581.5 L319.9,1581.5 L321.4,1581.5 L322.9,1581.5 L324.4,1581.5 L325.9,1581.5 L327.4,1581.5 L328.9,1581.5 L330.4,1581.5 L331.9,1581.5 L333.4,1581.5 L334.9,1581.5 L336.4,1581.5 L337.9,1581.5 L339.4,1581.5 L340.9,1581.5 L342.4,1581.5 L343.9,1581.5 L345.4,1581.5 L346.9,1581.5 L348.4,1581.5 L349.9,1581.5 L351.4,1581.5 L352.9,1581.5 L354.4,1581.5 L355.9,1581.5 L357.4,1581.5 L358.9,1581.5 L360.4,1581.5 L361.9,1581.5 L363.4,1581.5 L364.9,1581.5 L366.4,1581.5 L367.9,1581.5 L369.4,1581.5 L370.9,1581.5 L372.4,1581.5 L373.9,1581.5 L375.4,1581.5 L376.9,1581.5 L378.4,1581.5 L379.9,1581.5 L381.4,1581.5 L382.9,1581.5 L384.4,1581.5 L385.9,1581.5 L387.4,1581.5 L388.9,1581.5 L390.4,1581.5 L391.9,1581.5 L393.4,1581.5 L394.9,1581.5 L396.4,1581.5 L397.9,1581.5 L399.4,1581.5 L400.9,1581.5 L402.4,1581.5 L403.9,1581.5 L405.4,1581.5 L406.9,1581.5 L408.4,1581.5 L409.9,1581.5 L411.4,1581.5 L412.9,1581.5 L414.4,1581.5 L415.9,1581.5 L417.4,1581.5 L418.9,1581.5 L420.4,1581.5 L421.9,1581.5 L423.4,1581.5 L424.9,1581.5 L426.4,1581.5 L427.9,1581.5 L429.4,1581.5 L430.9,1581.5 L432.4,1581.5 L433.9,1581.5 L435.4,1581.5 L436.9,1581.5 L438.4,1581.5 L439.9,1581.5 L441.4,1581.5 L442.9,1581.5 L444.4,1581.5 L445.9,1581.5 L447.4,1581.5 L448.9,1581.5 L450.4,1581.5 L451.9,1581.5 L453.4,1581.5 L454.9,1581.5 L456.4,1581.5 L457.9,1581.5 L459.4,1581.5 L460.9,1581.5 L462.4,1581.5 L463.9,1581.5 L465.4,1581.5 L466.9,1581.5 L468.4,1581.5 L469.9,1581.5 L471.4,1581.5 L472.9,1581.5 L474.4,1581.5 L475.9,1581.5 L477.4,1581.5 L478.9,1581.5 L480.4,1581.5 L481.9,1581.5 L483.4,1581.5 L484.9,1581.5 L486.4,1581.5 L487.9,1581.5 L489.4,1581.5 L490.9,1581.5 L492.4,1581.5 L493.9,1581.5 L495.4,1581.5 L496.9,1581.5 L498.4,1581.5 L499.9,1581.5 L501.4,1581.5 L502.9,1581.5 L504.4,1581.5 L505.9,1581.5 L507.4,1581.5 L508.9,1581.5 L510.4,1581.5 L511.9,1581.5 L513.4,1581.5 L514.9,1581.5 L516.4,1581.5 L517.9,1581.5 L519.4,1581.5 L520.9,1581.5 L522.4,1581.5 L523.9,1581.5 L525.4,1581.5 L526.9,1581.5 L528.4,1581.5 L529.9,1581.5 L531.4,1581.5 L532.9,1581.5 L534.4,1581.5 L535.9,1581.5 L537.4,1581.5 L538.9,1581.5 L540.4,1581.5 L541.9,1581.5 L543.4,1581.5 L544.9,1581.5 L546.4,1581.5 L547.9,1581.5 L549.4,1581.5 L550.9,1581.5 L552.4,1581.5 L553.9,1581.5 L555.4,1581.5 L556.9,1581.5 L558.4,1581.5 L559.9,1581.5 L561.4,1581.5 L562.9,1581.5 L564.4,1581.5 L565.9,1581.5 L567.4,1581.5 L568.9,1581.5 L570.4,1581.5 L571.9,1581.5 L573.4,1581.5 L574.9,1581.5 L576.4,1581.5 L577.9,1581.5 L579.4,1581.5 L580.9,1581.4 L582.4,1581.4 L583.9,1581.4 L585.4,1581.4 L586.9,1581.4 L588.4,1581.4 L589.9,1581.4 L591.4,1581.4 L592.9,1581.4 L594.4,1581.4 L595.9,1581.4 L597.4,1581.3 L598.9,1581.3 L600.4,1581.3 L601.9,1581.3 L603.4,1581.3 L604.9,1581.3 L606.4,1581.3 L607.9,1581.2 L609.4,1581.2 L610.9,1581.2 L612.4,1581.2 L613.9,1581.1 L615.4,1581.1 L616.9,1581.1 L618.4,1581.1 L619.9,1581 L621.4,1581 L622.9,1581 L624.4,1580.9 L625.9,1580.9 L627.4,1580.9 L628.9,1580.8 L630.4,1580.8 L631.9,1580.7 L633.4,1580.7 L634.9,1580.6 L636.4,1580.6 L637.9,1580.5 L639.4,1580.5 L640.9,1580.4 L642.4,1580.4 L643.9,1580.3 L645.4,1580.3 L646.9,1580.2 L648.4,1580.1 L649.9,1580.1 L651.4,1580 L652.9,1579.9 L654.4,1579.9 L655.9,1579.8 L657.4,1579.7 L658.9,1579.6 L660.4,1579.6 L661.9,1579.5 L663.4,1579.4 L664.9,1579.3 L666.4,1579.2 L667.9,1579.1 L669.4,1579 L670.9,1578.9 L672.4,1578.8 L673.9,1578.7 L675.4,1578.5 L676.9,1578.4 L678.4,1578.3 L679.9,1578.2 L681.4,1578 L682.9,1577.9 L684.4,1577.7 L685.9,1577.6 L687.4,1577.4 L688.9,1577.3 L690.4,1577.1 L691.9,1576.9 L693.4,1576.7 L694.9,1576.5 L696.4,1576.3 L697.9,1576.1 L699.4,1575.9 L700.9,1575.7 L702.4,1575.4 L703.9,1575.2 L705.4,1574.9 L706.9,1574.6 L708.4,1574.3 L709.9,1574 L711.4,1573.6 L712.9,1573.2 L714.4,1572.9 L715.9,1572.4 L717.4,1572 L718.9,1571.5 L720.4,1570.9 L721.9,1570.4 L723.4,1569.7 L724.9,1569 L726.4,1568.3 L727.9,1567.5 L729.4,1566.6 L730.9,1565.6 L732.4,1564.5 L733.9,1563.3 L735.4,1562 L736.9,1560.5 L738.4,1559 L739.9,1557.2 L741.4,1555.3 L742.9,1553.3 L744.4,1551.1 L745.9,1548.6 L747.4,1546 L748.9,1543.2 L750.4,1540.1 L751.9,1536.8 L753.4,1533.4 L754.9,1529.7 L756.4,1525.8 L757.9,1521.7 L759.4,1517.4 L760.9,1512.9 L762.4,1508.4 L763.9,1503.8 L765.4,1499.1 L766.9,1494.5 L768.4,1490 L769.9,1485.7 L771.4,1481.8 L772.9,1478.3 L774.4,1475.3 L775.9,1473 L777.4,1471.4 L778.9,1470.6 L780.4,1470.6 L781.9,1471.7 L783.4,1473.8 L784.9,1476.7 L786.4,1480.4 L787.9,1484.8 L789.4,1489.6 L790.9,1494.8 L792.4,1500.1 L793.9,1505.6 L795.4,1511 L796.9,1516.4 L798.4,1521.6 L799.9,1526.7 L801.4,1531.5 L802.9,1536 L804.4,1540.2 L805.9,1544.1 L807.4,1547.8 L808.9,1551.1 L810.4,1554.1 L811.9,1556.8 L813.4,1559.3 L814.9,1561.5 L816.4,1563.4 L817.9,1565.2 L819.4,1566.7 L820.9,1568 L822.4,1569.2 L823.9,1570.3 L825.4,1571.2 L826.9,1572 L828.4,1572.7 L829.9,1573.4 L831.4,1573.9 L832.9,1574.4 L834.4,1574.9 L835.9,1575.3 L837.4,1575.6 L838.9,1576 L840.4,1576.3 L841.9,1576.6 L843.4,1576.8 L844.9,1577.1 L846.4,1577.3 L847.9,1577.5 L849.4,1577.7 L850.9,1577.9 L852.4,1578.1 L853.9,1578.2 L855.4,1578.4 L856.9,1578.5 L858.4,1578.7 L859.9,1578.8 L861.4,1578.9 L862.9,1579.1 L864.4,1579.2 L865.9,1579.3 L867.4,1579.4 L868.9,1579.5 L870.4,1579.6 L871.9,1579.7 L873.4,1579.8 L874.9,1579.9 L876.4,1580 L877.9,1580.1 L879.4,1580.1 L880.9,1580.2 L882.4,1580.3 L883.9,1580.4 L885.4,1580.4 L886.9,1580.5 L888.4,1580.6 L889.9,1580.6 L891.4,1580.7 L892.9,1580.7 L894.4,1580.8 L895.9,1580.8 L897.4,1580.9 L898.9,1580.9 L900.4,1581 L901.9,1581 L903.4,1581 L904.9,1581.1 L906.4,1581.1 L907.9,1581.1 L909.4,1581.2 L910.9,1581.2 L912.4,1581.2 L913.9,1581.2 L915.4,1581.3 L916.9,1581.3 L918.4,1581.3 L919.9,1581.3 L921.4,1581.3 L922.9,1581.4 L924.4,1581.4 L925.9,1581.4 L927.4,1581.4 L928.9,1581.4 L930.4,1581.4 L931.9,1581.4 L933.4,1581.4 L934.9,1581.4 L936.4,1581.4 L937.9,1581.5 L939.4,1581.5 L940.9,1581.5 L942.4,1581.5 L943.9,1581.5 L945.4,1581.5 L946.9,1581.5 L948.4,1581.5 L949.9,1581.5 L951.4,1581.5 L952.9,1581.5 L954.4,1581.5 L955.9,1581.5 L957.4,1581.5 L958.9,1581.5 L960.4,1581.5 L961.9,1581.5 L963.4,1581.5 L964.9,1581.5 L966.4,1581.5 L967.9,1581.5 L969.4,1581.5 L970.9,1581.5 L972.4,1581.5 L973.9,1581.5 L975.4,1581.5 L976.9,1581.5 L978.4,1581.5 L979.9,1581.5 L981.4,1581.5 L982.9,1581.5 L984.4,1581.5 L985.9,1581.5 L987.4,1581.5 L988.9,1581.5 L990.4,1581.5 L991.9,1581.5 L993.4,1581.5 L994.9,1581.5 L996.4,1581.5 L997.9,1581.5 L999.4,1581.5 L1000.9,1581.5 L1002.4,1581.5 L1003.9,1581.5 L1005.4,1581.5 L1006.9,1581.5 L1008.4,1581.5 L1009.9,1581.5 L1011.4,1581.5 L1012.9,1581.5 L1014.4,1581.5 L1015.9,1581.5 L1017.4,1581.5 L1018.9,1581.5 L1020.4,1581.5 L1021.9,1581.5 L1023.4,1581.5 L1024.9,1581.5 L1026.4,1581.5 L1027.9,1581.5 L1029.4,1581.5 L1030.9,1581.5 L1032.4,1581.5 L1033.9,1581.5 L1035.4,1581.5 L1036.9,1581.5 L1038.4,1581.5 L1039.9,1581.5" fill="none" stroke="#ff0010" stroke-width="4.4" stroke-linejoin="round"/>
<path d="M259.9,1581.5 L261.4,1581.5 L262.9,1581.5 L264.4,1581.5 L265.9,1581.5 L267.4,1581.5 L268.9,1581.5 L270.4,1581.5 L271.9,1581.5 L273.4,1581.5 L274.9,1581.5 L276.4,1581.5 L277.9,1581.5 L279.4,1581.5 L280.9,1581.5 L282.4,1581.5 L283.9,1581.5 L285.4,1581.5 L286.9,1581.5 L288.4,1581.5 L289.9,1581.5 L291.4,1581.5 L292.9,1581.5 L294.4,1581.5 L295.9,1581.5 L297.4,1581.5 L298.9,1581.5 L300.4,1581.5 L301.9,1581.5 L303.4,1581.5 L304.9,1581.5 L306.4,1581.5 L307.9,1581.5 L309.4,1581.5 L310.9,1581.5 L312.4,1581.5 L313.9,1581.5 L315.4,1581.5 L316.9,1581.5 L318.4,1581.5 L319.9,1581.5 L321.4,1581.5 L322.9,1581.5 L324.4,1581.5 L325.9,1581.5 L327.4,1581.5 L328.9,1581.5 L330.4,1581.5 L331.9,1581.5 L333.4,1581.5 L334.9,1581.5 L336.4,1581.5 L337.9,1581.5 L339.4,1581.5 L340.9,1581.5 L342.4,1581.5 L343.9,1581.5 L345.4,1581.5 L346.9,1581.5 L348.4,1581.5 L349.9,1581.5 L351.4,1581.5 L352.9,1581.5 L354.4,1581.5 L355.9,1581.5 L357.4,1581.5 L358.9,1581.5 L360.4,1581.5 L361.9,1581.5 L363.4,1581.5 L364.9,1581.5 L366.4,1581.5 L367.9,1581.5 L369.4,1581.5 L370.9,1581.5 L372.4,1581.5 L373.9,1581.5 L375.4,1581.5 L376.9,1581.5 L378.4,1581.5 L379.9,1581.5 L381.4,1581.5 L382.9,1581.5 L384.4,1581.5 L385.9,1581.5 L387.4,1581.5 L388.9,1581.5 L390.4,1581.5 L391.9,1581.5 L393.4,1581.5 L394.9,1581.5 L396.4,1581.5 L397.9,1581.5 L399.4,1581.5 L400.9,1581.5 L402.4,1581.5 L403.9,1581.5 L405.4,1581.5 L406.9,1581.5 L408.4,1581.5 L409.9,1581.5 L411.4,1581.5 L412.9,1581.5 L414.4,1581.5 L415.9,1581.5 L417.4,1581.5 L418.9,1581.5 L420.4,1581.5 L421.9,1581.5 L423.4,1581.5 L424.9,1581.5 L426.4,1581.5 L427.9,1581.5 L429.4,1581.5 L430.9,1581.5 L432.4,1581.5 L433.9,1581.5 L435.4,1581.5 L436.9,1581.5 L438.4,1581.5 L439.9,1581.5 L441.4,1581.5 L442.9,1581.5 L444.4,1581.5 L445.9,1581.5 L447.4,1581.5 L448.9,1581.5 L450.4,1581.5 L451.9,1581.5 L453.4,1581.5 L454.9,1581.5 L456.4,1581.5 L457.9,1581.5 L459.4,1581.5 L460.9,1581.5 L462.4,1581.5 L463.9,1581.5 L465.4,1581.5 L466.9,1581.5 L468.4,1581.5 L469.9,1581.5 L471.4,1581.5 L472.9,1581.5 L474.4,1581.5 L475.9,1581.5 L477.4,1581.5 L478.9,1581.5 L480.4,1581.5 L481.9,1581.5 L483.4,1581.5 L484.9,1581.5 L486.4,1581.5 L487.9,1581.5 L489.4,1581.5 L490.9,1581.5 L492.4,1581.5 L493.9,1581.5 L495.4,1581.5 L496.9,1581.5 L498.4,1581.5 L499.9,1581.5 L501.4,1581.5 L502.9,1581.5 L504.4,1581.5 L505.9,1581.5 L507.4,1581.5 L508.9,1581.5 L510.4,1581.5 L511.9,1581.5 L513.4,1581.5 L514.9,1581.5 L516.4,1581.5 L517.9,1581.5 L519.4,1581.5 L520.9,1581.5 L522.4,1581.5 L523.9,1581.5 L525.4,1581.5 L526.9,1581.5 L528.4,1581.5 L529.9,1581.5 L531.4,1581.5 L532.9,1581.5 L534.4,1581.5 L535.9,1581.5 L537.4,1581.5 L538.9,1581.5 L540.4,1581.5 L541.9,1581.5 L543.4,1581.5 L544.9,1581.5 L546.4,1581.5 L547.9,1581.5 L549.4,1581.5 L550.9,1581.5 L552.4,1581.5 L553.9,1581.5 L555.4,1581.5 L556.9,1581.5 L558.4,1581.5 L559.9,1581.5 L561.4,1581.5 L562.9,1581.5 L564.4,1581.5 L565.9,1581.5 L567.4,1581.5 L568.9,1581.5 L570.4,1581.5 L571.9,1581.5 L573.4,1581.5 L574.9,1581.5 L576.4,1581.5 L577.9,1581.5 L579.4,1581.5 L580.9,1581.5 L582.4,1581.5 L583.9,1581.5 L585.4,1581.5 L586.9,1581.5 L588.4,1581.5 L589.9,1581.5 L591.4,1581.5 L592.9,1581.5 L594.4,1581.5 L595.9,1581.5 L597.4,1581.5 L598.9,1581.5 L600.4,1581.5 L601.9,1581.5 L603.4,1581.5 L604.9,1581.5 L606.4,1581.5 L607.9,1581.5 L609.4,1581.5 L610.9,1581.5 L612.4,1581.5 L613.9,1581.5 L615.4,1581.5 L616.9,1581.5 L618.4,1581.5 L619.9,1581.5 L621.4,1581.5 L622.9,1581.5 L624.4,1581.5 L625.9,1581.5 L627.4,1581.5 L628.9,1581.5 L630.4,1581.5 L631.9,1581.5 L633.4,1581.5 L634.9,1581.5 L636.4,1581.5 L637.9,1581.5 L639.4,1581.5 L640.9,1581.5 L642.4,1581.5 L643.9,1581.5 L645.4,1581.5 L646.9,1581.5 L648.4,1581.5 L649.9,1581.5 L651.4,1581.5 L652.9,1581.5 L654.4,1581.5 L655.9,1581.5 L657.4,1581.5 L658.9,1581.4 L660.4,1581.4 L661.9,1581.4 L663.4,1581.4 L664.9,1581.4 L666.4,1581.4 L667.9,1581.4 L669.4,1581.4 L670.9,1581.4 L672.4,1581.4 L673.9,1581.4 L675.4,1581.4 L676.9,1581.4 L678.4,1581.4 L679.9,1581.3 L681.4,1581.3 L682.9,1581.3 L684.4,1581.3 L685.9,1581.3 L687.4,1581.3 L688.9,1581.3 L690.4,1581.3 L691.9,1581.2 L693.4,1581.2 L694.9,1581.2 L696.4,1581.2 L697.9,1581.2 L699.4,1581.2 L700.9,1581.1 L702.4,1581.1 L703.9,1581.1 L705.4,1581.1 L706.9,1581 L708.4,1581 L709.9,1581 L711.4,1581 L712.9,1580.9 L714.4,1580.9 L715.9,1580.9 L717.4,1580.9 L718.9,1580.8 L720.4,1580.8 L721.9,1580.8 L723.4,1580.7 L724.9,1580.7 L726.4,1580.7 L727.9,1580.6 L729.4,1580.6 L730.9,1580.5 L732.4,1580.5 L733.9,1580.5 L735.4,1580.4 L736.9,1580.4 L738.4,1580.3 L739.9,1580.3 L741.4,1580.2 L742.9,1580.1 L744.4,1580.1 L745.9,1580 L747.4,1580 L748.9,1579.9 L750.4,1579.8 L751.9,1579.7 L753.4,1579.7 L754.9,1579.6 L756.4,1579.5 L757.9,1579.4 L759.4,1579.3 L760.9,1579.2 L762.4,1579 L763.9,1578.9 L765.4,1578.8 L766.9,1578.6 L768.4,1578.4 L769.9,1578.2 L771.4,1578 L772.9,1577.8 L774.4,1577.5 L775.9,1577.2 L777.4,1576.9 L778.9,1576.5 L780.4,1576.1 L781.9,1575.7 L783.4,1575.1 L784.9,1574.6 L786.4,1573.9 L787.9,1573.2 L789.4,1572.5 L790.9,1571.6 L792.4,1570.6 L793.9,1569.6 L795.4,1568.5 L796.9,1567.3 L798.4,1566 L799.9,1564.6 L801.4,1563.1 L802.9,1561.5 L804.4,1559.9 L805.9,1558.2 L807.4,1556.4 L808.9,1554.6 L810.4,1552.8 L811.9,1551.1 L813.4,1549.4 L814.9,1547.7 L816.4,1546.3 L817.9,1545 L819.4,1543.9 L820.9,1543.2 L822.4,1542.7 L823.9,1542.6 L825.4,1542.7 L826.9,1543 L828.4,1543.5 L829.9,1544.1 L831.4,1544.9 L832.9,1545.9 L834.4,1546.9 L835.9,1548.1 L837.4,1549.3 L838.9,1550.6 L840.4,1551.9 L841.9,1553.3 L843.4,1554.6 L844.9,1556 L846.4,1557.4 L847.9,1558.7 L849.4,1560 L850.9,1561.3 L852.4,1562.6 L853.9,1563.7 L855.4,1564.9 L856.9,1566 L858.4,1567.1 L859.9,1568 L861.4,1569 L862.9,1569.9 L864.4,1570.7 L865.9,1571.5 L867.4,1572.2 L868.9,1572.9 L870.4,1573.5 L871.9,1574.1 L873.4,1574.6 L874.9,1575.1 L876.4,1575.5 L877.9,1575.9 L879.4,1576.3 L880.9,1576.7 L882.4,1577 L883.9,1577.3 L885.4,1577.5 L886.9,1577.8 L888.4,1578 L889.9,1578.2 L891.4,1578.4 L892.9,1578.5 L894.4,1578.7 L895.9,1578.8 L897.4,1579 L898.9,1579.1 L900.4,1579.2 L901.9,1579.3 L903.4,1579.4 L904.9,1579.5 L906.4,1579.6 L907.9,1579.6 L909.4,1579.7 L910.9,1579.8 L912.4,1579.8 L913.9,1579.9 L915.4,1580 L916.9,1580 L918.4,1580.1 L919.9,1580.1 L921.4,1580.2 L922.9,1580.2 L924.4,1580.3 L925.9,1580.3 L927.4,1580.3 L928.9,1580.4 L930.4,1580.4 L931.9,1580.5 L933.4,1580.5 L934.9,1580.5 L936.4,1580.6 L937.9,1580.6 L939.4,1580.6 L940.9,1580.7 L942.4,1580.7 L943.9,1580.7 L945.4,1580.7 L946.9,1580.8 L948.4,1580.8 L949.9,1580.8 L951.4,1580.9 L952.9,1580.9 L954.4,1580.9 L955.9,1580.9 L957.4,1580.9 L958.9,1581 L960.4,1581 L961.9,1581 L963.4,1581 L964.9,1581 L966.4,1581.1 L967.9,1581.1 L969.4,1581.1 L970.9,1581.1 L972.4,1581.1 L973.9,1581.1 L975.4,1581.2 L976.9,1581.2 L978.4,1581.2 L979.9,1581.2 L981.4,1581.2 L982.9,1581.2 L984.4,1581.2 L985.9,1581.3 L987.4,1581.3 L988.9,1581.3 L990.4,1581.3 L991.9,1581.3 L993.4,1581.3 L994.9,1581.3 L996.4,1581.3 L997.9,1581.3 L999.4,1581.4 L1000.9,1581.4 L1002.4,1581.4 L1003.9,1581.4 L1005.4,1581.4 L1006.9,1581.4 L1008.4,1581.4 L1009.9,1581.4 L1011.4,1581.4 L1012.9,1581.4 L1014.4,1581.4 L1015.9,1581.4 L1017.4,1581.4 L1018.9,1581.4 L1020.4,1581.4 L1021.9,1581.4 L1023.4,1581.4 L1024.9,1581.5 L1026.4,1581.5 L1027.9,1581.5 L1029.4,1581.5 L1030.9,1581.5 L1032.4,1581.5 L1033.9,1581.5 L1035.4,1581.5 L1036.9,1581.5 L1038.4,1581.5 L1039.9,1581.5" fill="none" stroke="#ff0a5a" stroke-width="4.0" stroke-linejoin="round"/>
<line x1="258.9" y1="1583.4" x2="1042.2" y2="1583.4" stroke="#231815" stroke-width="4"/>
<rect x="258.9" y="991.4" width="783.3" height="618.6" fill="none" stroke="#231815" stroke-width="3.6"/>
<line x1="244.4" y1="1583.4" x2="258.9" y2="1583.4" stroke="#231815" stroke-width="3.6"/>
<line x1="244.4" y1="1451.9" x2="258.9" y2="1451.9" stroke="#231815" stroke-width="3.6"/>
<line x1="244.4" y1="1320.3" x2="258.9" y2="1320.3" stroke="#231815" stroke-width="3.6"/>
<line x1="244.4" y1="1188.8" x2="258.9" y2="1188.8" stroke="#231815" stroke-width="3.6"/>
<line x1="244.4" y1="1057.2" x2="258.9" y2="1057.2" stroke="#231815" stroke-width="3.6"/>
<line x1="250.9" y1="1517.6" x2="258.9" y2="1517.6" stroke="#231815" stroke-width="3.6"/>
<line x1="250.9" y1="1386.1" x2="258.9" y2="1386.1" stroke="#231815" stroke-width="3.6"/>
<line x1="250.9" y1="1254.5" x2="258.9" y2="1254.5" stroke="#231815" stroke-width="3.6"/>
<line x1="250.9" y1="1123" x2="258.9" y2="1123" stroke="#231815" stroke-width="3.6"/>
<line x1="250.9" y1="991.4" x2="258.9" y2="991.4" stroke="#231815" stroke-width="3.6"/>
<line x1="258.9" y1="1610.0" x2="258.9" y2="1624" stroke="#231815" stroke-width="3.6"/>
<line x1="370.8" y1="1610.0" x2="370.8" y2="1624" stroke="#231815" stroke-width="3.6"/>
<line x1="482.7" y1="1610.0" x2="482.7" y2="1624" stroke="#231815" stroke-width="3.6"/>
<line x1="594.6" y1="1610.0" x2="594.6" y2="1624" stroke="#231815" stroke-width="3.6"/>
<line x1="706.5" y1="1610.0" x2="706.5" y2="1624" stroke="#231815" stroke-width="3.6"/>
<line x1="818.4" y1="1610.0" x2="818.4" y2="1624" stroke="#231815" stroke-width="3.6"/>
<line x1="930.3" y1="1610.0" x2="930.3" y2="1624" stroke="#231815" stroke-width="3.6"/>
<line x1="1042.2" y1="1610.0" x2="1042.2" y2="1624" stroke="#231815" stroke-width="3.6"/>
<line x1="314.8" y1="1610.0" x2="314.8" y2="1618" stroke="#231815" stroke-width="3.6"/>
<line x1="426.7" y1="1610.0" x2="426.7" y2="1618" stroke="#231815" stroke-width="3.6"/>
<line x1="538.6" y1="1610.0" x2="538.6" y2="1618" stroke="#231815" stroke-width="3.6"/>
<line x1="650.5" y1="1610.0" x2="650.5" y2="1618" stroke="#231815" stroke-width="3.6"/>
<line x1="762.4" y1="1610.0" x2="762.4" y2="1618" stroke="#231815" stroke-width="3.6"/>
<line x1="874.3" y1="1610.0" x2="874.3" y2="1618" stroke="#231815" stroke-width="3.6"/>
<line x1="986.2" y1="1610.0" x2="986.2" y2="1618" stroke="#231815" stroke-width="3.6"/>
<line x1="275.1" y1="991.4" x2="275.1" y2="999.4" stroke="#231815" stroke-width="3.6"/>
<line x1="356.5" y1="991.4" x2="356.5" y2="1005.4" stroke="#231815" stroke-width="3.6"/>
<line x1="437.9" y1="991.4" x2="437.9" y2="999.4" stroke="#231815" stroke-width="3.6"/>
<line x1="518.9" y1="991.4" x2="518.9" y2="1005.4" stroke="#231815" stroke-width="3.6"/>
<line x1="600.1" y1="991.4" x2="600.1" y2="999.4" stroke="#231815" stroke-width="3.6"/>
<line x1="681.5" y1="991.4" x2="681.5" y2="1005.4" stroke="#231815" stroke-width="3.6"/>
<line x1="762.8" y1="991.4" x2="762.8" y2="999.4" stroke="#231815" stroke-width="3.6"/>
<line x1="836.8" y1="991.4" x2="836.8" y2="1005.4" stroke="#231815" stroke-width="3.6"/>
<line x1="925" y1="991.4" x2="925" y2="999.4" stroke="#231815" stroke-width="3.6"/>
<line x1="999.2" y1="991.4" x2="999.2" y2="1005.4" stroke="#231815" stroke-width="3.6"/>
<text x="356.5" y="978" font-family="Liberation Sans, Arial, sans-serif" font-size="49" text-anchor="middle" fill="#231815">520</text>
<text x="518.9" y="978" font-family="Liberation Sans, Arial, sans-serif" font-size="49" text-anchor="middle" fill="#231815">560</text>
<text x="681.5" y="978" font-family="Liberation Sans, Arial, sans-serif" font-size="49" text-anchor="middle" fill="#231815">600</text>
<text x="836.8" y="978" font-family="Liberation Sans, Arial, sans-serif" font-size="49" text-anchor="middle" fill="#231815">640</text>
<text x="999.2" y="978" font-family="Liberation Sans, Arial, sans-serif" font-size="49" text-anchor="middle" fill="#231815">680</text>
<text x="258.9" y="1670.5" font-family="Liberation Sans, Arial, sans-serif" font-size="49" text-anchor="middle" fill="#231815">2.5</text>
<text x="370.8" y="1670.5" font-family="Liberation Sans, Arial, sans-serif" font-size="49" text-anchor="middle" fill="#231815">2.4</text>
<text x="482.7" y="1670.5" font-family="Liberation Sans, Arial, sans-serif" font-size="49" text-anchor="middle" fill="#231815">2.3</text>
<text x="594.6" y="1670.5" font-family="Liberation Sans, Arial, sans-serif" font-size="49" text-anchor="middle" fill="#231815">2.2</text>
<text x="706.5" y="1670.5" font-family="Liberation Sans, Arial, sans-serif" font-size="49" text-anchor="middle" fill="#231815">2.1</text>
<text x="818.4" y="1670.5" font-family="Liberation Sans, Arial, sans-serif" font-size="49" text-anchor="middle" fill="#231815">2.0</text>
<text x="930.3" y="1670.5" font-family="Liberation Sans, Arial, sans-serif" font-size="49" text-anchor="middle" fill="#231815">1.9</text>
<text x="1042.2" y="1670.5" font-family="Liberation Sans, Arial, sans-serif" font-size="49" text-anchor="middle" fill="#231815">1.8</text>
<text x="206" y="1600.9" font-family="Liberation Sans, Arial, sans-serif" font-size="49" text-anchor="middle" fill="#231815">0</text>
<text x="77" y="1470.6" font-family="Liberation Sans, Arial, sans-serif" font-size="49" fill="#231815">1</text>
<text x="121.5" y="1470.6" font-family="Liberation Sans, Arial, sans-serif" font-size="49" fill="#231815">×</text>
<text x="166.6" y="1470.6" font-family="Liberation Sans, Arial, sans-serif" font-size="49" fill="#231815" textLength="45.8" lengthAdjust="spacingAndGlyphs">10</text>
<text x="219.4" y="1451.9" font-family="Liberation Sans, Arial, sans-serif" font-size="35" fill="#231815">4</text>
<text x="77" y="1339" font-family="Liberation Sans, Arial, sans-serif" font-size="49" fill="#231815">2</text>
<text x="121.5" y="1339" font-family="Liberation Sans, Arial, sans-serif" font-size="49" fill="#231815">×</text>
<text x="166.6" y="1339" font-family="Liberation Sans, Arial, sans-serif" font-size="49" fill="#231815" textLength="45.8" lengthAdjust="spacingAndGlyphs">10</text>
<text x="219.4" y="1320.3" font-family="Liberation Sans, Arial, sans-serif" font-size="35" fill="#231815">4</text>
<text x="77" y="1207.5" font-family="Liberation Sans, Arial, sans-serif" font-size="49" fill="#231815">3</text>
<text x="121.5" y="1207.5" font-family="Liberation Sans, Arial, sans-serif" font-size="49" fill="#231815">×</text>
<text x="166.6" y="1207.5" font-family="Liberation Sans, Arial, sans-serif" font-size="49" fill="#231815" textLength="45.8" lengthAdjust="spacingAndGlyphs">10</text>
<text x="219.4" y="1188.8" font-family="Liberation Sans, Arial, sans-serif" font-size="35" fill="#231815">4</text>
<text x="77" y="1075.9" font-family="Liberation Sans, Arial, sans-serif" font-size="49" fill="#231815">4</text>
<text x="121.5" y="1075.9" font-family="Liberation Sans, Arial, sans-serif" font-size="49" fill="#231815">×</text>
<text x="166.6" y="1075.9" font-family="Liberation Sans, Arial, sans-serif" font-size="49" fill="#231815" textLength="45.8" lengthAdjust="spacingAndGlyphs">10</text>
<text x="219.4" y="1057.2" font-family="Liberation Sans, Arial, sans-serif" font-size="35" fill="#231815">4</text>
<text x="445" y="913" font-family="Liberation Sans, Arial, sans-serif" font-size="54.5" fill="#231815" textLength="413" lengthAdjust="spacingAndGlyphs">Wavelength (nm)</text>
<text x="507" y="1735" font-family="Liberation Sans, Arial, sans-serif" font-size="54.5" fill="#231815" textLength="291" lengthAdjust="spacingAndGlyphs">Energy (eV)</text>
<text transform="translate(56.5,1518) rotate(-90)" font-family="Liberation Sans, Arial, sans-serif" font-size="55.5" fill="#231815" textLength="437" lengthAdjust="spacingAndGlyphs">PL intensity (cps)</text>
<line x1="787" y1="1036.4" x2="851" y2="1036.4" stroke="#2b7a5c" stroke-width="4.5" stroke-linecap="round"/>
<text x="867" y="1050.9" font-family="Liberation Sans, Arial, sans-serif" font-size="42.5" fill="#231815" textLength="147" lengthAdjust="spacingAndGlyphs">0.0 GPa</text>
<line x1="787" y1="1080.4" x2="851" y2="1080.4" stroke="#009a4e" stroke-width="4.5" stroke-linecap="round"/>
<text x="867" y="1094.9" font-family="Liberation Sans, Arial, sans-serif" font-size="42.5" fill="#231815" textLength="147" lengthAdjust="spacingAndGlyphs">0.5 GPa</text>
<line x1="787" y1="1124.3" x2="851" y2="1124.3" stroke="#8a7418" stroke-width="4.5" stroke-linecap="round"/>
<text x="867" y="1138.8" font-family="Liberation Sans, Arial, sans-serif" font-size="42.5" fill="#231815" textLength="147" lengthAdjust="spacingAndGlyphs">1.0 GPa</text>
<line x1="787" y1="1168.3" x2="851" y2="1168.3" stroke="#fff000" stroke-width="4.5" stroke-linecap="round"/>
<text x="867" y="1182.8" font-family="Liberation Sans, Arial, sans-serif" font-size="42.5" fill="#231815" textLength="147" lengthAdjust="spacingAndGlyphs">1.8 GPa</text>
<line x1="787" y1="1212.3" x2="851" y2="1212.3" stroke="#ff8c00" stroke-width="4.5" stroke-linecap="round"/>
<text x="867" y="1226.8" font-family="Liberation Sans, Arial, sans-serif" font-size="42.5" fill="#231815" textLength="147" lengthAdjust="spacingAndGlyphs">2.3 GPa</text>
<line x1="787" y1="1256.2" x2="851" y2="1256.2" stroke="#ff5a3c" stroke-width="4.5" stroke-linecap="round"/>
<text x="867" y="1270.8" font-family="Liberation Sans, Arial, sans-serif" font-size="42.5" fill="#231815" textLength="147" lengthAdjust="spacingAndGlyphs">2.7 GPa</text>
<line x1="787" y1="1300.2" x2="851" y2="1300.2" stroke="#a0603e" stroke-width="4.5" stroke-linecap="round"/>
<text x="867" y="1314.7" font-family="Liberation Sans, Arial, sans-serif" font-size="42.5" fill="#231815" textLength="147" lengthAdjust="spacingAndGlyphs">3.5 GPa</text>
<line x1="787" y1="1344.2" x2="851" y2="1344.2" stroke="#ff0010" stroke-width="4.5" stroke-linecap="round"/>
<text x="867" y="1358.7" font-family="Liberation Sans, Arial, sans-serif" font-size="42.5" fill="#231815" textLength="147" lengthAdjust="spacingAndGlyphs">4.1 GPa</text>
<line x1="787" y1="1388.2" x2="851" y2="1388.2" stroke="#ff0a5a" stroke-width="4.5" stroke-linecap="round"/>
<text x="867" y="1402.7" font-family="Liberation Sans, Arial, sans-serif" font-size="42.5" fill="#231815" textLength="147" lengthAdjust="spacingAndGlyphs">4.5 GPa</text>
<line x1="787" y1="1432.1" x2="851" y2="1432.1" stroke="#1e0e0e" stroke-width="4.5" stroke-linecap="round"/>
<text x="867" y="1446.6" font-family="Liberation Sans, Arial, sans-serif" font-size="42.5" fill="#231815" textLength="147" lengthAdjust="spacingAndGlyphs">7.6 GPa</text>
<line x1="408" y1="1070.4" x2="712" y2="1070.4" stroke="#231815" stroke-width="4" stroke-dasharray="2.8 8.1" stroke-linecap="round"/>
<path d="M708.2,1058.7 L735.6,1070.2 L708.2,1082.6 L712.1,1070.4 Z" fill="#2a2a2a"/>
<text x="657" y="1118.5" font-family="Liberation Sans, Arial, sans-serif" font-size="44" fill="#111">P</text>
<text x="72.5" y="936" font-family="Liberation Sans, Arial, sans-serif" font-size="85" fill="#000">b</text>
<line x1="1206.3" y1="1090.5" x2="1801.8" y2="1090.5" stroke="#1a1414" stroke-width="4"/>
<path d="M1206.3,1190.5 C1220.2,1190.2 1269.4,1189.8 1290,1189 C1310.6,1188.2 1318.7,1187 1330,1186 C1341.3,1185 1351,1183.3 1358,1182.8 C1365,1182.3 1365,1182.2 1372,1183 C1379,1183.8 1390,1186.3 1400,1187.5 C1410,1188.7 1415.3,1189.5 1432,1190 C1448.7,1190.5 1438.4,1190.4 1500,1190.5 C1561.6,1190.6 1751.5,1190.5 1801.8,1190.5" fill="none" stroke="#5a5a5a" stroke-width="3.4" stroke-linejoin="round"/>
<path d="M1206.3,1291.8 C1221.9,1291.5 1277.7,1290.9 1300,1290 C1322.3,1289.1 1329.7,1287.5 1340,1286.5 C1350.3,1285.5 1355.7,1284.4 1362,1284 C1368.3,1283.6 1370,1283.6 1378,1284.2 C1386,1284.8 1396.3,1286.5 1410,1287.5 C1423.7,1288.5 1435,1289.8 1460,1290.5 C1485,1291.2 1535.8,1291.8 1560,1291.5 C1584.2,1291.2 1593,1290.2 1605,1289 C1617,1287.8 1625.3,1285.3 1632,1284.5 C1638.7,1283.7 1641,1283.9 1645,1284 C1649,1284.1 1651,1284 1656,1285 C1661,1286 1667.7,1288.9 1675,1290 C1682.3,1291.1 1678.9,1291.2 1700,1291.5 C1721.1,1291.8 1784.8,1291.8 1801.8,1291.8" fill="none" stroke="#8c8c8c" stroke-width="3.4" stroke-linejoin="round"/>
<path d="M1206.3,1394.6 C1221.8,1393.8 1276.8,1392.6 1299,1389.6 C1321.2,1386.6 1328.6,1381.1 1339.2,1376.4 C1349.8,1371.7 1355.8,1364.5 1362.4,1361.5 C1369,1358.5 1374,1358.2 1379,1358.2 C1384,1358.2 1383.4,1359.6 1392.2,1361.5 C1401,1363.4 1419.9,1367.3 1432,1369.8 C1444.1,1372.3 1454,1373.7 1465,1376.4 C1476,1379.2 1487.2,1384.1 1498.2,1386.3 C1509.2,1388.5 1522.5,1389.6 1531.3,1389.6 C1540.1,1389.6 1544,1388.2 1551.2,1386.3 C1558.4,1384.4 1567.5,1379.9 1574.4,1378 C1581.3,1376.1 1587.6,1374.7 1592.6,1374.7 C1597.6,1374.7 1599,1375.8 1604.2,1378 C1609.4,1380.2 1614,1385.5 1624,1388 C1634,1390.5 1634.4,1392.1 1664,1393 C1693.6,1393.9 1778.8,1393.4 1801.8,1393.5" fill="none" stroke="#ff8fb6" stroke-width="3.6" stroke-linejoin="round"/>
<path d="M1206.3,1494.7 C1221.8,1494 1276.7,1492.1 1299,1490.7 C1321.3,1489.3 1328.2,1487.4 1340,1486.5 C1351.8,1485.6 1360,1485.7 1370,1485.5 C1380,1485.3 1390,1485.9 1400,1485.5 C1410,1485.1 1420.7,1485 1430,1483 C1439.3,1481 1447.4,1478.6 1456,1473.5 C1464.6,1468.4 1473.5,1459.9 1481.6,1452.6 C1489.7,1445.2 1498.2,1435.2 1504.8,1429.4 C1511.4,1423.6 1516.6,1419.5 1521,1417.5 C1525.4,1415.5 1527.6,1415.8 1531,1417.2 C1534.4,1418.6 1536.8,1418.5 1541.3,1426 C1545.8,1433.5 1552.3,1452.5 1557.8,1462.5 C1563.3,1472.5 1567.8,1480.7 1574.4,1485.7 C1581,1490.7 1586.7,1491 1597.6,1492.4 C1608.5,1493.8 1606,1493.7 1640,1494 C1674,1494.3 1774.8,1494 1801.8,1494" fill="none" stroke="#ff0a7a" stroke-width="4.2" stroke-linejoin="round"/>
<path d="M1206.3,1597.7 C1221.8,1597.3 1272.4,1596.8 1299,1595.5 C1325.6,1594.2 1349.1,1592.3 1365.7,1590 C1382.3,1587.7 1388.9,1587.6 1398.8,1581.8 C1408.7,1576 1418.7,1564.1 1425.3,1555.3 C1431.9,1546.5 1434.6,1534.4 1438.6,1528.8 C1442.6,1523.2 1445.3,1521.8 1449.2,1521.8 C1453.1,1521.8 1457,1523.2 1461.8,1528.8 C1466.6,1534.4 1472.2,1546.5 1478.3,1555.3 C1484.4,1564.1 1492.1,1575.8 1498.2,1581.8 C1504.3,1587.8 1508.9,1589.1 1515,1591.5 C1521.1,1593.9 1527.5,1595 1535,1596 C1542.5,1597 1549.2,1597.1 1560,1597.4 C1570.8,1597.7 1559.7,1597.7 1600,1597.7 C1640.3,1597.8 1768.2,1597.7 1801.8,1597.7" fill="none" stroke="#ff0a50" stroke-width="4.2" stroke-linejoin="round"/>
<rect x="1206.3" y="990.8" width="595.5" height="617.6" fill="none" stroke="#1a1414" stroke-width="3.6"/>
<line x1="1191.8" y1="1090.5" x2="1206.3" y2="1090.5" stroke="#1a1414" stroke-width="3.6"/>
<line x1="1191.8" y1="1193.5" x2="1206.3" y2="1193.5" stroke="#1a1414" stroke-width="3.6"/>
<line x1="1191.8" y1="1295" x2="1206.3" y2="1295" stroke="#1a1414" stroke-width="3.6"/>
<line x1="1191.8" y1="1396.5" x2="1206.3" y2="1396.5" stroke="#1a1414" stroke-width="3.6"/>
<line x1="1191.8" y1="1498" x2="1206.3" y2="1498" stroke="#1a1414" stroke-width="3.6"/>
<line x1="1191.8" y1="1599.5" x2="1206.3" y2="1599.5" stroke="#1a1414" stroke-width="3.6"/>
<line x1="1198.3" y1="1040.8" x2="1206.3" y2="1040.8" stroke="#1a1414" stroke-width="3.6"/>
<line x1="1198.3" y1="1142.2" x2="1206.3" y2="1142.2" stroke="#1a1414" stroke-width="3.6"/>
<line x1="1198.3" y1="1243.8" x2="1206.3" y2="1243.8" stroke="#1a1414" stroke-width="3.6"/>
<line x1="1198.3" y1="1345.2" x2="1206.3" y2="1345.2" stroke="#1a1414" stroke-width="3.6"/>
<line x1="1198.3" y1="1446.8" x2="1206.3" y2="1446.8" stroke="#1a1414" stroke-width="3.6"/>
<line x1="1198.3" y1="1548.2" x2="1206.3" y2="1548.2" stroke="#1a1414" stroke-width="3.6"/>
<line x1="1206.3" y1="1608.4" x2="1206.3" y2="1622.4" stroke="#1a1414" stroke-width="3.6"/>
<line x1="1325.4" y1="1608.4" x2="1325.4" y2="1622.4" stroke="#1a1414" stroke-width="3.6"/>
<line x1="1444.5" y1="1608.4" x2="1444.5" y2="1622.4" stroke="#1a1414" stroke-width="3.6"/>
<line x1="1563.6" y1="1608.4" x2="1563.6" y2="1622.4" stroke="#1a1414" stroke-width="3.6"/>
<line x1="1682.7" y1="1608.4" x2="1682.7" y2="1622.4" stroke="#1a1414" stroke-width="3.6"/>
<line x1="1801.8" y1="1608.4" x2="1801.8" y2="1622.4" stroke="#1a1414" stroke-width="3.6"/>
<line x1="1265.9" y1="1608.4" x2="1265.9" y2="1616.4" stroke="#1a1414" stroke-width="3.6"/>
<line x1="1385" y1="1608.4" x2="1385" y2="1616.4" stroke="#1a1414" stroke-width="3.6"/>
<line x1="1504.1" y1="1608.4" x2="1504.1" y2="1616.4" stroke="#1a1414" stroke-width="3.6"/>
<line x1="1623.2" y1="1608.4" x2="1623.2" y2="1616.4" stroke="#1a1414" stroke-width="3.6"/>
<line x1="1742.2" y1="1608.4" x2="1742.2" y2="1616.4" stroke="#1a1414" stroke-width="3.6"/>
<line x1="1227.8" y1="990.8" x2="1227.8" y2="1004.8" stroke="#1a1414" stroke-width="3.6"/>
<line x1="1281.8" y1="990.8" x2="1281.8" y2="998.8" stroke="#1a1414" stroke-width="3.6"/>
<line x1="1335.9" y1="990.8" x2="1335.9" y2="1004.8" stroke="#1a1414" stroke-width="3.6"/>
<line x1="1389.9" y1="990.8" x2="1389.9" y2="998.8" stroke="#1a1414" stroke-width="3.6"/>
<line x1="1444" y1="990.8" x2="1444" y2="1004.8" stroke="#1a1414" stroke-width="3.6"/>
<line x1="1498" y1="990.8" x2="1498" y2="998.8" stroke="#1a1414" stroke-width="3.6"/>
<line x1="1552.1" y1="990.8" x2="1552.1" y2="1004.8" stroke="#1a1414" stroke-width="3.6"/>
<line x1="1606.1" y1="990.8" x2="1606.1" y2="998.8" stroke="#1a1414" stroke-width="3.6"/>
<line x1="1660.2" y1="990.8" x2="1660.2" y2="1004.8" stroke="#1a1414" stroke-width="3.6"/>
<line x1="1714.2" y1="990.8" x2="1714.2" y2="998.8" stroke="#1a1414" stroke-width="3.6"/>
<line x1="1768.3" y1="990.8" x2="1768.3" y2="1004.8" stroke="#1a1414" stroke-width="3.6"/>
<text x="1227.8" y="977.5" font-family="Liberation Sans, Arial, sans-serif" font-size="49" text-anchor="middle" fill="#1a1414">570</text>
<text x="1335.9" y="977.5" font-family="Liberation Sans, Arial, sans-serif" font-size="49" text-anchor="middle" fill="#1a1414">600</text>
<text x="1444" y="977.5" font-family="Liberation Sans, Arial, sans-serif" font-size="49" text-anchor="middle" fill="#1a1414">630</text>
<text x="1552.1" y="977.5" font-family="Liberation Sans, Arial, sans-serif" font-size="49" text-anchor="middle" fill="#1a1414">660</text>
<text x="1660.2" y="977.5" font-family="Liberation Sans, Arial, sans-serif" font-size="49" text-anchor="middle" fill="#1a1414">690</text>
<text x="1768.3" y="977.5" font-family="Liberation Sans, Arial, sans-serif" font-size="49" text-anchor="middle" fill="#1a1414">720</text>
<text x="1206.3" y="1669.5" font-family="Liberation Sans, Arial, sans-serif" font-size="49" text-anchor="middle" fill="#1a1414">2.2</text>
<text x="1325.4" y="1669.5" font-family="Liberation Sans, Arial, sans-serif" font-size="49" text-anchor="middle" fill="#1a1414">2.1</text>
<text x="1444.5" y="1669.5" font-family="Liberation Sans, Arial, sans-serif" font-size="49" text-anchor="middle" fill="#1a1414">2.0</text>
<text x="1563.6" y="1669.5" font-family="Liberation Sans, Arial, sans-serif" font-size="49" text-anchor="middle" fill="#1a1414">1.9</text>
<text x="1682.7" y="1669.5" font-family="Liberation Sans, Arial, sans-serif" font-size="49" text-anchor="middle" fill="#1a1414">1.8</text>
<text x="1801.8" y="1669.5" font-family="Liberation Sans, Arial, sans-serif" font-size="49" text-anchor="middle" fill="#1a1414">1.7</text>
<text x="1300" y="913" font-family="Liberation Sans, Arial, sans-serif" font-size="54.5" fill="#1a1414" textLength="413" lengthAdjust="spacingAndGlyphs">Wavelength (nm)</text>
<text x="1356" y="1733" font-family="Liberation Sans, Arial, sans-serif" font-size="55" fill="#1a1414" textLength="301" lengthAdjust="spacingAndGlyphs">Energy (eV)</text>
<text transform="translate(1153.5,1592) rotate(-90)" font-family="Liberation Sans, Arial, sans-serif" font-size="57" fill="#1a1414" textLength="582" lengthAdjust="spacingAndGlyphs">PL intensity (arb. units)</text>
<text x="1221" y="1077" font-family="Liberation Sans, Arial, sans-serif" font-size="40.5" fill="#1a1414" textLength="95" lengthAdjust="spacingAndGlyphs">×100</text>
<text x="1233" y="1175.5" font-family="Liberation Sans, Arial, sans-serif" font-size="40.5" fill="#1a1414" textLength="70" lengthAdjust="spacingAndGlyphs">×20</text>
<text x="1233" y="1278" font-family="Liberation Sans, Arial, sans-serif" font-size="40.5" fill="#1a1414" textLength="70" lengthAdjust="spacingAndGlyphs">×10</text>
<text x="1233" y="1380.5" font-family="Liberation Sans, Arial, sans-serif" font-size="40.5" fill="#1a1414" textLength="70" lengthAdjust="spacingAndGlyphs">×10</text>
<text x="1233" y="1482" font-family="Liberation Sans, Arial, sans-serif" font-size="40.5" fill="#1a1414" textLength="70" lengthAdjust="spacingAndGlyphs">×10</text>
<text x="1780.5" y="1080" font-family="Liberation Sans, Arial, sans-serif" font-size="40.5" fill="#1a1414" text-anchor="end" textLength="157" lengthAdjust="spacingAndGlyphs">7.6 GPa</text>
<text x="1780.5" y="1177.5" font-family="Liberation Sans, Arial, sans-serif" font-size="40.5" fill="#1a1414" text-anchor="end" textLength="157" lengthAdjust="spacingAndGlyphs">6.5 GPa</text>
<text x="1780.5" y="1272" font-family="Liberation Sans, Arial, sans-serif" font-size="40.5" fill="#1a1414" text-anchor="end" textLength="157" lengthAdjust="spacingAndGlyphs">6.0 GPa</text>
<text x="1780.5" y="1380" font-family="Liberation Sans, Arial, sans-serif" font-size="40.5" fill="#1a1414" text-anchor="end" textLength="157" lengthAdjust="spacingAndGlyphs">5.5 GPa</text>
<text x="1780.5" y="1482" font-family="Liberation Sans, Arial, sans-serif" font-size="40.5" fill="#1a1414" text-anchor="end" textLength="157" lengthAdjust="spacingAndGlyphs">5.1 GPa</text>
<text x="1780.5" y="1584" font-family="Liberation Sans, Arial, sans-serif" font-size="40.5" fill="#1a1414" text-anchor="end" textLength="157" lengthAdjust="spacingAndGlyphs">4.5 GPa</text>
<line x1="1365.8" y1="1600" x2="1364.3" y2="1156" stroke="#1a1a1a" stroke-width="3.4" stroke-dasharray="2.6 6.6" stroke-linecap="round"/>
<path d="M1364,1129.8 L1379,1161.3 L1364.3,1154 L1350.8,1161.3 Z" fill="#333"/>
<text x="1383.5" y="1165" font-family="Liberation Sans, Arial, sans-serif" font-size="40" fill="#111">P</text>
<path d="M1460,1582 C1463.3,1575 1473.7,1553.3 1480,1540 C1486.3,1526.7 1489.5,1518.2 1498,1502 C1506.5,1485.8 1519.9,1462 1531,1442.7 C1542.1,1423.4 1553.7,1403.4 1564.5,1386.3 C1575.3,1369.2 1585.8,1352.7 1596,1340 C1606.2,1327.3 1621,1315 1626,1310" fill="none" stroke="#1a1a1a" stroke-width="3.4" stroke-dasharray="2.6 6.6" stroke-linecap="round"/>
<path d="M1647.3,1298.8 L1634,1325.3 L1628,1313 L1617.5,1307 Z" fill="#333"/>
<text x="1564" y="1332" font-family="Liberation Sans, Arial, sans-serif" font-size="40" fill="#111">P</text>
<text x="1111.5" y="936.5" font-family="Liberation Sans, Arial, sans-serif" font-size="85" fill="#000">c</text>
</svg>
</body></html>
